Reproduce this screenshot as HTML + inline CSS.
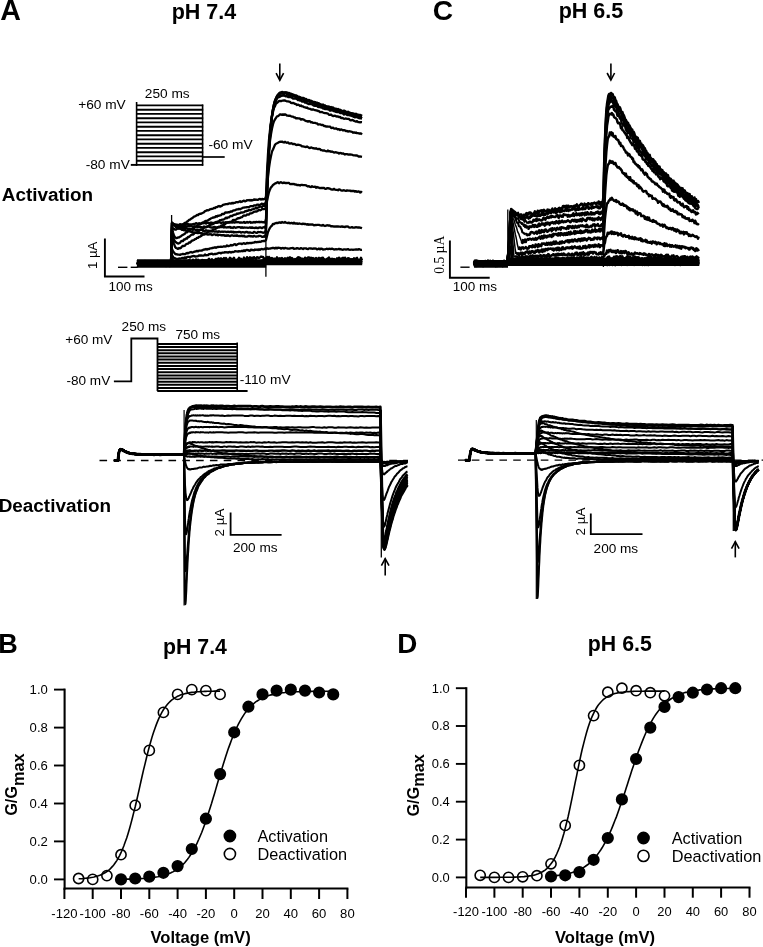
<!DOCTYPE html>
<html lang="en"><head><meta charset="utf-8"><title>Figure</title>
<style>html,body{margin:0;padding:0;background:#fff}svg{display:block}</style>
</head><body>
<svg width="763" height="947" viewBox="0 0 763 947" font-family="'Liberation Sans', Arial, sans-serif" fill="#000">
<rect width="763" height="947" fill="#fff"/>
<text x="0.2" y="19.7" font-size="28.6" font-weight="bold" text-anchor="start" >A</text>
<text x="432.7" y="20" font-size="28.2" font-weight="bold" text-anchor="start" >C</text>
<text x="-1.7" y="653.4" font-size="27" font-weight="bold" text-anchor="start" >B</text>
<text x="397.2" y="652.9" font-size="27.8" font-weight="bold" text-anchor="start" >D</text>
<text x="203.9" y="18.5" font-size="21.5" font-weight="bold" text-anchor="middle" >pH 7.4</text>
<text x="590.9" y="17.8" font-size="21.5" font-weight="bold" text-anchor="middle" >pH 6.5</text>
<text x="195" y="653.5" font-size="21.3" font-weight="bold" text-anchor="middle" >pH 7.4</text>
<text x="619.8" y="650.6" font-size="21.3" font-weight="bold" text-anchor="middle" >pH 6.5</text>
<text x="1.8" y="201.2" font-size="18.9" font-weight="bold" text-anchor="start" >Activation</text>
<text x="-1.3" y="511.7" font-size="18.9" font-weight="bold" text-anchor="start" >Deactivation</text>
<g fill="none" stroke="#000" stroke-linejoin="round" stroke-linecap="butt">
<polyline points="137,261.9 138,261.4 139,263 140,261.1 141,262.6 142,262.1 143,261.1 144,262.5 145,261 146,262.3 147,261.1 148,261.2 149,262.3 150,263.5 151,261.3 152,261.6 153,262.9 154,263.9 155,262.7 156,262.2 157,264 158,261 159,263.6 160,261.8 161,261.4 162,261.3 163,261.9 164,263.5 165,261.5 166,262.8 167,262.9 168,262.1 169,262.7 170,261.1 171,261.1 172,261.6 173,263.1 174,262.3 175,261.9 176,262.8 177,262.4 178,261.9 179,263.4 180,263.1 181,261.7 182,262.7 183,262.6 184,263.7 185,263.2 186,261.8 187,264 188,261.3 189,262.2 190,263.3 191,261.4 192,262.5 193,261 194,263 195,263.3 196,262.7 197,263.7 198,261.9 199,263.1 200,262.8 201,262.8 202,262.4 203,263.6 204,263.9 205,262.4 206,263 207,261.1 208,263.1 209,263 210,264.1 211,263.5 212,261.8 213,262.1 214,263 215,261 216,262.4 217,261.4 218,261.3 219,261.1 220,263.4 221,261.3 222,261.7 223,262.2 224,263.7 225,261.2 226,262.3 227,262.7 228,263.7 229,263.5 230,263.7 231,261.8 232,262.2 233,262 234,263.7 235,264 236,261.4 237,261.5 238,261.6 239,261.6 240,262.5 241,262.8 242,261.7 243,260.9 244,262.2 245,262.1 246,262.7 247,263.9 248,263.1 249,262.5 250,262.9 251,263.1 252,261.1 253,263.8 254,263.4 255,263.7 256,263.5 257,262.2 258,262.2 259,261.2 260,262.9 261,261.1 262,261.1 263,261.6 264,261.4 265,262 266,261 267,260.6 268,260.9 269,260.7 270,261.5 271,260.5 272,263.2 273,262.4 274,260.9 275,261.3 276,261.6 277,261.6 278,260.9 279,263.2 280,263.7 281,262 282,262 283,260.8 284,260.8 285,261.6 286,261.3 287,263.2 288,261 289,260.6 290,263.5 291,262.2 292,261 293,262.2 294,260.6 295,262.2 296,263.6 297,263.2 298,262.7 299,261.3 300,261.7 301,261 302,262.9 303,262.2 304,263 305,261.5 306,261.2 307,263.1 308,263.6 309,263.2 310,263 311,263.1 312,262.8 313,261.2 314,262.1 315,261.6 316,260.5 317,260.5 318,261.3 319,261.3 320,262.7 321,263.5 322,261.9 323,263.4 324,263.6 325,263.5 326,261.6 327,261.1 328,261.2 329,261.1 330,261.1 331,262.4 332,263.3 333,263.1 334,262 335,262.5 336,263 337,260.7 338,262.5 339,263.3 340,262.9 341,262.8 342,262 343,261 344,262.9 345,261.5 346,263 347,263.5 348,261.7 349,261.7 350,263.4 351,262.7 352,261 353,260.8 354,260.9 355,263.3 356,263 357,260.9 358,263 359,263.5 360,262.5 361,261.5 362,262.2" stroke-width="2.3" />
<polyline points="137,261.8 138,261.4 139,264.5 140,263.5 141,263.1 142,264.4 143,262.8 144,264.2 145,264 146,262.1 147,262.2 148,262.3 149,262.2 150,263.3 151,262.2 152,262.7 153,261.8 154,264.3 155,262.5 156,262.9 157,263.3 158,264.3 159,262.7 160,264.3 161,263 162,263.1 163,263.1 164,261.5 165,262.8 166,262 167,261.4 168,264 169,262 170,262.9 171,263.7 172,262.1 173,261.7 174,262.5 175,262.7 176,263.5 177,261.4 178,262.9 179,261.9 180,262 181,263.6 182,262.8 183,262.9 184,263.6 185,264 186,262.5 187,263.1 188,262.7 189,262.7 190,263.3 191,262.5 192,262.8 193,262.6 194,264.1 195,263.3 196,263.9 197,264.1 198,261.9 199,262.9 200,264.1 201,263.8 202,261.5 203,261.5 204,262.5 205,261.3 206,261.8 207,261.3 208,263.2 209,263.6 210,263.9 211,261.5 212,263.3 213,263.2 214,261.5 215,263.9 216,264.1 217,261.7 218,264.1 219,262.3 220,262.6 221,264.2 222,263.7 223,261.5 224,262.4 225,262.7 226,262.1 227,261.7 228,262 229,263.3 230,261.1 231,262.8 232,262.4 233,261.1 234,262.1 235,263 236,262.7 237,261.2 238,264.2 239,263.5 240,264.1 241,261.3 242,261.9 243,261.1 244,263.5 245,261.9 246,261.4 247,262.4 248,263.9 249,263.6 250,261.8 251,261.5 252,263.9 253,262.8 254,263.2 255,261.3 256,261.2 257,263.2 258,262.4 259,261.2 260,264 261,263 262,263.6 263,261.3 264,263.7 265,261.2 266,263.7 267,262 268,261.4 269,262 270,263.1 271,261 272,260.6 273,261.8 274,260.9 275,260.5 276,260.7 277,260.3 278,260.8 279,261.2 280,261.2 281,262.6 282,261.1 283,261.8 284,260.8 285,261.3 286,260.3 287,261 288,260.2 289,262.5 290,262 291,260.8 292,261.7 293,263.2 294,260.5 295,262.8 296,261.6 297,261.8 298,262.9 299,261.5 300,261.8 301,262.4 302,263.3 303,261.3 304,262.9 305,262.5 306,262.2 307,261.5 308,261.3 309,260.4 310,260.6 311,260.4 312,262.6 313,261 314,260.7 315,260.5 316,262.9 317,263 318,262.3 319,261.1 320,261 321,261.1 322,261.7 323,260.7 324,261.6 325,261 326,263.3 327,263.3 328,261.9 329,261 330,263.3 331,261.2 332,261.3 333,260.2 334,261.4 335,261.7 336,261.8 337,260.8 338,261.8 339,260.2 340,261 341,260.5 342,261.5 343,260.3 344,260.3 345,261.2 346,260.9 347,262.1 348,261.9 349,262.6 350,262.3 351,262.5 352,263 353,261.4 354,261.2 355,263.3 356,260.7 357,262.5 358,262.2 359,260.3 360,262.9 361,263 362,262.2" stroke-width="2.3" />
<polyline points="137,264.2 138,264.5 139,262.3 140,263.6 141,263.5 142,264.6 143,264.5 144,264.5 145,263.8 146,264.8 147,264.1 148,264.1 149,262.6 150,262 151,262.3 152,263.1 153,262.2 154,264.6 155,263.7 156,263.9 157,263.9 158,264.1 159,263.5 160,261.9 161,264.5 162,264.3 163,263.5 164,263.6 165,264 166,262.1 167,264.3 168,262.7 169,262.1 170,262.7 171,264.2 172,260.4 173,262.7 174,263.8 175,262.5 176,262.3 177,262.7 178,263.4 179,263.7 180,263.2 181,263.3 182,261.5 183,261.7 184,262 185,263.6 186,262.1 187,263 188,261.2 189,261.3 190,262 191,263.3 192,263.3 193,263.2 194,262 195,262.7 196,262.5 197,262.5 198,261.4 199,263.9 200,261.6 201,264.1 202,264 203,261 204,262.4 205,263.6 206,264.1 207,262.4 208,261.8 209,261.6 210,263.9 211,261.6 212,262.8 213,261.4 214,262.6 215,263.9 216,261.3 217,263.5 218,262.5 219,263.7 220,263.1 221,261.6 222,263.7 223,262.4 224,260.9 225,260.8 226,262.4 227,262.3 228,261.8 229,261.3 230,261.9 231,261.8 232,263.5 233,260.8 234,263.2 235,263.5 236,261.2 237,263.7 238,263.1 239,263.7 240,261.7 241,262 242,262 243,264 244,262.6 245,261.9 246,262.1 247,261.6 248,260.9 249,261.1 250,263.4 251,261.6 252,263.7 253,261.5 254,261.6 255,262.4 256,261.3 257,261.9 258,263.8 259,263.5 260,263.3 261,262.7 262,263.6 263,263.7 264,262.5 265,263 266,260.8 267,262.5 268,261.3 269,262.2 270,261.7 271,260.5 272,259.7 273,262.5 274,260 275,261.1 276,260.7 277,260.5 278,261.9 279,262.7 280,260.4 281,261.7 282,260.5 283,261.4 284,260.9 285,260.1 286,260.1 287,260.3 288,262.5 289,261.2 290,260.3 291,262.5 292,262.8 293,261 294,260.1 295,260.2 296,259.9 297,260.7 298,259.9 299,260.4 300,260.4 301,261.4 302,262.5 303,262 304,260.9 305,261 306,261.3 307,260.8 308,260.7 309,259.8 310,260.5 311,262.7 312,260 313,261.2 314,261.7 315,262.4 316,260.3 317,260.5 318,260.4 319,260.9 320,261.1 321,262.7 322,262.4 323,262.4 324,259.7 325,259.8 326,261.9 327,262.5 328,261.2 329,261.5 330,259.7 331,260.9 332,262.6 333,262.3 334,262.4 335,262.8 336,260.5 337,260 338,260.2 339,261.3 340,261.9 341,262.7 342,262 343,261.8 344,262.1 345,261.1 346,261.4 347,259.8 348,262.2 349,260.4 350,262.6 351,261.8 352,260.7 353,260.1 354,260.5 355,261.7 356,261.9 357,260.1 358,259.9 359,261.4 360,261.6 361,260.9 362,260.4" stroke-width="2.3" />
<polyline points="137,264.3 138,262.4 139,263.4 140,263.9 141,265.5 142,264.5 143,265.2 144,263.9 145,263.2 146,263.2 147,265.5 148,264.7 149,263.4 150,262.5 151,264 152,264.6 153,263.7 154,263.2 155,264.5 156,265.4 157,263.1 158,262.5 159,263.5 160,263.7 161,264.6 162,263 163,265 164,264.8 165,264 166,263.1 167,265.5 168,263.4 169,265 170,263.1 171,263.1 172,261.1 173,260.5 174,263.1 175,262 176,261.2 177,261.5 178,262.1 179,263 180,263.9 181,261.3 182,262.1 183,261.5 184,263.9 185,261.2 186,260.9 187,260.9 188,261.9 189,263.5 190,263.4 191,262.9 192,263.7 193,263.5 194,261.5 195,261.1 196,263.4 197,262.8 198,260.5 199,262.5 200,261.6 201,261.5 202,261.4 203,260.8 204,260.3 205,261.1 206,261.3 207,263.2 208,260.6 209,263.2 210,260.8 211,261.2 212,262.7 213,262.7 214,261.4 215,260.2 216,261.5 217,261.2 218,262.9 219,260.6 220,261.1 221,262.8 222,260 223,261.2 224,262.5 225,262.3 226,260 227,259.9 228,260 229,262.7 230,260.6 231,262.2 232,262.6 233,260.8 234,260.6 235,262.8 236,261.7 237,260.5 238,262 239,260.7 240,260.5 241,259.7 242,262 243,262.6 244,261.6 245,262.6 246,259.7 247,260.3 248,261.1 249,262.6 250,262.6 251,260.8 252,260.3 253,260.9 254,261.1 255,262.5 256,260.1 257,262 258,261.8 259,262.1 260,261.9 261,261.4 262,260.5 263,260.4 264,260.6 265,261.9 266,259.6 267,259.5 268,261.1 269,259.3 270,258.7 271,258.5 272,260.2 273,259.4 274,261.5 275,261.2 276,261.6 277,259.3 278,258.7 279,258.7 280,260 281,260.7 282,259.9 283,259.2 284,259.8 285,260.5 286,260.6 287,260.9 288,261.2 289,260.6 290,258.9 291,261.2 292,259.5 293,260.3 294,259.7 295,260.9 296,259.2 297,259.3 298,259.3 299,259 300,261.4 301,260.4 302,259.6 303,259.8 304,261.8 305,260.2 306,259.3 307,261.2 308,260.7 309,261.8 310,258.9 311,260.1 312,261.2 313,261.3 314,261.5 315,258.8 316,259.6 317,259 318,259.2 319,261.8 320,260.5 321,261.6 322,259.8 323,261.4 324,260.1 325,259.5 326,261.2 327,261.7 328,259 329,260.6 330,260.7 331,259.4 332,259.9 333,259.2 334,259.4 335,259.5 336,260.6 337,260.8 338,259.4 339,258.8 340,259.8 341,260.9 342,259.3 343,259.7 344,259.4 345,261.3 346,260.5 347,259 348,259.1 349,260 350,260.5 351,260.8 352,259.1 353,259.3 354,261 355,260.1 356,259.7 357,259.8 358,261.8 359,259.8 360,260.6 361,259.9 362,260.1" stroke-width="2.3" />
<polyline points="137,265.7 138,266.1 139,264.1 140,263.5 141,265.2 142,263.6 143,262.9 144,265.8 145,264.3 146,265.5 147,264.2 148,265.7 149,264.4 150,263.4 151,262.9 152,264.7 153,265 154,265.8 155,263.2 156,264.9 157,264.1 158,264.5 159,263.4 160,263.8 161,264.6 162,265.9 163,263.2 164,264.5 165,265.5 166,266 167,263.5 168,263.3 169,265.9 170,266 171,264.4 172,257.7 173,261.6 174,260.6 175,262.7 176,262 177,262.8 178,260.7 179,262.8 180,260.9 181,261.5 182,262.9 183,262.7 184,260.6 185,260.7 186,261.2 187,261.5 188,261 189,260.1 190,260.5 191,261.9 192,262.4 193,259.6 194,261.2 195,261.8 196,259.4 197,261.9 198,259.6 199,261.1 200,260.8 201,261 202,259.9 203,260.3 204,260.7 205,260.2 206,260.9 207,260.1 208,260 209,258.7 210,260.5 211,260 212,259.2 213,260.8 214,260.8 215,259.7 216,258.8 217,259.7 218,258.5 219,258.5 220,259.4 221,258.3 222,259.4 223,259.5 224,258 225,259.8 226,258 227,260.1 228,260.2 229,259.3 230,257.7 231,259.1 232,258.7 233,260.5 234,257.8 235,260.1 236,260.5 237,259.6 238,259.8 239,257.8 240,260.3 241,258.7 242,260.1 243,260 244,257.5 245,259.5 246,259.9 247,257.1 248,258 249,259.2 250,257.3 251,259.6 252,257.6 253,259.3 254,257.1 255,258.2 256,259.5 257,257.2 258,257.3 259,258.1 260,257.4 261,256.5 262,256.9 263,256.8 264,259.3 265,258.4 266,259.1 267,256.9 268,259 269,256.9 270,258.4 271,258.8 272,257.9 273,259.6 274,258.6 275,258.7 276,259.7 277,257.3 278,260.1 279,259 280,258.2 281,259.6 282,257.9 283,260.2 284,258.9 285,258.2 286,259.5 287,258.5 288,257.7 289,259.5 290,257.3 291,259.7 292,257.9 293,259.2 294,260.3 295,259 296,259.3 297,258.2 298,257.2 299,257.3 300,257.7 301,259.2 302,258.6 303,258.9 304,260.1 305,257.7 306,258 307,259.4 308,257.4 309,257.3 310,258.4 311,257.7 312,258.5 313,258 314,259.2 315,259.2 316,258 317,259.4 318,258.9 319,257.8 320,260.4 321,258.2 322,257.9 323,257.7 324,259.5 325,260.2 326,259.9 327,258.7 328,258.3 329,257.5 330,259.5 331,259.3 332,258.6 333,259.6 334,258.9 335,260.5 336,259.9 337,258.3 338,260.4 339,257.7 340,259.2 341,258.9 342,258.3 343,257.8 344,260.1 345,257.6 346,259.4 347,260.6 348,258.1 349,258.3 350,259.6 351,259.2 352,259.7 353,260.2 354,258.2 355,258.6 356,258.6 357,257.8 358,260.5 359,260.2 360,260 361,257.7 362,260.4" stroke-width="2.3" />
<polyline points="137,263.8 138,263.5 139,263.8 140,263.4 141,263.2 142,263.1 143,263.2 144,263 145,263.3 146,263.8 147,263.7 148,263.9 149,263.7 150,263.2 151,263.6 152,263.4 153,263.8 154,263.5 155,263.2 156,263.7 157,264 158,263.2 159,263.9 160,263 161,263.2 162,263.2 163,263.8 164,264 165,263.8 166,263.3 167,263.9 168,263.3 169,263.2 170,263.9 171,263.6 172,255.1 173,256.8 174,258.1 175,258.1 176,258.8 177,258.8 178,259 179,258.5 180,258.7 181,258.4 182,258 183,257.8 184,258.1 185,257.3 186,258.1 187,257.1 188,256.8 189,256.8 190,257.5 191,256.7 192,256.4 193,256.1 194,256 195,256.6 196,256.3 197,256.3 198,256.2 199,255.3 200,255.8 201,255.4 202,255.7 203,255.6 204,255.6 205,254.5 206,255.3 207,255.2 208,255.1 209,254.1 210,254 211,253.8 212,253.6 213,254.4 214,254.2 215,253.9 216,254 217,253.7 218,253.2 219,252.9 220,252.8 221,253.4 222,252.7 223,252.7 224,252.7 225,252.1 226,252.3 227,252.2 228,252.6 229,252.1 230,251.9 231,252.5 232,251.9 233,252.2 234,251.9 235,251.1 236,251.4 237,251.4 238,251.6 239,251.1 240,251.4 241,251.1 242,250.7 243,251.3 244,250.3 245,251 246,250.2 247,250 248,250.1 249,250.6 250,250.8 251,249.6 252,250.1 253,250 254,250.3 255,249.5 256,249.8 257,249.5 258,250 259,249.3 260,249.9 261,249.1 262,249 263,249.4 264,249.1 265,248.6 266,249.1 267,248.2 268,248.8 269,248.6 270,248.5 271,248.3 272,248 273,248 274,247.9 275,248.5 276,247.6 277,248.5 278,247.6 279,247.8 280,247.8 281,248.6 282,248.1 283,248 284,248.6 285,247.9 286,248.2 287,248.3 288,248.6 289,248.6 290,248.5 291,248.2 292,248.2 293,248 294,248.8 295,248.6 296,248.7 297,248.1 298,248.4 299,248.8 300,248.6 301,248.1 302,248.5 303,249 304,248.3 305,248.3 306,248.4 307,248.9 308,249.1 309,248.3 310,248.4 311,248.5 312,248.6 313,248.8 314,248.4 315,248.6 316,248.5 317,249.4 318,249.1 319,248.5 320,249.4 321,248.5 322,248.8 323,249.5 324,249.3 325,249.3 326,249 327,248.7 328,249.2 329,248.7 330,248.8 331,249 332,248.6 333,249 334,249.5 335,249.4 336,249.2 337,249.4 338,249.2 339,248.9 340,249.4 341,249.2 342,249.6 343,249.8 344,249.3 345,249.4 346,249.6 347,249.3 348,249.1 349,249.7 350,249.8 351,249.7 352,249.7 353,249.9 354,249.7 355,249.7 356,249.5 357,249.3 358,249.7 359,249.1 360,249.5 361,249.9 362,249.8" stroke-width="2.3" />
<polyline points="137,263.6 138,263.2 139,263.4 140,263.5 141,263.6 142,263.4 143,263.7 144,264 145,263.2 146,263.7 147,263.8 148,263.4 149,263.5 150,264 151,263 152,263.5 153,263.1 154,263.8 155,264 156,263.5 157,263.1 158,263.6 159,263.5 160,263.7 161,263.5 162,263.7 163,263.9 164,263.5 165,263.4 166,264 167,263.2 168,263.7 169,263.4 170,263.8 171,263.1 172,249.1 173,251.2 174,252.5 175,253.7 176,254.4 177,254.2 178,254.7 179,254.7 180,254.9 181,254.3 182,254.1 183,253.8 184,254.2 185,254.2 186,253.5 187,252.9 188,253.4 189,252.7 190,252.3 191,252 192,252.5 193,252.3 194,251.9 195,251.5 196,251.4 197,250.8 198,251.4 199,250.6 200,250.7 201,250.7 202,250.5 203,249.9 204,249.5 205,249.6 206,249 207,249.6 208,248.8 209,249.2 210,248.4 211,248.3 212,248 213,248 214,247.6 215,247.2 216,247.8 217,247.2 218,247 219,246.9 220,246.9 221,246.7 222,246.8 223,246.6 224,246.2 225,246.6 226,246.4 227,245.4 228,246.1 229,246 230,245.7 231,244.9 232,245.5 233,245.1 234,244.3 235,244.2 236,245.1 237,244.6 238,244 239,243.7 240,243.6 241,243.6 242,244.1 243,243.5 244,243.1 245,243.8 246,243.6 247,242.8 248,243.4 249,243 250,243.1 251,242.8 252,243 253,242.7 254,242.7 255,241.8 256,242.3 257,242 258,242.1 259,241.7 260,242 261,241.6 262,241.1 263,241 264,240.8 265,241.1 266,240 267,235.9 268,232 269,229.8 270,227.8 271,226.4 272,225.6 273,223.8 274,224.1 275,223.3 276,223 277,222.9 278,223 279,222.4 280,222.4 281,222.9 282,222 283,222.6 284,222.7 285,222 286,222.7 287,222.9 288,223.2 289,222.6 290,223.4 291,223 292,223 293,223.6 294,222.7 295,223.5 296,223.5 297,223.3 298,223.9 299,223.5 300,223.7 301,223.8 302,224.2 303,223.6 304,224 305,224 306,224.2 307,224.6 308,224.1 309,224.8 310,224.4 311,224.6 312,224.4 313,224.7 314,225.3 315,225 316,225.2 317,224.8 318,224.9 319,224.9 320,225.3 321,225.4 322,225.7 323,224.9 324,225.7 325,226 326,225.7 327,225.2 328,225.5 329,225.3 330,225.6 331,226.4 332,226.1 333,226.3 334,226.5 335,226.7 336,226.4 337,226.5 338,226.5 339,226.7 340,226.6 341,226.8 342,226.3 343,226.9 344,226.7 345,227.1 346,226.5 347,226.6 348,226.5 349,227.4 350,227.6 351,227.4 352,227.1 353,227.7 354,227.7 355,227.5 356,227.2 357,227.3 358,227.5 359,227.4 360,227.6 361,227.9 362,228.3" stroke-width="2.3" />
<polyline points="137,263 138,263.6 139,263 140,263.1 141,263.8 142,263.6 143,264 144,263.4 145,263 146,263.4 147,263.6 148,264 149,264 150,263.5 151,263.4 152,263.1 153,263.7 154,263.2 155,263.1 156,263 157,263 158,263.7 159,263.1 160,264 161,263 162,263.9 163,263.1 164,263 165,263.7 166,263.2 167,263.8 168,263.2 169,263 170,263.8 171,263.7 172,234.1 173,240.6 174,243.8 175,246.7 176,248 177,248.3 178,248.9 179,248 180,248.4 181,247.7 182,246.4 183,245.8 184,246 185,245.6 186,244.2 187,243.8 188,243.7 189,242.5 190,242.6 191,241.6 192,240.6 193,240.3 194,240 195,239.2 196,238.9 197,237.8 198,237.9 199,236.9 200,236.7 201,236.1 202,235.3 203,234.7 204,234.6 205,234.3 206,233.6 207,232.8 208,232 209,231.2 210,231.7 211,230.9 212,230.5 213,229.5 214,229.3 215,229.2 216,228.6 217,227.8 218,227 219,226.7 220,226.7 221,225.7 222,225.5 223,225 224,224.9 225,224.3 226,223.3 227,222.5 228,222.4 229,222.1 230,221.8 231,221.6 232,221.3 233,219.9 234,220.4 235,219.9 236,219.6 237,218.8 238,218.1 239,218.3 240,217.9 241,217.3 242,217.2 243,216.1 244,215.5 245,215.6 246,215.5 247,214.4 248,214.6 249,214.5 250,213.3 251,213.4 252,213.1 253,212.5 254,211.8 255,211.5 256,211.7 257,211.4 258,210.7 259,209.9 260,210.3 261,210 262,209 263,209.1 264,209.1 265,208.7 266,207.3 267,200.9 268,196.2 269,192.1 270,189.4 271,187.3 272,186.4 273,184.9 274,184.3 275,183.5 276,183.2 277,182.5 278,182.2 279,183.2 280,182.5 281,182.2 282,182.8 283,183.1 284,182.5 285,183 286,182.9 287,183.2 288,182.8 289,182.9 290,184.1 291,184.1 292,183.9 293,184.1 294,183.9 295,184.6 296,184.4 297,185.1 298,185 299,185.2 300,185.5 301,184.9 302,184.8 303,185.1 304,185.2 305,185.2 306,185.3 307,186 308,186.5 309,186.2 310,186.9 311,187 312,186.2 313,186.9 314,186.8 315,186.6 316,187.7 317,187 318,187.5 319,187.7 320,188.2 321,188 322,187.8 323,188 324,187.8 325,188.8 326,188.9 327,188.2 328,188.1 329,188.5 330,188.7 331,189.4 332,189.5 333,189.6 334,188.8 335,189.7 336,189.8 337,189.8 338,190.3 339,189.4 340,189.6 341,190.4 342,190.7 343,190.5 344,190.2 345,190.6 346,190.9 347,190.3 348,190.6 349,190.6 350,190.6 351,191.1 352,190.8 353,191 354,191 355,191.7 356,191.1 357,191.9 358,191.5 359,191.4 360,192.5 361,191.8 362,192.7" stroke-width="2.3" />
<polyline points="137,263.9 138,263.9 139,263.1 140,263.4 141,263.1 142,264 143,263.9 144,263.6 145,263.4 146,263.3 147,263.9 148,263.5 149,263.6 150,263.1 151,263.2 152,263 153,263.7 154,263.6 155,263.1 156,263.9 157,263.2 158,263.4 159,263.1 160,263.2 161,263.9 162,263.3 163,263.1 164,263.5 165,263.3 166,263.9 167,263.1 168,264 169,263 170,263.9 171,263.7 172,230 173,236.2 174,239.5 175,241.4 176,242.3 177,242.9 178,243.5 179,243.3 180,242.8 181,241.3 182,240.9 183,241 184,239.5 185,239.6 186,238.4 187,238.6 188,236.9 189,237.1 190,236 191,235.1 192,234.4 193,234.7 194,233.8 195,232.8 196,232.5 197,232.4 198,231.1 199,230.9 200,229.9 201,229.4 202,229.5 203,228.9 204,227.8 205,227.2 206,226.7 207,226.8 208,226.1 209,225.4 210,224.8 211,224.8 212,224.4 213,224.1 214,223.4 215,222.5 216,221.9 217,222.2 218,221.4 219,221.3 220,220.1 221,220.5 222,219.6 223,219.7 224,219.3 225,218.5 226,217.6 227,218.2 228,217.3 229,217.4 230,216.3 231,215.9 232,216.2 233,215.3 234,214.8 235,214.6 236,214.5 237,213.5 238,213.8 239,213.3 240,213.1 241,212.3 242,212.6 243,212.4 244,212.2 245,211.2 246,211.4 247,210.7 248,210.8 249,209.7 250,210.3 251,210.1 252,209.3 253,209.1 254,208.8 255,208.5 256,207.7 257,208.5 258,207.4 259,207.1 260,206.7 261,206.6 262,207 263,205.9 264,205.7 265,206.1 266,203.6 267,187.9 268,176.8 269,167.8 270,161 271,156.1 272,151.5 273,149.5 274,147.1 275,144.8 276,143.7 277,143.3 278,142.8 279,142.1 280,141.7 281,141.9 282,141.6 283,142.1 284,142.5 285,141.8 286,142.5 287,142.8 288,142.4 289,143.3 290,143.6 291,143.2 292,143.5 293,144.2 294,144 295,144.1 296,144.9 297,145 298,144.7 299,144.8 300,145.2 301,145.5 302,146.3 303,146.3 304,146.7 305,146.8 306,147 307,146.4 308,147.1 309,147.8 310,148 311,147.4 312,147.8 313,148.3 314,148.2 315,148.6 316,148.2 317,148.8 318,149.1 319,148.8 320,149.1 321,150.2 322,150.2 323,150.6 324,150.4 325,150.8 326,151.1 327,151.3 328,150.5 329,151.4 330,151.1 331,151.8 332,151.5 333,152 334,152.6 335,152.4 336,152.2 337,152.7 338,152.8 339,153.5 340,152.9 341,153.1 342,153.7 343,153.3 344,153.9 345,154.5 346,154.2 347,154.1 348,154.5 349,154.7 350,154.4 351,154.6 352,154.7 353,155.1 354,155.4 355,155.4 356,155.5 357,155.5 358,156.1 359,156.6 360,156.5 361,156.6 362,156.8" stroke-width="2.3" />
<polyline points="137,263.2 138,263.7 139,263.5 140,263.6 141,263.6 142,263.5 143,263.3 144,263.2 145,263.2 146,263.5 147,263.4 148,263.6 149,263 150,263.3 151,263.9 152,263.2 153,263.6 154,263.5 155,263.3 156,264 157,263.3 158,263.8 159,263.1 160,263 161,263.9 162,263.4 163,263 164,263.4 165,263.4 166,263.8 167,263.1 168,263.2 169,264 170,263.8 171,263.1 172,227.6 173,232.5 174,235.7 175,237.1 176,238 177,238.1 178,237.5 179,237.4 180,236.8 181,236.2 182,235.3 183,234.9 184,234.2 185,233.7 186,232.2 187,232.3 188,230.7 189,230.9 190,230 191,229.3 192,229.2 193,228.1 194,227.3 195,227.2 196,226.7 197,225.8 198,225 199,224.5 200,224 201,223.7 202,222.7 203,222.3 204,222 205,221.3 206,220.8 207,220.8 208,220.4 209,219.6 210,219.1 211,218.3 212,218 213,217.4 214,217.5 215,217.1 216,216.1 217,216.6 218,215.6 219,215.8 220,215.4 221,215.2 222,214 223,213.9 224,214 225,212.7 226,212.4 227,212.6 228,212.2 229,212.4 230,211.9 231,211.3 232,211.5 233,210.7 234,210.4 235,210.3 236,209.7 237,209.4 238,209.4 239,208.9 240,209.3 241,208.7 242,208.3 243,207.6 244,207.6 245,207.4 246,207.4 247,207.1 248,207.2 249,207.1 250,206.4 251,206.1 252,206.1 253,206.3 254,205.4 255,205.4 256,205.5 257,204.6 258,204.6 259,205.1 260,204.8 261,204.2 262,203.6 263,204.3 264,203.9 265,203.9 266,201.5 267,179.8 268,162.9 269,150.2 270,140.9 271,134 272,128.6 273,124.2 274,121.2 275,119.4 276,117.8 277,116.3 278,116.2 279,115.3 280,114.3 281,114.5 282,114.9 283,114.4 284,114.9 285,114.3 286,114.8 287,115.6 288,115.6 289,115.9 290,115.7 291,116.3 292,116.7 293,116.6 294,117.4 295,117.5 296,118.3 297,118.2 298,118.3 299,118.3 300,118.6 301,119.6 302,119.1 303,119.4 304,119.8 305,120.5 306,121.1 307,121.1 308,121.6 309,121.1 310,121.3 311,122.4 312,122.2 313,122.9 314,122.8 315,122.9 316,123.3 317,123.3 318,124.5 319,124.4 320,124.4 321,124.8 322,125 323,124.9 324,126 325,125.9 326,126.6 327,126.3 328,126.7 329,126.6 330,126.6 331,127.8 332,128 333,127.6 334,128.5 335,128.7 336,128.3 337,128.9 338,129.5 339,129.2 340,130 341,129.4 342,129.8 343,130.4 344,130.1 345,130.4 346,131.2 347,131 348,131.6 349,131.2 350,131.3 351,131.7 352,131.8 353,132.8 354,132.3 355,132.8 356,132.5 357,133.2 358,133.2 359,133.5 360,133.3 361,133.5 362,134.5" stroke-width="2.3" />
<polyline points="137,263.3 138,263.2 139,263.2 140,263.3 141,263.2 142,263 143,263.7 144,263.3 145,263.1 146,263.7 147,263.1 148,263.2 149,263.9 150,263.1 151,263.4 152,263.9 153,263.8 154,263.1 155,263.3 156,263.7 157,263.4 158,264 159,263.2 160,264 161,263.5 162,263.2 163,263.4 164,263.1 165,263.7 166,263.2 167,263.9 168,263.6 169,263.4 170,263.2 171,263.6 172,225.6 173,228.6 174,228.8 175,229.6 176,229.5 177,228.8 178,228.7 179,227.6 180,227.2 181,226.3 182,225.2 183,224.5 184,223.4 185,222.8 186,222.8 187,221.5 188,221.1 189,219.9 190,219.7 191,218.8 192,218.3 193,217.5 194,216.6 195,216.3 196,215.7 197,215 198,215.1 199,214.1 200,213.7 201,213.8 202,213.2 203,212.8 204,212.3 205,211.1 206,210.8 207,210.1 208,210.4 209,210 210,209.3 211,209 212,208.9 213,208.6 214,207.8 215,208.1 216,207.2 217,207.2 218,206.4 219,206 220,206.6 221,206.1 222,205.8 223,204.8 224,204.6 225,204.4 226,204.2 227,204.1 228,204 229,203.4 230,203.4 231,203.6 232,202.9 233,203.4 234,202.9 235,202.9 236,202.2 237,202.2 238,202.3 239,201.7 240,201.2 241,202 242,201.7 243,201 244,200.6 245,201.4 246,201 247,200.2 248,200.3 249,200 250,200.6 251,199.9 252,200.5 253,200.2 254,199.4 255,199.9 256,199.5 257,199.8 258,199.8 259,199.1 260,198.8 261,199.6 262,198.9 263,199.4 264,199.1 265,199 266,196.3 267,172.3 268,154 269,139.8 270,130.1 271,121.9 272,116 273,112 274,107.8 275,106.1 276,103.5 277,102.9 278,102.1 279,101 280,100.9 281,101.2 282,100.7 283,100.7 284,100.5 285,100.4 286,101 287,101.3 288,101.3 289,101.7 290,101.9 291,102.8 292,103.1 293,102.9 294,103.3 295,103.9 296,104.2 297,105 298,104.7 299,105 300,106 301,105.5 302,106.3 303,106.4 304,107.2 305,107.3 306,107.8 307,107.5 308,108.3 309,108.6 310,108.8 311,109.4 312,109.8 313,109.3 314,109.8 315,110.2 316,110.3 317,110.5 318,111 319,111.2 320,112 321,112.1 322,112 323,112.5 324,112.9 325,113.1 326,113.2 327,113.4 328,113.6 329,114.9 330,114.9 331,114.5 332,115.4 333,116 334,115.8 335,115.6 336,116.3 337,116.5 338,116.4 339,117.1 340,116.8 341,118 342,118 343,118.2 344,118.8 345,118.7 346,118.5 347,118.8 348,118.9 349,119 350,120.1 351,120.4 352,120 353,120.2 354,120.9 355,121.3 356,121.7 357,121.1 358,122 359,122.2 360,122.4 361,122.1 362,122.2" stroke-width="2.3" />
<polyline points="137,263.9 138,263.3 139,263.4 140,263.6 141,263.4 142,263.9 143,263.2 144,263 145,263.6 146,263.6 147,263.9 148,263.7 149,263.9 150,264 151,263.5 152,263.5 153,263.1 154,263.3 155,263.6 156,263 157,263.7 158,263.1 159,263.4 160,264 161,263 162,263 163,263.4 164,263.2 165,263.7 166,263 167,263.9 168,263.9 169,263.8 170,263.4 171,263.3 172,223.1 173,223.8 174,224.1 175,224.3 176,224.6 177,224.9 178,225 179,225.1 180,224.2 181,224.3 182,224.4 183,224.5 184,224.2 185,223.9 186,223.7 187,223.9 188,224 189,224.5 190,224.4 191,224.3 192,224.3 193,224.2 194,223.8 195,224 196,223.1 197,223.7 198,223.6 199,223.2 200,223.5 201,223.8 202,223.3 203,223.4 204,223 205,223 206,223.6 207,222.6 208,222.7 209,223.2 210,223 211,222.5 212,223.1 213,222.8 214,223 215,222.8 216,222.9 217,222.9 218,222.7 219,222.3 220,222.4 221,223.1 222,222.7 223,222.2 224,223.1 225,222.4 226,222.2 227,222.6 228,222.3 229,222.5 230,222.6 231,222.2 232,222.6 233,222.1 234,222.5 235,222.6 236,222 237,222.3 238,222 239,222.3 240,222.8 241,222.4 242,222.6 243,222.7 244,221.9 245,222.9 246,222.6 247,221.9 248,222.7 249,222.2 250,221.9 251,222.8 252,222.4 253,222.6 254,221.9 255,222.6 256,221.8 257,222 258,222.1 259,221.7 260,222.3 261,221.9 262,222 263,222.4 264,222.1 265,222.6 266,218.8 267,188.8 268,165.3 269,148.1 270,134.6 271,123.7 272,116.6 273,110.4 274,106.5 275,103.2 276,101 277,98.5 278,97.5 279,97.1 280,96.7 281,96.1 282,95.2 283,95.8 284,95.3 285,95.9 286,96.4 287,95.9 288,97 289,97.1 290,96.9 291,97.2 292,97.8 293,98.5 294,98.6 295,98.4 296,98.7 297,99.1 298,100.2 299,99.9 300,100.7 301,100.7 302,101.5 303,101.5 304,101.6 305,102.7 306,102.7 307,103.2 308,103.7 309,104.2 310,103.5 311,104.2 312,104.3 313,105 314,105.7 315,105.9 316,105.4 317,105.9 318,106.9 319,107.1 320,107.1 321,107.5 322,107.4 323,108.5 324,108.3 325,109.1 326,109.1 327,108.8 328,109.4 329,109.6 330,110.6 331,110.5 332,110.2 333,110.6 334,111.1 335,111.5 336,111.9 337,112 338,112.2 339,112.1 340,113 341,113 342,112.9 343,113.7 344,114.5 345,113.8 346,114.1 347,115 348,114.8 349,115 350,115.5 351,115.5 352,116.1 353,116.3 354,117 355,117.3 356,116.5 357,117.3 358,117.8 359,118.2 360,118.3 361,118.4 362,118.6" stroke-width="2.3" />
<polyline points="137,263.3 138,263.3 139,263.8 140,263.9 141,264 142,263.7 143,263.3 144,263.8 145,263.8 146,263.5 147,263.6 148,263.3 149,263.6 150,263.4 151,263 152,263.3 153,263.3 154,264 155,263.5 156,263.4 157,263.2 158,263.2 159,263.3 160,263.1 161,263 162,263.9 163,263.4 164,263.4 165,263.6 166,263.3 167,263.1 168,263 169,263.3 170,263.3 171,263.7 172,222.6 173,224 174,224 175,225.1 176,225.1 177,224.8 178,225.1 179,225.6 180,226.2 181,225.6 182,226.1 183,225.8 184,226.4 185,225.6 186,226.1 187,226.6 188,226 189,226 190,225.8 191,226 192,226.2 193,226.7 194,226.2 195,226.5 196,226.3 197,226.8 198,227.1 199,226.9 200,226.4 201,227.1 202,227.4 203,227 204,226.5 205,227.3 206,227.4 207,226.8 208,226.6 209,226.7 210,227.1 211,227.5 212,227.3 213,227.6 214,226.9 215,227 216,227.5 217,227.4 218,227.2 219,227.5 220,227.1 221,226.8 222,227.2 223,226.9 224,227.5 225,227.2 226,227.4 227,227.5 228,227.2 229,227.4 230,226.9 231,227.9 232,227.5 233,228 234,227 235,227.6 236,227.8 237,227.3 238,227.1 239,227.2 240,227.2 241,227.9 242,227.1 243,227.9 244,227.5 245,227.6 246,227.7 247,227.7 248,227.8 249,227.7 250,227.4 251,227.9 252,227.4 253,227.9 254,227.9 255,228 256,227.4 257,228 258,228.2 259,227.6 260,227.4 261,227.7 262,228.2 263,227.3 264,227.2 265,227.7 266,224.2 267,192.2 268,167.2 269,149.2 270,134.2 271,124 272,115.1 273,108.9 274,104.4 275,100.9 276,98.8 277,97 278,95.3 279,95.2 280,94 281,93.4 282,93.2 283,93.8 284,94.1 285,93.4 286,93.4 287,94.5 288,94.2 289,95.3 290,95.1 291,95.5 292,95.6 293,96.4 294,96.4 295,96.6 296,97.6 297,97.1 298,98.2 299,97.8 300,98.8 301,98.9 302,99.7 303,99.2 304,100.1 305,100.3 306,101.2 307,101.6 308,101.6 309,101.5 310,101.9 311,102.2 312,102.7 313,102.9 314,103.2 315,104.1 316,104.3 317,104.3 318,105.3 319,104.8 320,105.5 321,105.4 322,106.5 323,106.8 324,106.4 325,107.3 326,107.7 327,107.4 328,107.7 329,108.2 330,109 331,108.5 332,109.3 333,109.5 334,109.7 335,110.1 336,110.7 337,110.3 338,111.3 339,111 340,111.7 341,112.1 342,111.6 343,112.7 344,113.1 345,112.6 346,112.5 347,112.9 348,114.1 349,113.3 350,114.6 351,114 352,114.9 353,114.5 354,114.8 355,115.6 356,115.2 357,115.7 358,116.6 359,116.7 360,117.1 361,117.4 362,116.6" stroke-width="2.3" />
<polyline points="137,263.2 138,263.8 139,263.7 140,263 141,263.5 142,263.2 143,263.4 144,263.1 145,263 146,264 147,263.3 148,263.9 149,263.1 150,263.5 151,263.1 152,263.4 153,263.1 154,263.7 155,263.1 156,263.8 157,263.5 158,263.1 159,263.3 160,263.5 161,264 162,263.3 163,263.2 164,264 165,263.9 166,263.8 167,263.3 168,263.1 169,263.2 170,263 171,263 172,222.6 173,223.7 174,224.7 175,225.2 176,225.3 177,226.4 178,226.7 179,226.9 180,227.1 181,227.5 182,228 183,228.1 184,228.2 185,228 186,228.1 187,228.4 188,229.1 189,228.6 190,228.8 191,229 192,228.8 193,229.9 194,228.9 195,229.7 196,230.2 197,229.5 198,230 199,229.9 200,229.8 201,229.9 202,229.9 203,230.8 204,230.8 205,231 206,230.2 207,230.9 208,230.6 209,231 210,231 211,230.8 212,231.6 213,230.6 214,231.5 215,231.6 216,231.3 217,231.5 218,232 219,231.2 220,231.6 221,231.8 222,231.5 223,231.9 224,231.6 225,231.7 226,231.9 227,232 228,231.6 229,232 230,231.9 231,231.6 232,232.1 233,231.7 234,232.5 235,232 236,232.3 237,232.1 238,232.1 239,231.8 240,231.8 241,232.6 242,232.2 243,232.2 244,232.3 245,232.6 246,232 247,231.9 248,232.7 249,232.3 250,232.5 251,232.7 252,232.8 253,232.8 254,231.9 255,232.3 256,232.8 257,232.8 258,232 259,232.1 260,232.2 261,232 262,232.3 263,232.8 264,232.5 265,232.4 266,228.2 267,195.1 268,170.3 269,150.5 270,135.4 271,124.3 272,116.1 273,109.6 274,104.2 275,101.1 276,98.2 277,96.4 278,94.7 279,93.9 280,93.2 281,92.8 282,92.2 283,92.4 284,92.8 285,92.4 286,92.7 287,93.5 288,93.3 289,93.7 290,93.9 291,94.9 292,94.4 293,95.4 294,96 295,95.6 296,96.2 297,97 298,97.1 299,97.2 300,97.2 301,98 302,98.3 303,99.1 304,99 305,99.4 306,100 307,100.6 308,100.4 309,100.8 310,101.4 311,102.1 312,101.6 313,102.8 314,102.9 315,102.8 316,103.5 317,103.4 318,103.5 319,104.6 320,104.5 321,104.9 322,105.2 323,106 324,106.1 325,105.6 326,106.6 327,106.7 328,107.1 329,107.8 330,107.6 331,108 332,108.7 333,108.5 334,108.9 335,109.2 336,109.8 337,109.9 338,110.3 339,110.2 340,110.1 341,111.1 342,111.2 343,111.7 344,112 345,111.6 346,111.9 347,112.1 348,113.1 349,112.6 350,112.9 351,113.9 352,113.9 353,113.6 354,114.6 355,114.8 356,114.8 357,114.6 358,115.6 359,115.5 360,116 361,116.7 362,116.7" stroke-width="2.3" />
<polyline points="137,263.9 138,263.1 139,263.3 140,263.5 141,263 142,264 143,263.3 144,263.2 145,263.3 146,263.2 147,263.9 148,263.6 149,263.5 150,263.4 151,263 152,263.3 153,263.9 154,263.8 155,263.9 156,263.2 157,263.2 158,263 159,263.5 160,263.4 161,263.5 162,263.5 163,263.6 164,263.4 165,263.8 166,263.2 167,264 168,263.6 169,263 170,263.3 171,263.5 172,223.1 173,224.6 174,225.4 175,226.1 176,227.3 177,227.3 178,228.2 179,228.7 180,228.8 181,229 182,229.9 183,229.6 184,230.4 185,229.8 186,230.4 187,230.9 188,230.5 189,231.6 190,231 191,231.8 192,231.5 193,232.5 194,232.3 195,232.8 196,232.6 197,233 198,233.1 199,232.8 200,232.9 201,233.7 202,233.1 203,234.1 204,233.4 205,233.4 206,233.5 207,234.4 208,234.7 209,234.2 210,234.5 211,234.2 212,235 213,234.8 214,234.3 215,234.3 216,235.1 217,234.4 218,235.4 219,234.8 220,234.8 221,235.3 222,235.1 223,235.4 224,235 225,235.9 226,235.3 227,235.9 228,235.2 229,235.9 230,236.2 231,235.6 232,235.2 233,235.6 234,235.9 235,235.5 236,235.9 237,235.4 238,235.9 239,236.2 240,235.9 241,236.2 242,235.6 243,236.4 244,235.7 245,236.6 246,236.7 247,236.6 248,236.2 249,235.9 250,236 251,236.5 252,236.2 253,236.7 254,235.8 255,236.3 256,236.7 257,236.4 258,236.4 259,235.9 260,235.9 261,236.1 262,236.8 263,236.8 264,236.1 265,236.9 266,231.9 267,198.1 268,172.3 269,151.6 270,137 271,125.1 272,115.7 273,109.4 274,104.5 275,100.6 276,98.4 277,95.8 278,95 279,93.4 280,92.5 281,92.6 282,91.9 283,92.3 284,92.6 285,92.5 286,92.5 287,92.3 288,93.1 289,92.9 290,93.8 291,93.6 292,94.4 293,94.5 294,94.9 295,95.6 296,95.4 297,95.8 298,97 299,96.7 300,97.6 301,98 302,97.9 303,97.9 304,98.2 305,99.4 306,98.9 307,99.7 308,100.1 309,100 310,100.7 311,100.7 312,101.4 313,101.8 314,101.9 315,102.1 316,102.6 317,102.7 318,103 319,103.4 320,104.4 321,104.4 322,105.1 323,104.5 324,105.8 325,105.6 326,106.2 327,106.3 328,106.7 329,106.5 330,107.4 331,107 332,107.5 333,107.5 334,108.2 335,108.6 336,108.7 337,109.6 338,109 339,109.8 340,109.7 341,110.4 342,110.9 343,111.1 344,110.6 345,111.1 346,111.8 347,112.5 348,111.7 349,112.6 350,112.9 351,113.3 352,113.1 353,113.8 354,113.7 355,114.5 356,113.7 357,115 358,114.7 359,114.9 360,114.8 361,115.2 362,116" stroke-width="2.3" />
<line x1="137" y1="263.5" x2="266.2" y2="263.5" stroke-width="8.6" />
<line x1="265.6" y1="262.1" x2="362.2" y2="262.1" stroke-width="6.2" />
<line x1="171.6" y1="265.5" x2="171.6" y2="215" stroke-width="1.3" />
<line x1="265.9" y1="201.5" x2="265.9" y2="276.8" stroke-width="1.3" />
<polyline points="474,262.9 474.7,260.8 475.4,261.6 476.1,260.8 476.8,261 477.5,261.1 478.2,261.5 478.9,264.1 479.6,264.2 480.3,263.4 481,262.1 481.7,262.2 482.4,263.3 483.1,263.8 483.8,263.2 484.5,262.7 485.2,261 485.9,262.7 486.6,263.6 487.3,263.3 488,260.6 488.7,263.1 489.4,261.6 490.1,260.8 490.8,264.1 491.5,262.9 492.2,263.2 492.9,260.7 493.6,263.5 494.3,263.9 495,263.8 495.7,263.2 496.4,263.5 497.1,263.4 497.8,262.6 498.5,261.9 499.2,263.5 499.9,263.3 500.6,263.7 501.3,261.4 502,264 502.7,262.3 503.4,264 504.1,260.7 504.8,264.1 505.5,263.3 506.2,261.2 506.9,263.6 507.6,261.9 508.3,261.8" stroke-width="2.5" />
<polyline points="508.3,261.8 509,262.1 509.7,261.9 510.4,262.2 511.1,262.7 511.8,262.9" stroke-width="1.5" />
<polyline points="511.8,262.9 512.5,263 513.2,261.8 513.9,263.3 514.6,263.4 515.3,262.9 516,264 516.7,263.5 517.4,261.8 518.1,260.5 518.8,262.8 519.5,263.5 520.2,261.6 520.9,262.6 521.6,263.5 522.3,263.4 523,260.2 523.7,262.2 524.4,260.3 525.1,260.6 525.8,263.4 526.5,261.9 527.2,262.6 527.9,262 528.6,261.5 529.3,261.1 530,261.6 530.7,263.6 531.4,262.7 532.1,261.4 532.8,260.6 533.5,261.3 534.2,263 534.9,262 535.6,262.8 536.3,263.4 537,260.7 537.7,262.9 538.4,260.4 539.1,263.5 539.8,260.9 540.5,261.3 541.2,264 541.9,261.6 542.6,261.1 543.3,263.8 544,262.6 544.7,263.8 545.4,261.8 546.1,262.2 546.8,264 547.5,262.2 548.2,264.2 548.9,261 549.6,263.5 550.3,260.8 551,262.3 551.7,260.2 552.4,260.9 553.1,264 553.8,262 554.5,263.4 555.2,261.2 555.9,261.6 556.6,260.6 557.3,262.4 558,263.6 558.7,262.3 559.4,261.7 560.1,263.9 560.8,263.8 561.5,262.9 562.2,260.5 562.9,262.7 563.6,262 564.3,264 565,261.6 565.7,262.8 566.4,262.7 567.1,261.7 567.8,262.3 568.5,262.9 569.2,263.8 569.9,262.2 570.6,261.7 571.3,264.1 572,260.4 572.7,263.5 573.4,262.9 574.1,262.4 574.8,262 575.5,263.2 576.2,263.8 576.9,263.1 577.6,263.2 578.3,260.3 579,261.5 579.7,260.7 580.4,264 581.1,263.8 581.8,260.8 582.5,262.6 583.2,262.5 583.9,260.4 584.6,261.8 585.3,263.2 586,262.8 586.7,261.3 587.4,263.2 588.1,261.4 588.8,262.4 589.5,261.9 590.2,264.1 590.9,262.8 591.6,263.4 592.3,262.9 593,261.7 593.7,264.1 594.4,263 595.1,263 595.8,261.3 596.5,260.8 597.2,262.5 597.9,263.5 598.6,263.4 599.3,261.6 600,260.8 600.7,262.3 601.4,263.7 602.1,260.8 602.8,263.2 603.5,260.9 604.2,261.8 604.9,260.9 605.6,262 606.3,262.5 607,264.9 607.7,264.9 608.4,261.9 609.1,262.4 609.8,264.9 610.5,262 611.2,262.5 611.9,262.9 612.6,261.6 613.3,262.2 614,262.8 614.7,262.7 615.4,265.1 616.1,262.3 616.8,262 617.5,264.8 618.2,263 618.9,264.5 619.6,263.7 620.3,264.3 621,262.5 621.7,261.8 622.4,264.2 623.1,263.1 623.8,263.4 624.5,263.9 625.2,264.2 625.9,262.3 626.6,262.6 627.3,264.9 628,263.3 628.7,262.3 629.4,263.7 630.1,262.2 630.8,264.3 631.5,261.3 632.2,264.5 632.9,263.4 633.6,262.6 634.3,264.9 635,262.2 635.7,262.1 636.4,261.5 637.1,263.4 637.8,264.2 638.5,263.9 639.2,262.8 639.9,264.4 640.6,261.6 641.3,262.4 642,263.7 642.7,265 643.4,263.7 644.1,263.9 644.8,264.3 645.5,262.7 646.2,264.9 646.9,264.1 647.6,262.5 648.3,262.7 649,264.4 649.7,262.6 650.4,261.9 651.1,264.6 651.8,263.3 652.5,263.2 653.2,263.8 653.9,264.8 654.6,261.7 655.3,262.5 656,261.4 656.7,262.8 657.4,263.2 658.1,264.5 658.8,263.8 659.5,263.5 660.2,262.8 660.9,263.4 661.6,262.2 662.3,264.5 663,264.3 663.7,264.5 664.4,261.7 665.1,263.8 665.8,264.1 666.5,263.1 667.2,264.7 667.9,264.7 668.6,264.1 669.3,264.4 670,263.7 670.7,264.6 671.4,261.7 672.1,263.9 672.8,263.9 673.5,263.6 674.2,262.2 674.9,261.4 675.6,263.5 676.3,264.4 677,262.2 677.7,262 678.4,262 679.1,261.5 679.8,263.8 680.5,265 681.2,264.3 681.9,262.6 682.6,263.9 683.3,261.4 684,264.5 684.7,262.4 685.4,261.1 686.1,263.6 686.8,261.7 687.5,262.2 688.2,261.3 688.9,262.9 689.6,263.3 690.3,264.3 691,261.3 691.7,264.4 692.4,261.5 693.1,262 693.8,263.6 694.5,262.5 695.2,262.4 695.9,263.4 696.6,262 697.3,264.3 698,261.9 698.7,264.5" stroke-width="2.5" />
<polyline points="474,263.9 474.7,262.8 475.4,260.8 476.1,263.8 476.8,260.8 477.5,262.7 478.2,262.4 478.9,261 479.6,263.2 480.3,263.6 481,263 481.7,262.3 482.4,262.7 483.1,263.1 483.8,261.6 484.5,264.2 485.2,264.7 485.9,263.9 486.6,264.5 487.3,262 488,264.6 488.7,261 489.4,262.6 490.1,261.2 490.8,262.5 491.5,263.4 492.2,263.5 492.9,262.5 493.6,262.1 494.3,261.5 495,262.3 495.7,261.8 496.4,261.5 497.1,263.6 497.8,262.8 498.5,262.5 499.2,261.5 499.9,263.5 500.6,261.5 501.3,261.8 502,262.9 502.7,263.5 503.4,264.6 504.1,263.7 504.8,264.5 505.5,264.4 506.2,263.6 506.9,263.6 507.6,262.2 508.3,259.1" stroke-width="2.5" />
<polyline points="508.3,259.1 509,254.4 509.7,250.9 510.4,246.3 511.1,259.8 511.8,261.6" stroke-width="1.5" />
<polyline points="511.8,261.6 512.5,262 513.2,261.2 513.9,263.1 514.6,264.6 515.3,261.8 516,260.8 516.7,261.3 517.4,262 518.1,264.2 518.8,263.8 519.5,262.4 520.2,261 520.9,261 521.6,261.2 522.3,263.7 523,262.5 523.7,264.5 524.4,264.2 525.1,263.8 525.8,262.5 526.5,263.9 527.2,261.1 527.9,261 528.6,262.8 529.3,262.6 530,261.4 530.7,261.6 531.4,260.7 532.1,264.2 532.8,263.4 533.5,264.3 534.2,264.5 534.9,262.3 535.6,263.5 536.3,262.1 537,263.8 537.7,263.9 538.4,261.1 539.1,260.6 539.8,261.4 540.5,262.9 541.2,262.1 541.9,260.6 542.6,263.9 543.3,263.7 544,262.4 544.7,260.7 545.4,264.1 546.1,262.7 546.8,260.8 547.5,261.8 548.2,263 548.9,264.1 549.6,262.5 550.3,263.1 551,261.4 551.7,261.5 552.4,264.2 553.1,262.1 553.8,261 554.5,262.9 555.2,261 555.9,261.3 556.6,262.4 557.3,262.9 558,263.1 558.7,263.4 559.4,262.3 560.1,260.8 560.8,263.4 561.5,260.8 562.2,262.4 562.9,262.1 563.6,263.2 564.3,263.4 565,261.5 565.7,263.1 566.4,263.3 567.1,262.4 567.8,261.1 568.5,264.2 569.2,262.9 569.9,260.8 570.6,261.5 571.3,264.5 572,261.4 572.7,262.1 573.4,263.7 574.1,263.8 574.8,263.1 575.5,263.5 576.2,260.7 576.9,260.9 577.6,264.4 578.3,263.7 579,260.7 579.7,260.7 580.4,261.5 581.1,264.2 581.8,261.4 582.5,263.2 583.2,264.2 583.9,263.1 584.6,264.2 585.3,261.6 586,261.1 586.7,260.6 587.4,263.5 588.1,260.9 588.8,264.4 589.5,263.4 590.2,261.3 590.9,263.7 591.6,261.2 592.3,262.6 593,260.9 593.7,263.7 594.4,264.1 595.1,264.2 595.8,260.5 596.5,263.9 597.2,262.7 597.9,263.8 598.6,262.5 599.3,263 600,262.9 600.7,263.7 601.4,260.8 602.1,260.7 602.8,262.7 603.5,261.7 604.2,262.2 604.9,260.8 605.6,263.8 606.3,261 607,264.2 607.7,264.2 608.4,262.8 609.1,261.5 609.8,263.6 610.5,261.8 611.2,262.7 611.9,261.4 612.6,264.9 613.3,263.2 614,262.4 614.7,261.4 615.4,263.9 616.1,264.4 616.8,264.4 617.5,261.4 618.2,262.5 618.9,262.2 619.6,264 620.3,261.6 621,263.4 621.7,264.9 622.4,264.1 623.1,261 623.8,261.3 624.5,261.5 625.2,263.8 625.9,263.4 626.6,263.1 627.3,262.8 628,262.6 628.7,263.4 629.4,263.6 630.1,264.7 630.8,263.9 631.5,264.2 632.2,264.6 632.9,264.3 633.6,263.9 634.3,261.1 635,263.7 635.7,264.4 636.4,262.7 637.1,264.5 637.8,261.7 638.5,264.8 639.2,262.8 639.9,263.8 640.6,262 641.3,262.2 642,262.4 642.7,262.3 643.4,261.4 644.1,262.8 644.8,264.9 645.5,263.6 646.2,264.7 646.9,264 647.6,264.3 648.3,265 649,264 649.7,262.1 650.4,262 651.1,262.6 651.8,261.1 652.5,261.9 653.2,264.5 653.9,264.7 654.6,262.3 655.3,264.1 656,264.1 656.7,264.5 657.4,264.2 658.1,263.1 658.8,261.4 659.5,264.3 660.2,262.2 660.9,263.5 661.6,262.4 662.3,263.1 663,264.8 663.7,261.6 664.4,263.1 665.1,263.6 665.8,263.1 666.5,264.7 667.2,262.6 667.9,264.6 668.6,263.7 669.3,264.8 670,261.3 670.7,261.8 671.4,262.1 672.1,264.6 672.8,261 673.5,262 674.2,263.8 674.9,264.9 675.6,261.7 676.3,262.7 677,263.7 677.7,263.7 678.4,264 679.1,264 679.8,262 680.5,262 681.2,261.1 681.9,263.7 682.6,261.8 683.3,262 684,264.8 684.7,263.5 685.4,263.3 686.1,263.6 686.8,263.4 687.5,263.8 688.2,262.2 688.9,261.2 689.6,261.2 690.3,261 691,262.4 691.7,261.5 692.4,261.4 693.1,262.9 693.8,264.8 694.5,263.7 695.2,262.1 695.9,264 696.6,261.7 697.3,261.4 698,262.2 698.7,262.6" stroke-width="2.5" />
<polyline points="474,264 474.7,263 475.4,264.1 476.1,261.6 476.8,264.9 477.5,262.6 478.2,264.5 478.9,261.3 479.6,264.5 480.3,262.1 481,264.6 481.7,264.4 482.4,263.9 483.1,262.3 483.8,261.2 484.5,262 485.2,264.8 485.9,261.8 486.6,263.8 487.3,263.5 488,263.8 488.7,261.9 489.4,261.8 490.1,261.6 490.8,265.1 491.5,262.7 492.2,263.8 492.9,263.5 493.6,262.1 494.3,261.5 495,261.3 495.7,264.6 496.4,261.7 497.1,265.1 497.8,262.7 498.5,264.1 499.2,261.8 499.9,264.4 500.6,262.2 501.3,262.7 502,263.3 502.7,261.6 503.4,262.2 504.1,264.4 504.8,262.3 505.5,262.7 506.2,264.3 506.9,262.1 507.6,262.8 508.3,256.4" stroke-width="2.5" />
<polyline points="508.3,256.4 509,247.6 509.7,238.6 510.4,229.9 511.1,249.4 511.8,264.3" stroke-width="1.5" />
<polyline points="511.8,264.3 512.5,261 513.2,263.4 513.9,264.1 514.6,261.7 515.3,260.9 516,262.5 516.7,261.2 517.4,262.6 518.1,263.6 518.8,261.1 519.5,261.2 520.2,262.7 520.9,261.4 521.6,261.7 522.3,262.5 523,261.2 523.7,261 524.4,262.2 525.1,262.6 525.8,264.5 526.5,262.9 527.2,261 527.9,261.6 528.6,263.7 529.3,263 530,264.2 530.7,264.6 531.4,264.1 532.1,261.1 532.8,264.5 533.5,262.8 534.2,261.7 534.9,261.4 535.6,264.2 536.3,261.5 537,261 537.7,261.7 538.4,264.4 539.1,262.5 539.8,263.6 540.5,261 541.2,262.5 541.9,261.9 542.6,261.5 543.3,263.3 544,262.1 544.7,261.1 545.4,264.6 546.1,262.6 546.8,261.4 547.5,260.7 548.2,263.3 548.9,262.7 549.6,260.7 550.3,262.5 551,263.6 551.7,262.8 552.4,261.6 553.1,262.6 553.8,263.1 554.5,263.2 555.2,261.2 555.9,263.8 556.6,264.4 557.3,263.6 558,264 558.7,262.1 559.4,264.2 560.1,261.3 560.8,261.5 561.5,263 562.2,264.2 562.9,260.9 563.6,261.5 564.3,260.7 565,262.4 565.7,261.2 566.4,261.4 567.1,263.6 567.8,262.9 568.5,264.3 569.2,262.2 569.9,263.3 570.6,260.6 571.3,264.4 572,261.5 572.7,262.5 573.4,262.6 574.1,264.4 574.8,262.5 575.5,264.5 576.2,263.1 576.9,261.4 577.6,263.9 578.3,261.4 579,264.6 579.7,262.4 580.4,261.5 581.1,264.4 581.8,261.8 582.5,262.2 583.2,261.9 583.9,263.2 584.6,260.6 585.3,262 586,261.2 586.7,263.9 587.4,260.5 588.1,263 588.8,261.6 589.5,262.3 590.2,262.8 590.9,263.4 591.6,261.1 592.3,261.5 593,261 593.7,264.4 594.4,261.1 595.1,261.1 595.8,262.6 596.5,262.8 597.2,264.1 597.9,260.7 598.6,261.4 599.3,261.2 600,262.9 600.7,262.3 601.4,262.1 602.1,264.1 602.8,263.1 603.5,263.9 604.2,264.3 604.9,261.6 605.6,264.3 606.3,262.1 607,260.7 607.7,264.1 608.4,260.9 609.1,260.6 609.8,261.6 610.5,261.6 611.2,264.4 611.9,264 612.6,262.2 613.3,262.6 614,263.9 614.7,263.7 615.4,263.1 616.1,262.5 616.8,261 617.5,261.5 618.2,263.1 618.9,262.8 619.6,263.7 620.3,264.1 621,264.4 621.7,261.3 622.4,260.8 623.1,264.1 623.8,262.8 624.5,261.2 625.2,263.3 625.9,261.5 626.6,261.5 627.3,262 628,262.6 628.7,263.2 629.4,260.8 630.1,263.5 630.8,263 631.5,262.4 632.2,263.2 632.9,263.7 633.6,260.6 634.3,262.4 635,263.2 635.7,263.4 636.4,263.1 637.1,261.2 637.8,264.4 638.5,263.7 639.2,261.5 639.9,262.2 640.6,264.4 641.3,261.4 642,262.2 642.7,264.4 643.4,264.1 644.1,261.5 644.8,263.5 645.5,262 646.2,263.2 646.9,263.6 647.6,261 648.3,261.4 649,261.4 649.7,261.6 650.4,260.7 651.1,261.1 651.8,262.2 652.5,262.2 653.2,260.8 653.9,262.9 654.6,264.3 655.3,262.8 656,262 656.7,263.4 657.4,262.3 658.1,261.2 658.8,262.5 659.5,260.6 660.2,263.2 660.9,261.2 661.6,262 662.3,264.4 663,263.6 663.7,263.9 664.4,263.1 665.1,263.1 665.8,263.4 666.5,264.4 667.2,261.3 667.9,263.6 668.6,261.8 669.3,261.6 670,263.8 670.7,263 671.4,264 672.1,264.1 672.8,262.9 673.5,261.3 674.2,260.6 674.9,262.7 675.6,263.5 676.3,261.6 677,260.8 677.7,260.6 678.4,261.2 679.1,263.3 679.8,260.6 680.5,261.5 681.2,261.6 681.9,263.4 682.6,264.5 683.3,260.6 684,261 684.7,264.3 685.4,264.4 686.1,261.2 686.8,261.9 687.5,262.7 688.2,261.8 688.9,262.2 689.6,262.5 690.3,261.6 691,260.8 691.7,260.9 692.4,261.2 693.1,260.9 693.8,263.1 694.5,263.4 695.2,261.6 695.9,263.7 696.6,263.5 697.3,261.9 698,262.5 698.7,261.3" stroke-width="2.5" />
<polyline points="474,265.4 474.7,263.9 475.4,261.9 476.1,262.3 476.8,264.5 477.5,263.2 478.2,264.6 478.9,262.6 479.6,264.9 480.3,264.9 481,262.1 481.7,264 482.4,262.5 483.1,264.5 483.8,264.9 484.5,264.9 485.2,262.6 485.9,262.1 486.6,264.4 487.3,264 488,262.3 488.7,262.5 489.4,264 490.1,262.1 490.8,264.2 491.5,262.7 492.2,262.7 492.9,263.4 493.6,263.8 494.3,264.6 495,261.8 495.7,264.6 496.4,262.6 497.1,262.9 497.8,264.3 498.5,264.5 499.2,264.2 499.9,265.3 500.6,262.5 501.3,262.9 502,264.4 502.7,262.7 503.4,262.3 504.1,262.6 504.8,264.8 505.5,265 506.2,264.6 506.9,265.5 507.6,264.1 508.3,253.9" stroke-width="2.5" />
<polyline points="508.3,253.9 509,240.5 509.7,227.7 510.4,213.5 511.1,234.2 511.8,261.1" stroke-width="1.5" />
<polyline points="511.8,261.1 512.5,260.9 513.2,262.8 513.9,261.3 514.6,264.5 515.3,264.2 516,262.6 516.7,261.5 517.4,261.2 518.1,262.7 518.8,262.8 519.5,262.1 520.2,263.5 520.9,262.8 521.6,263.8 522.3,261.1 523,260.9 523.7,262.2 524.4,262.6 525.1,261.6 525.8,263.3 526.5,261.5 527.2,261.9 527.9,262.5 528.6,263.4 529.3,263.7 530,262.1 530.7,262.3 531.4,264.3 532.1,264.3 532.8,263 533.5,261 534.2,262.3 534.9,263.1 535.6,261.6 536.3,260.7 537,264.4 537.7,264.1 538.4,261 539.1,262.3 539.8,263 540.5,261.7 541.2,260.7 541.9,263.5 542.6,263.5 543.3,262.2 544,260.8 544.7,262 545.4,260.8 546.1,264.3 546.8,260.6 547.5,261.6 548.2,263.5 548.9,260.9 549.6,260.8 550.3,260.7 551,261 551.7,262.5 552.4,263.7 553.1,261 553.8,261 554.5,263.4 555.2,262 555.9,261.7 556.6,260.8 557.3,261.3 558,264.2 558.7,260.8 559.4,261.3 560.1,263.3 560.8,263.9 561.5,263.9 562.2,262.2 562.9,264.1 563.6,262.7 564.3,261.4 565,262.1 565.7,263.1 566.4,263.2 567.1,260.8 567.8,261 568.5,264.1 569.2,260.7 569.9,263.5 570.6,261.6 571.3,261.2 572,261.2 572.7,262.1 573.4,264.2 574.1,260.8 574.8,263.6 575.5,261.5 576.2,260.9 576.9,263.2 577.6,261.5 578.3,260.9 579,261.8 579.7,263.4 580.4,263.6 581.1,262.4 581.8,260.2 582.5,263.2 583.2,262.6 583.9,263.7 584.6,263.9 585.3,261.4 586,263.5 586.7,263.4 587.4,261.2 588.1,261.6 588.8,261.6 589.5,261.5 590.2,261.6 590.9,260.5 591.6,261 592.3,263.7 593,261.7 593.7,262.6 594.4,263.6 595.1,263.1 595.8,261 596.5,263.7 597.2,263.3 597.9,264 598.6,262.9 599.3,263 600,263.3 600.7,261 601.4,262.6 602.1,261.5 602.8,263.4 603.5,260.5 604.2,261.8 604.9,260.8 605.6,262.6 606.3,260.6 607,262.5 607.7,262.5 608.4,262.5 609.1,259.6 609.8,262.7 610.5,262 611.2,261.7 611.9,261.6 612.6,259.2 613.3,262.5 614,261.2 614.7,260.8 615.4,260.4 616.1,262.1 616.8,262.1 617.5,262.5 618.2,259.9 618.9,260.4 619.6,260 620.3,259.4 621,260.4 621.7,259.2 622.4,262.3 623.1,260 623.8,259.4 624.5,259.4 625.2,262.1 625.9,259.9 626.6,261 627.3,260.7 628,262.3 628.7,262.9 629.4,260.4 630.1,261.7 630.8,262.7 631.5,261 632.2,262.8 632.9,262.1 633.6,260.4 634.3,262.7 635,261.5 635.7,259.6 636.4,261.5 637.1,262.5 637.8,261.3 638.5,261.1 639.2,260.9 639.9,262.7 640.6,261.9 641.3,260.1 642,260.7 642.7,260.7 643.4,263.1 644.1,262 644.8,259.8 645.5,262.9 646.2,259.4 646.9,261.6 647.6,261 648.3,262.2 649,261 649.7,259.7 650.4,261.4 651.1,262.6 651.8,262.5 652.5,260.7 653.2,260.2 653.9,262.3 654.6,262.5 655.3,260.2 656,262.9 656.7,263.3 657.4,261.1 658.1,260.9 658.8,262.2 659.5,263.1 660.2,260.2 660.9,260.6 661.6,260.7 662.3,262.3 663,260.1 663.7,261.6 664.4,261.4 665.1,262.1 665.8,260 666.5,263.2 667.2,263.4 667.9,261.7 668.6,262.6 669.3,260.2 670,263.1 670.7,261.7 671.4,262.5 672.1,262.9 672.8,260.9 673.5,263.2 674.2,260.3 674.9,259.6 675.6,261.5 676.3,263.1 677,263.1 677.7,263.3 678.4,261.5 679.1,263.2 679.8,261.7 680.5,260.1 681.2,262 681.9,262.7 682.6,261.2 683.3,261.9 684,260.6 684.7,260.6 685.4,261.2 686.1,261.6 686.8,261.4 687.5,259.9 688.2,259.6 688.9,260.9 689.6,262.4 690.3,262.5 691,260.5 691.7,260.6 692.4,261.6 693.1,260.3 693.8,262 694.5,263.2 695.2,260.4 695.9,261.9 696.6,262.5 697.3,262.6 698,262.4 698.7,262.4" stroke-width="2.5" />
<polyline points="474,263.3 474.7,265.6 475.4,265.9 476.1,262.4 476.8,266 477.5,264 478.2,262.5 478.9,262.5 479.6,265.4 480.3,264.9 481,262.8 481.7,264 482.4,264.8 483.1,266.2 483.8,263.5 484.5,265.3 485.2,263.2 485.9,263 486.6,262.8 487.3,263.8 488,264.7 488.7,263.4 489.4,262.8 490.1,263.1 490.8,262.5 491.5,263 492.2,263.5 492.9,264.2 493.6,262.9 494.3,264.1 495,264 495.7,266.1 496.4,264.1 497.1,266 497.8,264.1 498.5,263 499.2,264.6 499.9,262.8 500.6,262.9 501.3,262.5 502,265 502.7,266.1 503.4,263.8 504.1,263.6 504.8,263.9 505.5,263.6 506.2,265 506.9,263.8 507.6,263.8 508.3,255.1" stroke-width="2.5" />
<polyline points="508.3,255.1 509,241.4 509.7,227.3 510.4,214.9 511.1,228.2 511.8,251.9 512.5,262.9" stroke-width="1.5" />
<polyline points="512.5,262.9 513.2,264.1 513.9,262 514.6,262.1 515.3,261.5 516,262.5 516.7,263 517.4,263.2 518.1,264.1 518.8,260.9 519.5,261.7 520.2,263.7 520.9,263.4 521.6,262.6 522.3,262.9 523,261.6 523.7,264 524.4,262.4 525.1,261.8 525.8,260.9 526.5,260.6 527.2,263.7 527.9,263.3 528.6,260.2 529.3,261.4 530,262 530.7,262 531.4,261.5 532.1,263.6 532.8,261.4 533.5,262.1 534.2,263.7 534.9,262.5 535.6,261.9 536.3,261.3 537,261.5 537.7,262.4 538.4,263.1 539.1,260.9 539.8,261.4 540.5,261.4 541.2,261.3 541.9,263.5 542.6,262 543.3,260.9 544,261.1 544.7,263.1 545.4,260.4 546.1,262.5 546.8,259.9 547.5,260.5 548.2,260 548.9,263 549.6,260.3 550.3,260.6 551,259.9 551.7,260.7 552.4,262.6 553.1,262.6 553.8,263.3 554.5,263.4 555.2,261.8 555.9,263.3 556.6,260 557.3,263.3 558,261.3 558.7,260.4 559.4,262.6 560.1,263 560.8,261.1 561.5,259.9 562.2,263 562.9,262.5 563.6,261.9 564.3,263.4 565,259.6 565.7,259.7 566.4,260 567.1,259.5 567.8,262.3 568.5,262 569.2,259.9 569.9,260.1 570.6,260.1 571.3,261.8 572,262.1 572.7,263.3 573.4,260.8 574.1,263.3 574.8,261.1 575.5,260.9 576.2,260.3 576.9,260.3 577.6,263.2 578.3,263.3 579,262.1 579.7,260 580.4,260 581.1,259.9 581.8,260.7 582.5,262.2 583.2,259.5 583.9,261.4 584.6,261.9 585.3,259.4 586,261 586.7,262.4 587.4,261.5 588.1,261 588.8,262.7 589.5,261.6 590.2,260.5 590.9,260.7 591.6,262.9 592.3,262.6 593,262.8 593.7,261.4 594.4,259.7 595.1,259.8 595.8,260.6 596.5,261.8 597.2,259.1 597.9,262.3 598.6,262.2 599.3,261.1 600,259.1 600.7,262.2 601.4,260.7 602.1,261.7 602.8,261.3 603.5,261.7 604.2,259.4 604.9,260.9 605.6,260.4 606.3,259.9 607,258.4 607.7,257 608.4,257.1 609.1,256.6 609.8,259.1 610.5,258.6 611.2,258.6 611.9,258.7 612.6,259.4 613.3,258.2 614,256.8 614.7,258.5 615.4,256.6 616.1,258 616.8,256.2 617.5,259 618.2,257.6 618.9,256.8 619.6,259.4 620.3,256 621,259.5 621.7,258.8 622.4,256.4 623.1,258.9 623.8,258.1 624.5,259.5 625.2,258.2 625.9,257.6 626.6,259.7 627.3,256.3 628,259.1 628.7,256.4 629.4,257.1 630.1,256.5 630.8,259.6 631.5,257.9 632.2,259 632.9,257.2 633.6,259.1 634.3,258.8 635,256.6 635.7,258.2 636.4,259.2 637.1,257.2 637.8,258.9 638.5,257.4 639.2,257.8 639.9,260.1 640.6,260.2 641.3,260.4 642,258.2 642.7,258.8 643.4,259.7 644.1,259.5 644.8,258.4 645.5,260 646.2,258.2 646.9,260.4 647.6,258.5 648.3,257.1 649,259.7 649.7,257.3 650.4,259.4 651.1,256.9 651.8,260.7 652.5,258.9 653.2,259.7 653.9,257.3 654.6,259.4 655.3,258.3 656,257.8 656.7,260.1 657.4,257 658.1,258.8 658.8,257.3 659.5,260.3 660.2,260.5 660.9,257.1 661.6,258.9 662.3,258.9 663,259.9 663.7,260 664.4,258.4 665.1,260.8 665.8,257.8 666.5,257.7 667.2,260.4 667.9,257.6 668.6,257.9 669.3,259.2 670,258.5 670.7,257.9 671.4,261 672.1,259.1 672.8,260.4 673.5,258.3 674.2,261 674.9,258.2 675.6,261 676.3,259.8 677,261.2 677.7,260.5 678.4,259.9 679.1,259.5 679.8,260.8 680.5,259.2 681.2,257.8 681.9,261.1 682.6,260.7 683.3,260.2 684,260.5 684.7,258.5 685.4,259.4 686.1,260.8 686.8,261.4 687.5,261.3 688.2,258.2 688.9,260.3 689.6,259.8 690.3,259.3 691,258.3 691.7,258.2 692.4,259.6 693.1,259.7 693.8,258.8 694.5,259.2 695.2,259.9 695.9,260.8 696.6,260.1 697.3,258.4 698,261.3 698.7,259.3" stroke-width="2.5" />
<polyline points="474,264.6 474.7,264.6 475.4,262.1 476.1,263.4 476.8,264.6 477.5,262.9 478.2,263.3 478.9,262.6 479.6,261.8 480.3,262.3 481,262.1 481.7,262.6 482.4,263.6 483.1,263.4 483.8,264.5 484.5,263.8 485.2,262.8 485.9,264.5 486.6,263.6 487.3,263.3 488,264.3 488.7,263.7 489.4,262.8 490.1,263.5 490.8,262.6 491.5,264.6 492.2,262.4 492.9,264.6 493.6,261.9 494.3,261.7 495,263.4 495.7,262.3 496.4,263.2 497.1,262.1 497.8,264.2 498.5,263.7 499.2,263.8 499.9,264.5 500.6,264.7 501.3,263.7 502,263.8 502.7,261.7 503.4,261.8 504.1,263 504.8,264.6 505.5,262.6 506.2,263.4 506.9,261.7 507.6,263.1 508.3,254" stroke-width="2.5" />
<polyline points="508.3,254 509,240.4 509.7,227.2 510.4,213.1 511.1,221 511.8,237 512.5,253.7 513.2,259.1" stroke-width="1.5" />
<polyline points="513.2,259.1 513.9,261.6 514.6,259.6 515.3,261.4 516,260.3 516.7,259.7 517.4,261.6 518.1,259.9 518.8,260.7 519.5,258.8 520.2,261.1 520.9,261.5 521.6,258.9 522.3,260.7 523,259.3 523.7,258.9 524.4,259.5 525.1,260.4 525.8,261.3 526.5,261.4 527.2,261.3 527.9,260.2 528.6,260.3 529.3,258.8 530,260.4 530.7,259.9 531.4,259.3 532.1,260.9 532.8,259 533.5,258.6 534.2,258.6 534.9,258.6 535.6,259.9 536.3,260.5 537,258.5 537.7,259.5 538.4,259.7 539.1,259.7 539.8,259.2 540.5,259.6 541.2,258 541.9,258.1 542.6,259.2 543.3,258.6 544,260.1 544.7,258.6 545.4,260.3 546.1,258.5 546.8,258.1 547.5,259.2 548.2,258.9 548.9,258.7 549.6,260 550.3,258.4 551,259.7 551.7,260.2 552.4,259 553.1,259.1 553.8,260.4 554.5,259.4 555.2,258.1 555.9,257.8 556.6,257.8 557.3,258.5 558,257.8 558.7,259.4 559.4,258.7 560.1,258.4 560.8,259 561.5,260.2 562.2,258.1 562.9,257.8 563.6,258.3 564.3,258.3 565,260 565.7,259.4 566.4,258.6 567.1,257.8 567.8,257.4 568.5,257.6 569.2,259.8 569.9,259.1 570.6,257.7 571.3,259 572,257.3 572.7,258.7 573.4,258.1 574.1,257.4 574.8,259.3 575.5,259.2 576.2,258.6 576.9,257.5 577.6,259 578.3,258.3 579,259 579.7,257.3 580.4,259.7 581.1,257 581.8,257.6 582.5,258.1 583.2,257.5 583.9,257.2 584.6,258.9 585.3,259.8 586,257.8 586.7,257.6 587.4,258.8 588.1,257.5 588.8,258 589.5,258.8 590.2,258.1 590.9,257.2 591.6,256.9 592.3,258.3 593,259.7 593.7,259.4 594.4,257 595.1,258.2 595.8,258.1 596.5,257.2 597.2,258.6 597.9,258.1 598.6,259 599.3,257.5 600,259.4 600.7,259 601.4,258 602.1,256.9 602.8,258 603.5,256.5 604.2,256.1 604.9,254.7 605.6,253.3 606.3,253.8 607,250.5 607.7,252.2 608.4,252.3 609.1,250.1 609.8,250.6 610.5,249.8 611.2,251.4 611.9,251.9 612.6,250.8 613.3,251.9 614,250.9 614.7,252.1 615.4,250.8 616.1,253 616.8,251.4 617.5,250.2 618.2,250.6 618.9,252.5 619.6,253 620.3,252.4 621,251.1 621.7,253.3 622.4,252.9 623.1,251.2 623.8,252 624.5,253 625.2,251 625.9,251.2 626.6,252.2 627.3,253.9 628,254.3 628.7,252.4 629.4,254.2 630.1,253.9 630.8,254.2 631.5,253.4 632.2,254.7 632.9,253.7 633.6,254.7 634.3,253.6 635,252.6 635.7,253.6 636.4,253.6 637.1,253.2 637.8,253.4 638.5,253.9 639.2,254.2 639.9,253.1 640.6,253.4 641.3,254.1 642,254.2 642.7,254 643.4,254.8 644.1,253.4 644.8,254.5 645.5,253.8 646.2,255.3 646.9,255.2 647.6,255.5 648.3,254.7 649,254 649.7,256.1 650.4,254.9 651.1,254.5 651.8,254.4 652.5,254.7 653.2,255.7 653.9,256.1 654.6,255.1 655.3,255.9 656,254.4 656.7,255.2 657.4,255 658.1,254.9 658.8,255.1 659.5,256.3 660.2,256.3 660.9,254.8 661.6,254.9 662.3,256.6 663,256.3 663.7,256.4 664.4,256.3 665.1,256.6 665.8,255.3 666.5,254.8 667.2,255.7 667.9,254.8 668.6,257.6 669.3,256.3 670,256.8 670.7,257.8 671.4,257.3 672.1,255.6 672.8,256 673.5,255.4 674.2,257.5 674.9,257.3 675.6,256.6 676.3,256.3 677,256.1 677.7,256.8 678.4,257.5 679.1,258.1 679.8,258 680.5,258.1 681.2,256.8 681.9,256.8 682.6,256.5 683.3,258.6 684,256.2 684.7,256.2 685.4,256.6 686.1,258.6 686.8,258.4 687.5,256.9 688.2,258.5 688.9,258.6 689.6,257.3 690.3,256.6 691,258.4 691.7,257.2 692.4,256.5 693.1,258.9 693.8,257.5 694.5,257.4 695.2,258.1 695.9,257.1 696.6,256.4 697.3,257.6 698,257.6 698.7,256.5" stroke-width="2.5" />
<polyline points="474,262.8 474.7,264 475.4,262.7 476.1,263.7 476.8,263.6 477.5,262.3 478.2,261.8 478.9,263.7 479.6,263.5 480.3,262.6 481,262.3 481.7,264.3 482.4,264.4 483.1,262.4 483.8,263.5 484.5,263.4 485.2,262.7 485.9,261.8 486.6,262.7 487.3,263.6 488,263.5 488.7,263.2 489.4,262.1 490.1,262.3 490.8,262.6 491.5,262.9 492.2,262.8 492.9,264.4 493.6,262 494.3,264.7 495,262.4 495.7,264.3 496.4,262.4 497.1,263.5 497.8,262.8 498.5,261.8 499.2,264.1 499.9,264.1 500.6,262.5 501.3,264 502,263.1 502.7,264.7 503.4,261.9 504.1,262.8 504.8,262.4 505.5,263.6 506.2,264 506.9,264.2 507.6,263.2 508.3,253.5" stroke-width="2.5" />
<polyline points="508.3,253.5 509,240.5 509.7,226.5 510.4,213.3 511.1,217.1 511.8,226.7 512.5,237.2 513.2,246.3 513.9,256.5 514.6,257.1" stroke-width="1.5" />
<polyline points="514.6,257.1 515.3,256.4 516,256.6 516.7,256.5 517.4,257.3 518.1,257.4 518.8,257.6 519.5,256.9 520.2,258.1 520.9,257.5 521.6,258.8 522.3,256.3 523,257.3 523.7,257.2 524.4,256.8 525.1,258.2 525.8,256.2 526.5,258.1 527.2,256.5 527.9,256.4 528.6,257.2 529.3,257 530,256.1 530.7,255.5 531.4,258 532.1,256.2 532.8,255.4 533.5,257 534.2,256.5 534.9,255.9 535.6,255.8 536.3,257.3 537,255.8 537.7,256 538.4,257.5 539.1,255.7 539.8,255.8 540.5,255 541.2,256.5 541.9,256.4 542.6,255.7 543.3,255.6 544,255 544.7,256.6 545.4,255.6 546.1,256.7 546.8,255.2 547.5,256.3 548.2,254.1 548.9,254.6 549.6,256.8 550.3,256 551,255.9 551.7,255.3 552.4,255.2 553.1,254.3 553.8,254.2 554.5,255.6 555.2,255.7 555.9,254.3 556.6,255.5 557.3,253.9 558,255.3 558.7,253.9 559.4,254.9 560.1,254.3 560.8,254.9 561.5,253.7 562.2,254.7 562.9,255 563.6,253.5 564.3,254 565,255.1 565.7,254.7 566.4,254.8 567.1,255.3 567.8,254.6 568.5,253.5 569.2,254.2 569.9,255.3 570.6,254.5 571.3,255 572,253.8 572.7,254 573.4,255.5 574.1,255.1 574.8,254.5 575.5,252.8 576.2,254.3 576.9,252.6 577.6,255.2 578.3,255.3 579,254.5 579.7,253.1 580.4,254.8 581.1,252.8 581.8,254.7 582.5,253.8 583.2,252.2 583.9,254.8 584.6,253.4 585.3,254.6 586,254.1 586.7,253.6 587.4,254.6 588.1,252.5 588.8,254.6 589.5,252.9 590.2,251.9 590.9,252.8 591.6,252 592.3,252 593,253.6 593.7,252.1 594.4,252.1 595.1,252.5 595.8,252.4 596.5,254.3 597.2,254.3 597.9,254.1 598.6,254.5 599.3,252.8 600,253.8 600.7,252.2 601.4,254.2 602.1,253.8 602.8,253.5 603.5,250.9 604.2,244.5 604.9,242.7 605.6,238.5 606.3,236.6 607,235.9 607.7,232.8 608.4,233.8 609.1,232.7 609.8,233.4 610.5,232.3 611.2,231.5 611.9,233.9 612.6,231.9 613.3,233.4 614,233.9 614.7,232.3 615.4,233.8 616.1,233.1 616.8,232.8 617.5,232.9 618.2,235.3 618.9,233.8 619.6,234.4 620.3,234.6 621,233.3 621.7,235.7 622.4,235.9 623.1,236.5 623.8,235.1 624.5,234.9 625.2,235.5 625.9,236.8 626.6,236.8 627.3,236.2 628,236.8 628.7,235.8 629.4,238.3 630.1,237.1 630.8,237.4 631.5,238.5 632.2,236.9 632.9,238.6 633.6,237.7 634.3,239.2 635,237.3 635.7,238 636.4,239.2 637.1,238.9 637.8,238.8 638.5,239.6 639.2,238.6 639.9,239.5 640.6,238.3 641.3,240.9 642,239.4 642.7,241.3 643.4,240.6 644.1,240.9 644.8,241.1 645.5,239.8 646.2,241.9 646.9,240.6 647.6,242.5 648.3,242.4 649,242.2 649.7,242.8 650.4,241.8 651.1,242.6 651.8,243.6 652.5,241.5 653.2,241.4 653.9,242.4 654.6,242.9 655.3,241.9 656,242.3 656.7,244.3 657.4,243 658.1,242.5 658.8,242.7 659.5,244 660.2,243 660.9,244 661.6,244.3 662.3,244.1 663,244.5 663.7,245.6 664.4,243.3 665.1,246.1 665.8,244.1 666.5,243.7 667.2,246 667.9,245.5 668.6,245.6 669.3,244.7 670,246.5 670.7,245.2 671.4,246.6 672.1,245.2 672.8,246.4 673.5,246.7 674.2,246 674.9,246.4 675.6,245.3 676.3,247.2 677,247.4 677.7,245.9 678.4,247.2 679.1,247.9 679.8,246.1 680.5,248.4 681.2,248.6 681.9,246.2 682.6,246.9 683.3,246.6 684,247.2 684.7,246.8 685.4,248.1 686.1,247.5 686.8,247.7 687.5,248.3 688.2,248.1 688.9,249.5 689.6,249.4 690.3,247.7 691,248.1 691.7,247.5 692.4,248.6 693.1,248 693.8,249.9 694.5,250.2 695.2,251 695.9,248.7 696.6,248.3 697.3,250.5 698,249.6 698.7,251.2" stroke-width="2.5" />
<polyline points="474,262.9 474.7,262.6 475.4,261.9 476.1,264.5 476.8,263.2 477.5,263 478.2,263 478.9,264 479.6,264.2 480.3,263.1 481,262.2 481.7,262.9 482.4,264.4 483.1,262.9 483.8,263.7 484.5,263.4 485.2,263.1 485.9,263.4 486.6,262.4 487.3,263.4 488,264.3 488.7,261.9 489.4,262.8 490.1,264.3 490.8,264.6 491.5,261.7 492.2,263.6 492.9,263.6 493.6,264.2 494.3,263.1 495,262.1 495.7,262.6 496.4,263.8 497.1,263.9 497.8,262.3 498.5,263.6 499.2,263.7 499.9,263.7 500.6,261.8 501.3,263 502,262.7 502.7,263.5 503.4,262.7 504.1,262.1 504.8,263.7 505.5,262.6 506.2,264.1 506.9,262.6 507.6,263.2 508.3,253.9" stroke-width="2.5" />
<polyline points="508.3,253.9 509,239.9 509.7,227.1 510.4,213.1 511.1,214.4 511.8,219.7 512.5,226.4 513.2,232.1 513.9,237.9 514.6,244 515.3,250 516,254" stroke-width="1.5" />
<polyline points="516,254 516.7,253 517.4,254.1 518.1,253.3 518.8,255.2 519.5,253.4 520.2,253.4 520.9,252.7 521.6,254.8 522.3,252.8 523,253.6 523.7,254.1 524.4,252.7 525.1,253.7 525.8,252.2 526.5,251.6 527.2,251.3 527.9,252.4 528.6,253.6 529.3,251.5 530,252.1 530.7,253 531.4,251.4 532.1,251 532.8,252 533.5,251.6 534.2,253 534.9,252.8 535.6,250.8 536.3,251.7 537,251.1 537.7,249.9 538.4,251.1 539.1,252.4 539.8,250.5 540.5,251.2 541.2,251.5 541.9,249.5 542.6,252 543.3,249.5 544,250 544.7,251.1 545.4,249 546.1,250 546.8,249.1 547.5,250.1 548.2,248.6 548.9,249 549.6,249.1 550.3,248.6 551,248.6 551.7,248.8 552.4,249.7 553.1,248.5 553.8,250.5 554.5,249.2 555.2,248.6 555.9,248.5 556.6,250.2 557.3,247.8 558,249.8 558.7,247.8 559.4,250.3 560.1,248.6 560.8,249.1 561.5,249.8 562.2,247.5 562.9,247.3 563.6,249.1 564.3,248.8 565,249.1 565.7,247.7 566.4,248.3 567.1,247.3 567.8,248 568.5,247.5 569.2,248.3 569.9,247.4 570.6,247.2 571.3,248.3 572,246.6 572.7,248.6 573.4,247.7 574.1,246.8 574.8,246.4 575.5,247.5 576.2,247.5 576.9,248.1 577.6,247 578.3,247 579,248.4 579.7,246.5 580.4,248.6 581.1,248.2 581.8,248.5 582.5,248.3 583.2,246.2 583.9,247.8 584.6,247.1 585.3,245.9 586,248.2 586.7,247.1 587.4,247.5 588.1,246.7 588.8,245.2 589.5,247.5 590.2,245.4 590.9,245.6 591.6,246.6 592.3,245.3 593,246.1 593.7,246.8 594.4,244.9 595.1,246.5 595.8,244.8 596.5,245.9 597.2,246.3 597.9,246.4 598.6,244.4 599.3,244.8 600,247.1 600.7,245.3 601.4,245.4 602.1,245.2 602.8,246.1 603.5,243.8 604.2,229.6 604.9,219 605.6,212.5 606.3,207.5 607,203.2 607.7,203.2 608.4,201.7 609.1,200.2 609.8,200.3 610.5,198.5 611.2,199.5 611.9,197.9 612.6,199.6 613.3,199.8 614,200.8 614.7,200.8 615.4,201.4 616.1,200 616.8,202 617.5,201.5 618.2,201.4 618.9,202 619.6,203.8 620.3,204.3 621,204.8 621.7,204.7 622.4,203.6 623.1,204 623.8,205.7 624.5,205.1 625.2,205.9 625.9,205.6 626.6,206.2 627.3,208.3 628,207.2 628.7,209.5 629.4,208.4 630.1,210.3 630.8,209.1 631.5,209.4 632.2,210.2 632.9,209.4 633.6,211.1 634.3,211.3 635,210.6 635.7,213.5 636.4,212.4 637.1,211.7 637.8,214.9 638.5,213.1 639.2,213.6 639.9,213.2 640.6,213.8 641.3,216 642,216 642.7,216.1 643.4,215.7 644.1,216.2 644.8,218.6 645.5,217.1 646.2,219.3 646.9,219.4 647.6,217.4 648.3,219.9 649,217.8 649.7,220.2 650.4,220.8 651.1,220.8 651.8,220.7 652.5,221.8 653.2,220.1 653.9,221.6 654.6,221.1 655.3,221.8 656,221.5 656.7,223.3 657.4,223.2 658.1,224.1 658.8,224 659.5,224.2 660.2,225.5 660.9,225.4 661.6,225 662.3,224.5 663,226.6 663.7,225.2 664.4,224.7 665.1,225.7 665.8,227.1 666.5,228 667.2,227.5 667.9,227.8 668.6,228.9 669.3,228.7 670,227.9 670.7,228.2 671.4,229.4 672.1,228.3 672.8,228 673.5,229.7 674.2,230.6 674.9,229.1 675.6,230.7 676.3,231.6 677,229.5 677.7,229.8 678.4,231.1 679.1,230.9 679.8,233 680.5,233.3 681.2,231.9 681.9,233.2 682.6,232.9 683.3,231.8 684,234.4 684.7,232.2 685.4,232.2 686.1,233.5 686.8,232.4 687.5,234.1 688.2,234.1 688.9,235.9 689.6,234.5 690.3,236 691,236 691.7,235.7 692.4,234.8 693.1,235.2 693.8,236 694.5,235.9 695.2,236.9 695.9,236.6 696.6,236.3 697.3,237.3 698,238.7 698.7,236.5" stroke-width="2.5" />
<polyline points="474,262.7 474.7,261.7 475.4,262 476.1,261.9 476.8,263 477.5,264.2 478.2,263.8 478.9,264.6 479.6,264.2 480.3,263.5 481,263.4 481.7,261.7 482.4,262.9 483.1,262.5 483.8,263.6 484.5,261.9 485.2,263.3 485.9,262.8 486.6,263.2 487.3,262.9 488,262 488.7,263.9 489.4,264.1 490.1,263.5 490.8,262 491.5,263.5 492.2,264.3 492.9,264.7 493.6,264 494.3,261.8 495,264.3 495.7,263.7 496.4,262.5 497.1,264.5 497.8,264.2 498.5,264.4 499.2,262.4 499.9,263.4 500.6,262.8 501.3,262.6 502,264 502.7,263.5 503.4,262.7 504.1,263.3 504.8,264.5 505.5,263.4 506.2,264.4 506.9,263.4 507.6,263.6 508.3,253.2" stroke-width="2.5" />
<polyline points="508.3,253.2 509,240.2 509.7,226.9 510.4,213.7 511.1,212.8 511.8,216.1 512.5,219.6 513.2,223.3 513.9,226.8 514.6,230.5 515.3,234.2 516,236.9 516.7,240.6 517.4,244.6 518.1,247.2 518.8,249.9" stroke-width="1.5" />
<polyline points="518.8,249.9 519.5,247.5 520.2,249.2 520.9,249.5 521.6,247.6 522.3,247.9 523,247.3 523.7,248.6 524.4,248 525.1,248.1 525.8,247.1 526.5,247.7 527.2,248.7 527.9,248 528.6,248.4 529.3,246.2 530,246.9 530.7,246.3 531.4,246.1 532.1,247.3 532.8,245.3 533.5,246.4 534.2,246.9 534.9,247.2 535.6,244.4 536.3,245 537,245.6 537.7,246.8 538.4,244.3 539.1,246.3 539.8,244.8 540.5,245.1 541.2,246.2 541.9,243.5 542.6,244.2 543.3,243.5 544,243.4 544.7,243.8 545.4,244.8 546.1,244.4 546.8,242.9 547.5,244.8 548.2,243.8 548.9,242.7 549.6,244.6 550.3,244.5 551,242.6 551.7,244.6 552.4,244.2 553.1,242.3 553.8,241.5 554.5,244 555.2,243.8 555.9,241.5 556.6,243.5 557.3,243.4 558,242.9 558.7,243.4 559.4,243.8 560.1,241.7 560.8,243.1 561.5,243.3 562.2,241.4 562.9,242.4 563.6,242.3 564.3,242.7 565,241.8 565.7,240.9 566.4,240.7 567.1,241.5 567.8,240.2 568.5,242.3 569.2,242.3 569.9,240.3 570.6,241.6 571.3,241.4 572,239.7 572.7,241.6 573.4,241.5 574.1,240 574.8,239.3 575.5,239.8 576.2,241.2 576.9,240.2 577.6,241.2 578.3,239.1 579,238.9 579.7,239.6 580.4,241.1 581.1,238.9 581.8,238.5 582.5,240.5 583.2,238.5 583.9,240.1 584.6,238.3 585.3,238.7 586,239.9 586.7,240.5 587.4,239 588.1,239.1 588.8,237.8 589.5,238.6 590.2,238.3 590.9,239.9 591.6,239.6 592.3,239.7 593,238.9 593.7,239.4 594.4,237.6 595.1,238.3 595.8,238 596.5,237.9 597.2,239.2 597.9,237.6 598.6,237.8 599.3,237.7 600,239.3 600.7,238.6 601.4,238.1 602.1,237.7 602.8,239.3 603.5,235.4 604.2,211.2 604.9,195.4 605.6,185 606.3,175.2 607,169.7 607.7,165.5 608.4,164.2 609.1,163.5 609.8,160.8 610.5,161.2 611.2,162.8 611.9,161.4 612.6,161.5 613.3,163.3 614,164 614.7,163.1 615.4,163 616.1,165.2 616.8,166.2 617.5,167.5 618.2,167.4 618.9,167.1 619.6,168.4 620.3,168.5 621,169.6 621.7,170.4 622.4,172.5 623.1,173.2 623.8,173.9 624.5,173.3 625.2,175.4 625.9,173.7 626.6,176.7 627.3,176.5 628,177.9 628.7,177.2 629.4,179.6 630.1,177.3 630.8,180.5 631.5,181 632.2,180.3 632.9,182.3 633.6,181.1 634.3,183.4 635,183.2 635.7,183.6 636.4,183.6 637.1,186 637.8,186.4 638.5,185.1 639.2,188.3 639.9,186.6 640.6,187.7 641.3,188.4 642,189.5 642.7,191 643.4,191.7 644.1,191.3 644.8,191.1 645.5,190.9 646.2,191.3 646.9,193.2 647.6,193.9 648.3,194.1 649,196.2 649.7,195 650.4,195.4 651.1,196.1 651.8,195.9 652.5,198.7 653.2,198.2 653.9,198.5 654.6,198.7 655.3,198.6 656,199.3 656.7,200.4 657.4,200.7 658.1,202.8 658.8,202 659.5,201.4 660.2,201.4 660.9,202.2 661.6,203.2 662.3,205 663,205.8 663.7,204.3 664.4,206.4 665.1,205.8 665.8,206.5 666.5,207 667.2,205.9 667.9,206.4 668.6,208.7 669.3,209.2 670,208.6 670.7,210.7 671.4,210.8 672.1,209.7 672.8,209.4 673.5,211.2 674.2,211.9 674.9,211.1 675.6,210.9 676.3,212.6 677,211.7 677.7,214.2 678.4,214.2 679.1,213.6 679.8,214.4 680.5,214.2 681.2,214.4 681.9,214.8 682.6,217 683.3,216.3 684,217.5 684.7,216.7 685.4,218.4 686.1,218.2 686.8,218.7 687.5,218.3 688.2,219.1 688.9,218.3 689.6,221 690.3,220.5 691,220.4 691.7,221 692.4,219.7 693.1,220.8 693.8,220.8 694.5,223 695.2,220.8 695.9,222.4 696.6,224 697.3,224 698,224.2 698.7,223.2" stroke-width="2.5" />
<polyline points="474,262.4 474.7,263.8 475.4,262.6 476.1,263.9 476.8,262.7 477.5,264 478.2,263.4 478.9,264.1 479.6,264.7 480.3,262.8 481,264.7 481.7,261.7 482.4,264.3 483.1,261.8 483.8,263.3 484.5,262.9 485.2,264 485.9,262.6 486.6,262.3 487.3,264.1 488,263.4 488.7,264 489.4,263.2 490.1,261.8 490.8,264 491.5,262.4 492.2,263.1 492.9,261.7 493.6,262.5 494.3,263.7 495,264 495.7,263.6 496.4,263 497.1,263.9 497.8,263.7 498.5,262.3 499.2,263.3 499.9,263.5 500.6,263.9 501.3,262.3 502,262.6 502.7,262.7 503.4,262 504.1,262.7 504.8,263.9 505.5,263.4 506.2,262.2 506.9,263.9 507.6,262.9 508.3,253.9" stroke-width="2.5" />
<polyline points="508.3,253.9 509,240 509.7,226.5 510.4,213.3 511.1,211.3 511.8,213.3 512.5,216.1 513.2,218.3 513.9,219.8 514.6,222.3 515.3,224.4 516,226.3 516.7,228.1 517.4,230.7 518.1,232.7 518.8,233.8 519.5,236 520.2,237.9 520.9,239.7 521.6,241.8 522.3,242.9" stroke-width="1.5" />
<polyline points="521.6,241.8 522.3,242.9 523,240.1 523.7,242.3 524.4,240.6 525.1,239.5 525.8,242 526.5,239.9 527.2,239.6 527.9,239.1 528.6,239.7 529.3,238.8 530,238.8 530.7,238.9 531.4,239.7 532.1,239.2 532.8,238.6 533.5,239.1 534.2,239.7 534.9,239.4 535.6,238.1 536.3,239.7 537,239.1 537.7,238.3 538.4,237.9 539.1,237.3 539.8,236.6 540.5,238.7 541.2,237.8 541.9,236.1 542.6,238.4 543.3,238.2 544,235.5 544.7,237.4 545.4,235.9 546.1,236.6 546.8,237.4 547.5,235.8 548.2,236.2 548.9,236.5 549.6,235 550.3,236.2 551,235.5 551.7,237 552.4,234.5 553.1,236 553.8,233.9 554.5,234.5 555.2,233.9 555.9,233.9 556.6,234.9 557.3,233.7 558,235.5 558.7,233.3 559.4,234.8 560.1,235.4 560.8,233.1 561.5,233.3 562.2,234.8 562.9,233.8 563.6,235.1 564.3,233.3 565,233.4 565.7,234.9 566.4,233 567.1,234.8 567.8,234.5 568.5,232.3 569.2,233.3 569.9,234.4 570.6,231.8 571.3,233.9 572,233.6 572.7,233.5 573.4,233 574.1,231.4 574.8,233.9 575.5,231.2 576.2,233.2 576.9,232.9 577.6,231.6 578.3,232.7 579,231.8 579.7,232.7 580.4,230.5 581.1,233.1 581.8,231.4 582.5,232.6 583.2,231.5 583.9,232.5 584.6,230.9 585.3,231.6 586,229.9 586.7,231.3 587.4,230 588.1,232.3 588.8,231.7 589.5,230.8 590.2,232.4 590.9,232.3 591.6,232.3 592.3,229.6 593,231.4 593.7,231.4 594.4,231 595.1,229.2 595.8,231.8 596.5,230.3 597.2,230.7 597.9,231.3 598.6,229.7 599.3,228.9 600,231.5 600.7,229.5 601.4,228.8 602.1,229 602.8,231.5 603.5,225.8 604.2,195.5 604.9,174.9 605.6,162.9 606.3,152.2 607,145 607.7,139 608.4,136.8 609.1,136.5 609.8,132.6 610.5,133.4 611.2,132.3 611.9,135.3 612.6,133.1 613.3,136.3 614,136.7 614.7,137.2 615.4,136 616.1,138.8 616.8,139.2 617.5,140.1 618.2,140 618.9,142.1 619.6,143.9 620.3,142.8 621,146 621.7,145.6 622.4,146 623.1,146.9 623.8,148.5 624.5,149.9 625.2,150.6 625.9,152.5 626.6,152.2 627.3,153.1 628,155.4 628.7,154 629.4,154.3 630.1,156.1 630.8,156.9 631.5,157.2 632.2,158.9 632.9,158.6 633.6,162.1 634.3,161.6 635,163.6 635.7,163.8 636.4,164.7 637.1,165.6 637.8,165 638.5,167.1 639.2,166.3 639.9,168.1 640.6,169 641.3,170.3 642,169.2 642.7,170.5 643.4,172.7 644.1,173.3 644.8,174.6 645.5,172.7 646.2,173.7 646.9,174.1 647.6,176.7 648.3,177.4 649,177.8 649.7,178.9 650.4,178.8 651.1,179.6 651.8,181.4 652.5,181.2 653.2,181.9 653.9,182.4 654.6,182.7 655.3,184.2 656,184.3 656.7,183.6 657.4,185.1 658.1,185.7 658.8,186.3 659.5,187.3 660.2,187.4 660.9,188 661.6,188.8 662.3,189.2 663,191.6 663.7,189.5 664.4,189.9 665.1,192.6 665.8,192.2 666.5,192.9 667.2,193.9 667.9,193.8 668.6,193.9 669.3,193.8 670,196.9 670.7,197.7 671.4,196.2 672.1,197.3 672.8,197.4 673.5,197.1 674.2,200.2 674.9,200.5 675.6,199.2 676.3,199.8 677,201.6 677.7,202.4 678.4,201.9 679.1,202.2 679.8,202.2 680.5,204.4 681.2,205 681.9,205.5 682.6,203.7 683.3,205.6 684,207.3 684.7,206.9 685.4,206.6 686.1,206.1 686.8,206.3 687.5,208.8 688.2,207.2 688.9,209.9 689.6,209.9 690.3,209.7 691,211.4 691.7,212 692.4,211.5 693.1,210.3 693.8,212.2 694.5,212.1 695.2,212 695.9,214.4 696.6,214.2 697.3,212.8 698,213.5 698.7,214.3" stroke-width="2.5" />
<polyline points="474,263.4 474.7,262.7 475.4,263 476.1,264.1 476.8,262.2 477.5,263.9 478.2,262.7 478.9,264.5 479.6,264.6 480.3,262.7 481,263.5 481.7,262 482.4,262.9 483.1,263.6 483.8,263.6 484.5,262.7 485.2,261.8 485.9,262.1 486.6,263.4 487.3,262.2 488,262.6 488.7,263.6 489.4,264.4 490.1,263.2 490.8,262.5 491.5,263.5 492.2,262.5 492.9,264 493.6,262.2 494.3,262.5 495,263 495.7,264.4 496.4,262.2 497.1,262.3 497.8,262.1 498.5,262.3 499.2,262.7 499.9,262.9 500.6,264 501.3,262.9 502,263.1 502.7,262.9 503.4,264 504.1,264.4 504.8,263 505.5,264.5 506.2,262.5 506.9,264.6 507.6,263.3 508.3,254.2" stroke-width="2.5" />
<polyline points="508.3,254.2 509,239.9 509.7,226.2 510.4,212.4 511.1,211.9 511.8,211.8 512.5,214.2 513.2,214.9 513.9,216.4 514.6,216.8 515.3,218.1 516,219.9 516.7,222.2 517.4,223.1 518.1,222.7 518.8,226 519.5,226.4 520.2,226.5 520.9,228.3 521.6,229.3 522.3,232.3 523,232.6 523.7,233 524.4,233.9 525.1,234.2" stroke-width="2.1" />
<polyline points="525.1,234.2 525.8,234 526.5,234 527.2,235.2 527.9,235 528.6,234.6 529.3,235 530,234.2 530.7,232.4 531.4,232 532.1,232.2 532.8,232.3 533.5,233 534.2,233.7 534.9,232.9 535.6,232.3 536.3,231.6 537,233.7 537.7,232.8 538.4,231.5 539.1,230.4 539.8,233.1 540.5,230.8 541.2,232.5 541.9,230.1 542.6,231.6 543.3,230.6 544,232.1 544.7,230.2 545.4,229.5 546.1,229.7 546.8,231.4 547.5,231.8 548.2,230.7 548.9,230.7 549.6,229.4 550.3,229.2 551,228.6 551.7,231.2 552.4,228.2 553.1,229.8 553.8,229 554.5,228.4 555.2,229 555.9,230.4 556.6,228.3 557.3,227.9 558,229.2 558.7,229.2 559.4,228.7 560.1,227.6 560.8,229.6 561.5,227.2 562.2,227.4 562.9,227.5 563.6,228.2 564.3,228 565,228.2 565.7,228.6 566.4,229 567.1,227.7 567.8,226.3 568.5,228.6 569.2,226.1 569.9,226.9 570.6,226.3 571.3,227.6 572,228.1 572.7,226.1 573.4,226.5 574.1,228.1 574.8,227.6 575.5,225.8 576.2,227.4 576.9,227.7 577.6,226.5 578.3,225.7 579,227.1 579.7,226 580.4,225.4 581.1,225.5 581.8,226.1 582.5,225.2 583.2,226 583.9,226.4 584.6,226.3 585.3,225.8 586,227 586.7,224.8 587.4,225.5 588.1,227.2 588.8,227 589.5,227.1 590.2,226.6 590.9,225.8 591.6,226.6 592.3,225.9 593,224.5 593.7,224.8 594.4,224.3 595.1,226.6 595.8,224.9 596.5,225.1 597.2,225.5 597.9,224.1 598.6,225.9 599.3,226.1 600,226.1 600.7,226.3 601.4,224.6 602.1,224 602.8,225.8 603.5,219.8 604.2,185.5 604.9,161.7 605.6,144.5 606.3,135 607,125.9 607.7,121.5 608.4,116.6 609.1,114.4 609.8,113.8 610.5,114 611.2,114.4 611.9,113.1 612.6,114.7 613.3,114.6 614,116.9 614.7,117.6 615.4,118 616.1,118.5 616.8,119.4 617.5,122.3 618.2,123.2 618.9,122.8 619.6,123.3 620.3,124.8 621,128.2 621.7,126.6 622.4,130 623.1,130.3 623.8,131.4 624.5,132.5 625.2,133.2 625.9,134.7 626.6,134.4 627.3,137.9 628,136.5 628.7,137.7 629.4,140.3 630.1,141.2 630.8,142.7 631.5,143.4 632.2,145.1 632.9,143.5 633.6,144.3 634.3,146 635,148.6 635.7,147.6 636.4,149.7 637.1,151.4 637.8,150.5 638.5,152.5 639.2,154.6 639.9,155 640.6,154.9 641.3,156 642,156.3 642.7,159.2 643.4,159.6 644.1,160.1 644.8,159.9 645.5,162 646.2,162.1 646.9,163.9 647.6,163.4 648.3,165.8 649,166 649.7,166.1 650.4,167.3 651.1,168.8 651.8,168.7 652.5,170.8 653.2,168.7 653.9,172.2 654.6,172.4 655.3,172.5 656,174.3 656.7,173 657.4,174.3 658.1,176.1 658.8,177.2 659.5,176.6 660.2,179.1 660.9,178.8 661.6,177.7 662.3,178.6 663,179.2 663.7,181.4 664.4,181.3 665.1,181.8 665.8,183 666.5,182.6 667.2,185.7 667.9,186.2 668.6,186 669.3,186.3 670,186.5 670.7,188 671.4,187.9 672.1,190.4 672.8,190.9 673.5,190.9 674.2,191.8 674.9,190.1 675.6,190.9 676.3,192.1 677,192 677.7,193.5 678.4,195.8 679.1,195.9 679.8,196.8 680.5,195.2 681.2,195.7 681.9,195.7 682.6,197 683.3,196.9 684,198.8 684.7,198.7 685.4,200.3 686.1,200.5 686.8,201.2 687.5,200.8 688.2,202.6 688.9,203 689.6,203.6 690.3,203.3 691,203.8 691.7,203.8 692.4,203.5 693.1,205.3 693.8,206.2 694.5,205.4 695.2,207.9 695.9,208.4 696.6,208.8 697.3,209.1 698,208.6 698.7,208.1" stroke-width="2.5" />
<polyline points="474,262.5 474.7,263.9 475.4,264.7 476.1,262 476.8,261.7 477.5,262.8 478.2,262.7 478.9,263.5 479.6,262 480.3,264.2 481,262.7 481.7,264.4 482.4,262.7 483.1,262.6 483.8,262.2 484.5,264.6 485.2,263.5 485.9,264.2 486.6,261.9 487.3,263.3 488,263.9 488.7,264.7 489.4,264.5 490.1,262 490.8,262.8 491.5,264.7 492.2,263.3 492.9,264.6 493.6,262.5 494.3,261.8 495,264.5 495.7,262.5 496.4,263.4 497.1,262.8 497.8,263.4 498.5,264.5 499.2,264.5 499.9,264.3 500.6,262.5 501.3,264.2 502,261.8 502.7,262.9 503.4,264.5 504.1,262.5 504.8,262.8 505.5,263.4 506.2,262.4 506.9,263.8 507.6,263.7 508.3,252.4" stroke-width="2.5" />
<polyline points="508.3,252.4 509,241.5 509.7,225.6 510.4,214.1 511.1,209.9 511.8,210.3 512.5,211 513.2,214.7 513.9,215 514.6,214.9 515.3,216.7 516,218.1 516.7,218.8 517.4,218.4 518.1,218.4 518.8,219.9 519.5,222.1 520.2,222.1 520.9,222.6 521.6,223.8 522.3,223.2 523,224.4 523.7,225.9 524.4,224.6 525.1,227.2 525.8,225.3 526.5,227.5 527.2,228.1" stroke-width="2.1" />
<polyline points="527.2,228.1 527.9,226.6 528.6,228.8 529.3,227.2 530,226.2 530.7,226.8 531.4,227.1 532.1,226.5 532.8,225.1 533.5,225.2 534.2,226.9 534.9,225 535.6,225.2 536.3,226.7 537,226.7 537.7,226.7 538.4,224.4 539.1,223.7 539.8,225.9 540.5,225.3 541.2,224.4 541.9,223.3 542.6,224.4 543.3,223.7 544,224.6 544.7,225.7 545.4,223.2 546.1,222.7 546.8,224.4 547.5,222.6 548.2,222.8 548.9,223.3 549.6,224.9 550.3,222.8 551,222.7 551.7,223 552.4,222 553.1,222.6 553.8,223.4 554.5,222.2 555.2,223.5 555.9,221.6 556.6,221.2 557.3,222.7 558,222.1 558.7,223.4 559.4,220.9 560.1,222.7 560.8,222.4 561.5,221.4 562.2,220.6 562.9,222 563.6,222.3 564.3,221.4 565,221.3 565.7,221.9 566.4,221.6 567.1,221 567.8,220.2 568.5,220.9 569.2,221.1 569.9,222.1 570.6,222.3 571.3,220.9 572,220.2 572.7,219.8 573.4,221 574.1,221.2 574.8,219.7 575.5,221 576.2,221.8 576.9,220 577.6,221.5 578.3,220 579,220.6 579.7,221.1 580.4,219.1 581.1,219.5 581.8,221.3 582.5,218.5 583.2,219.2 583.9,219.7 584.6,220.4 585.3,220 586,220.9 586.7,220 587.4,218 588.1,218.2 588.8,218 589.5,219.2 590.2,217.9 590.9,219.3 591.6,219.6 592.3,218.3 593,220.2 593.7,218.8 594.4,220.4 595.1,218.6 595.8,219.3 596.5,219.1 597.2,218.2 597.9,219.7 598.6,217.3 599.3,218 600,218.2 600.7,219.9 601.4,218.7 602.1,217.3 602.8,218 603.5,213.1 604.2,179.7 604.9,153.6 605.6,138.8 606.3,125.9 607,118.3 607.7,112.6 608.4,109.2 609.1,108.7 609.8,107.4 610.5,106.9 611.2,106.4 611.9,106.8 612.6,105.8 613.3,106.3 614,109.7 614.7,110.3 615.4,111.3 616.1,111.5 616.8,112.5 617.5,115.7 618.2,115.8 618.9,115.4 619.6,117.6 620.3,118.9 621,119.2 621.7,123.2 622.4,124.1 623.1,125.1 623.8,123.8 624.5,126.2 625.2,126.5 625.9,129.5 626.6,130.8 627.3,131.9 628,133 628.7,132.1 629.4,132.9 630.1,134.3 630.8,137.6 631.5,138.6 632.2,138.7 632.9,139 633.6,141.9 634.3,140.7 635,142.3 635.7,142.4 636.4,146.3 637.1,145.6 637.8,147.7 638.5,148.8 639.2,149.1 639.9,151.3 640.6,151.6 641.3,153 642,154.1 642.7,152.4 643.4,155.3 644.1,154.6 644.8,155.8 645.5,156.8 646.2,159.6 646.9,157.7 647.6,159.7 648.3,159.7 649,163.2 649.7,162.5 650.4,164 651.1,164.3 651.8,165.9 652.5,165.4 653.2,166.5 653.9,168.3 654.6,168.9 655.3,170.3 656,169.4 656.7,171.8 657.4,172.2 658.1,172.5 658.8,172.8 659.5,174 660.2,173.3 660.9,174.1 661.6,175.5 662.3,175.6 663,176.1 663.7,178.9 664.4,179.6 665.1,180 665.8,179.5 666.5,181.7 667.2,182.7 667.9,182.8 668.6,182.3 669.3,184 670,184.1 670.7,184.4 671.4,184.7 672.1,187.5 672.8,187.5 673.5,189 674.2,187.4 674.9,188.3 675.6,189.6 676.3,188.9 677,190.2 677.7,191.5 678.4,192 679.1,193.9 679.8,193.4 680.5,194.2 681.2,194.6 681.9,195.8 682.6,195.1 683.3,194.6 684,198.1 684.7,198.1 685.4,196.6 686.1,197.2 686.8,198 687.5,199.9 688.2,198.8 688.9,199 689.6,201 690.3,200 691,201.3 691.7,202.2 692.4,202.2 693.1,202 693.8,203.3 694.5,203.8 695.2,204.5 695.9,205.2 696.6,205.6 697.3,205.9 698,205.5 698.7,208.4" stroke-width="2.5" />
<polyline points="474,263.9 474.7,263.2 475.4,261.7 476.1,262.4 476.8,264.4 477.5,263.1 478.2,262.3 478.9,264.2 479.6,264.4 480.3,262.1 481,263.2 481.7,263.4 482.4,262.1 483.1,262.7 483.8,263.6 484.5,263.7 485.2,263.6 485.9,263.6 486.6,262.8 487.3,261.9 488,261.7 488.7,264.2 489.4,264.3 490.1,264.4 490.8,261.9 491.5,264 492.2,262.2 492.9,262.7 493.6,262.3 494.3,264.3 495,264.2 495.7,264.2 496.4,262.8 497.1,264.5 497.8,262.5 498.5,263.4 499.2,263.7 499.9,262.4 500.6,262.8 501.3,262 502,264.1 502.7,262.3 503.4,262.1 504.1,262.5 504.8,263.6 505.5,263.6 506.2,263.3 506.9,264.3 507.6,264 508.3,252.8" stroke-width="2.5" />
<polyline points="508.3,252.8 509,240.4 509.7,225.9 510.4,212.7 511.1,209.2 511.8,209.7 512.5,211.2 513.2,213.4 513.9,213.4 514.6,212.3 515.3,213.3 516,215 516.7,215.4 517.4,214.4 518.1,215.2 518.8,217.1 519.5,217.7 520.2,216.6 520.9,219.2 521.6,218 522.3,219.5 523,219.8 523.7,219.6 524.4,221.8 525.1,220.5 525.8,221 526.5,221.7 527.2,222.9 527.9,223.5" stroke-width="2.1" />
<polyline points="527.9,223.5 528.6,222.7 529.3,221.8 530,222.2 530.7,221.8 531.4,222.6 532.1,222.4 532.8,221.6 533.5,219.8 534.2,220.7 534.9,220.2 535.6,219.4 536.3,220.9 537,219.1 537.7,220.4 538.4,219.6 539.1,219.3 539.8,220 540.5,219.9 541.2,220.6 541.9,220.5 542.6,219.7 543.3,218 544,219.1 544.7,218.4 545.4,219.7 546.1,218.1 546.8,217.7 547.5,216.6 548.2,217.8 548.9,217.9 549.6,217.1 550.3,216.3 551,217.4 551.7,216 552.4,216.2 553.1,216.9 553.8,216.6 554.5,216.9 555.2,216.9 555.9,216.4 556.6,215.5 557.3,215.1 558,216.6 558.7,217.8 559.4,215.6 560.1,215.7 560.8,215.5 561.5,216.7 562.2,215.9 562.9,216.7 563.6,214.3 564.3,214.6 565,214.7 565.7,215.1 566.4,215.1 567.1,215 567.8,216.7 568.5,215 569.2,215.4 569.9,216.5 570.6,215.4 571.3,215.2 572,215.8 572.7,214.3 573.4,213.3 574.1,216 574.8,214.7 575.5,214.8 576.2,213.2 576.9,215.2 577.6,214 578.3,214.7 579,213.6 579.7,215.4 580.4,213.7 581.1,213.4 581.8,215.2 582.5,213.1 583.2,213.2 583.9,213.8 584.6,215.3 585.3,212.6 586,212.8 586.7,214.6 587.4,212.3 588.1,213.3 588.8,214.4 589.5,214.1 590.2,214.3 590.9,212.2 591.6,214.5 592.3,212.9 593,214.2 593.7,213.1 594.4,214.3 595.1,213.1 595.8,212.4 596.5,212 597.2,213 597.9,211.6 598.6,211.9 599.3,214 600,213.1 600.7,213.9 601.4,211.7 602.1,212.7 602.8,212.6 603.5,205.7 604.2,172.4 604.9,150.5 605.6,133.2 606.3,121 607,113.4 607.7,108.9 608.4,105.8 609.1,102.7 609.8,100 610.5,102.1 611.2,100.2 611.9,100.9 612.6,101.3 613.3,103.4 614,104.6 614.7,105.4 615.4,106.6 616.1,106.8 616.8,109.8 617.5,110.5 618.2,111.1 618.9,114 619.6,115.5 620.3,116.8 621,118.2 621.7,116.7 622.4,118.9 623.1,120.3 623.8,121 624.5,123.6 625.2,125.3 625.9,124.2 626.6,126.5 627.3,129.1 628,130 628.7,129.8 629.4,129.9 630.1,132.1 630.8,133.4 631.5,135.3 632.2,134.6 632.9,136 633.6,139.2 634.3,137.3 635,140.2 635.7,139.7 636.4,142.7 637.1,142.8 637.8,145.3 638.5,144.2 639.2,147.2 639.9,146.2 640.6,146.7 641.3,147.8 642,148.7 642.7,150.6 643.4,153.3 644.1,152.4 644.8,154.4 645.5,153.3 646.2,155.7 646.9,156.7 647.6,156.2 648.3,158.6 649,159.1 649.7,159.6 650.4,162 651.1,162.4 651.8,161.6 652.5,162.4 653.2,163 653.9,164.5 654.6,166.4 655.3,168.3 656,169.1 656.7,169.6 657.4,168.1 658.1,170.9 658.8,171.6 659.5,171.5 660.2,173.9 660.9,173.4 661.6,172.8 662.3,173.8 663,174.3 663.7,176.5 664.4,177.2 665.1,178.7 665.8,176.8 666.5,177.5 667.2,181.1 667.9,179.7 668.6,180.4 669.3,182.9 670,181.3 670.7,184 671.4,185 672.1,184.6 672.8,185.4 673.5,184.3 674.2,186.7 674.9,187.4 675.6,188.5 676.3,188.3 677,187.7 677.7,188.7 678.4,190.6 679.1,189.5 679.8,190.2 680.5,191.2 681.2,193.4 681.9,193.2 682.6,193.2 683.3,195.6 684,195.1 684.7,194.6 685.4,196.1 686.1,197.5 686.8,196.6 687.5,197.4 688.2,198.3 688.9,200.1 689.6,199.6 690.3,198.7 691,200.4 691.7,200.2 692.4,201.1 693.1,202.4 693.8,200.8 694.5,202.7 695.2,202.7 695.9,204 696.6,205.1 697.3,204.6 698,205.5 698.7,205" stroke-width="2.5" />
<polyline points="474,262.5 474.7,263.2 475.4,263.3 476.1,262.4 476.8,264 477.5,263.2 478.2,262.8 478.9,262.5 479.6,264.2 480.3,264.4 481,264.5 481.7,262.4 482.4,261.9 483.1,263.6 483.8,261.8 484.5,264.3 485.2,263.7 485.9,262.7 486.6,263 487.3,263.7 488,262.2 488.7,262.8 489.4,264.1 490.1,263.7 490.8,263.5 491.5,262 492.2,262.4 492.9,262.5 493.6,261.8 494.3,263.6 495,263.4 495.7,264.5 496.4,263.4 497.1,264.5 497.8,263.1 498.5,263.3 499.2,262.5 499.9,263.1 500.6,264.5 501.3,263.2 502,261.7 502.7,262.8 503.4,262.3 504.1,263.6 504.8,263.2 505.5,263.1 506.2,264.5 506.9,264 507.6,262 508.3,252.2" stroke-width="2.5" />
<polyline points="508.3,252.2 509,240.9 509.7,227.2 510.4,214 511.1,210.1 511.8,209.3 512.5,211.1 513.2,212.8 513.9,212.6 514.6,211.4 515.3,212.1 516,214.9 516.7,214.3 517.4,213.5 518.1,215.5 518.8,216.6 519.5,216.7 520.2,216.4 520.9,217.2 521.6,215.4 522.3,216.8 523,218.1 523.7,216.9 524.4,216.6 525.1,219 525.8,218.6" stroke-width="2.1" />
<polyline points="525.8,218.6 526.5,216.3 527.2,216.3 527.9,217.6 528.6,218.6 529.3,217.4 530,218 530.7,215.5 531.4,216.8 532.1,215.4 532.8,215.7 533.5,215 534.2,215.8 534.9,214.4 535.6,216.1 536.3,215.9 537,216.5 537.7,215.9 538.4,213.7 539.1,215.9 539.8,214.8 540.5,215.8 541.2,214.4 541.9,213 542.6,214.7 543.3,213 544,215.3 544.7,213.8 545.4,214.8 546.1,213.4 546.8,212.8 547.5,213.7 548.2,213.7 548.9,212.8 549.6,212.1 550.3,212.4 551,213.2 551.7,211.6 552.4,211.3 553.1,212.1 553.8,212.5 554.5,210.7 555.2,211.2 555.9,213.1 556.6,210.9 557.3,212.3 558,210.8 558.7,210.1 559.4,211.2 560.1,212.2 560.8,211.8 561.5,209.5 562.2,211.4 562.9,211 563.6,210.5 564.3,211 565,210.5 565.7,209.3 566.4,210.8 567.1,209 567.8,209.4 568.5,211 569.2,210 569.9,209.8 570.6,210.3 571.3,209.5 572,209.1 572.7,209.6 573.4,207.9 574.1,208.8 574.8,207.8 575.5,210.6 576.2,210.2 576.9,209.4 577.6,207.8 578.3,209.8 579,208 579.7,209.5 580.4,209 581.1,208.8 581.8,209.1 582.5,207.6 583.2,209.2 583.9,208.3 584.6,208.9 585.3,209 586,207.2 586.7,207.6 587.4,207.4 588.1,206.5 588.8,208.8 589.5,208.2 590.2,207.5 590.9,207.6 591.6,208.6 592.3,206.1 593,206.9 593.7,207.8 594.4,207.3 595.1,207.1 595.8,206.4 596.5,206.2 597.2,207.5 597.9,206.4 598.6,208.2 599.3,208 600,208.2 600.7,206 601.4,206.7 602.1,205.4 602.8,206.1 603.5,199.4 604.2,167.3 604.9,145.2 605.6,128.1 606.3,115.5 607,107.5 607.7,104.3 608.4,98.5 609.1,98.9 609.8,98 610.5,95.4 611.2,98.2 611.9,97.9 612.6,97.9 613.3,99 614,100.7 614.7,101.6 615.4,103.9 616.1,105.2 616.8,104.8 617.5,105.2 618.2,108.8 618.9,109.7 619.6,111.1 620.3,110.6 621,111.9 621.7,115.7 622.4,115.4 623.1,117 623.8,119.7 624.5,118.7 625.2,121.2 625.9,120.7 626.6,123.5 627.3,125.2 628,124.6 628.7,127.6 629.4,129.4 630.1,130.2 630.8,131.2 631.5,132.8 632.2,133.3 632.9,133.9 633.6,135.8 634.3,136.9 635,137.4 635.7,138.6 636.4,138.2 637.1,139.8 637.8,140.8 638.5,143.4 639.2,144.2 639.9,143.8 640.6,146.9 641.3,145.1 642,146.1 642.7,147.9 643.4,148.1 644.1,151.7 644.8,150.9 645.5,151.9 646.2,154.2 646.9,154.2 647.6,155.4 648.3,155.8 649,156.7 649.7,159.1 650.4,158 651.1,159.6 651.8,160.3 652.5,160.2 653.2,161 653.9,163 654.6,164.7 655.3,164.4 656,164.1 656.7,167.6 657.4,166 658.1,169 658.8,167.3 659.5,169.9 660.2,169.2 660.9,170.3 661.6,171.5 662.3,173.3 663,173.1 663.7,173.8 664.4,174.5 665.1,175.6 665.8,175.6 666.5,178.3 667.2,176.7 667.9,177.2 668.6,179.2 669.3,179.3 670,181.1 670.7,179.7 671.4,182.3 672.1,182 672.8,184.4 673.5,183.1 674.2,184.2 674.9,184.5 675.6,185.8 676.3,185.6 677,187.4 677.7,187.3 678.4,188.8 679.1,188.1 679.8,189.2 680.5,190.1 681.2,191.2 681.9,191.6 682.6,191.5 683.3,191 684,191.7 684.7,192.3 685.4,193 686.1,193.6 686.8,195.5 687.5,195.1 688.2,197.4 688.9,195.9 689.6,196.4 690.3,196.8 691,197.2 691.7,199.3 692.4,199.5 693.1,199 693.8,201.2 694.5,201.3 695.2,201 695.9,202 696.6,202.7 697.3,202.5 698,201.9 698.7,203.2" stroke-width="2.5" />
<polyline points="474,264.5 474.7,262.8 475.4,263.6 476.1,262 476.8,264 477.5,264.3 478.2,262.8 478.9,262.8 479.6,263.2 480.3,262.5 481,262.3 481.7,262.1 482.4,263.8 483.1,263.2 483.8,264.6 484.5,264.6 485.2,264.3 485.9,264.5 486.6,264.2 487.3,261.8 488,262.1 488.7,264.6 489.4,264.3 490.1,263.5 490.8,263.6 491.5,263 492.2,263 492.9,262.1 493.6,263.3 494.3,262.5 495,262.1 495.7,264.3 496.4,263.4 497.1,264.3 497.8,262.6 498.5,263.4 499.2,262.5 499.9,264.2 500.6,262.3 501.3,263.6 502,263.4 502.7,262.7 503.4,261.9 504.1,263.2 504.8,263.3 505.5,264.2 506.2,262.3 506.9,262.3 507.6,262.6 508.3,254.6" stroke-width="2.5" />
<polyline points="508.3,254.6 509,239.5 509.7,227.3 510.4,212.1 511.1,208.8 511.8,211.2 512.5,211 513.2,210.3 513.9,211.8 514.6,213.7 515.3,212.4 516,213.3 516.7,213.2 517.4,213.8 518.1,212.7 518.8,215.5 519.5,214.9 520.2,214.4 520.9,214.4 521.6,214.4 522.3,216.8 523,216.5" stroke-width="2.1" />
<polyline points="523,216.5 523.7,214.9 524.4,215.4 525.1,215.1 525.8,213.9 526.5,213.2 527.2,215.2 527.9,213.3 528.6,214.3 529.3,212.5 530,212.4 530.7,212.7 531.4,214 532.1,213.7 532.8,214.7 533.5,213.5 534.2,213 534.9,211.3 535.6,214 536.3,212.4 537,213.4 537.7,210.8 538.4,213 539.1,211.8 539.8,210.9 540.5,211.3 541.2,210.2 541.9,211.5 542.6,210.3 543.3,211.6 544,209.9 544.7,211.3 545.4,211 546.1,211.1 546.8,211.7 547.5,209.6 548.2,210.7 548.9,209.7 549.6,211 550.3,210.7 551,210.4 551.7,209.8 552.4,208.6 553.1,210.4 553.8,210.5 554.5,210.3 555.2,208.4 555.9,209.7 556.6,209.2 557.3,209.5 558,209.3 558.7,208.1 559.4,207.8 560.1,208.9 560.8,208.4 561.5,207.9 562.2,208.8 562.9,206.2 563.6,206 564.3,207.3 565,206.1 565.7,208.2 566.4,205.8 567.1,208.1 567.8,206 568.5,205.7 569.2,207.4 569.9,207.1 570.6,206.2 571.3,206.6 572,206.4 572.7,207.5 573.4,206.1 574.1,206.1 574.8,205.7 575.5,205.5 576.2,206.2 576.9,204.4 577.6,206.1 578.3,206.7 579,206.1 579.7,205.3 580.4,204.7 581.1,203.8 581.8,203.7 582.5,205 583.2,205.9 583.9,205.8 584.6,203.6 585.3,205.2 586,205.3 586.7,204.3 587.4,205.3 588.1,203.2 588.8,203.6 589.5,204 590.2,204.6 590.9,203.7 591.6,203.2 592.3,204.8 593,203.3 593.7,203.3 594.4,202.6 595.1,203.3 595.8,203.9 596.5,202.8 597.2,203.6 597.9,203 598.6,201.5 599.3,204.3 600,202.2 600.7,202.9 601.4,204.1 602.1,201.8 602.8,201.3 603.5,195.8 604.2,162.4 604.9,141.1 605.6,123.7 606.3,111 607,104 607.7,99.7 608.4,95.5 609.1,94 609.8,94.9 610.5,93.3 611.2,93 611.9,94.7 612.6,94.1 613.3,96.3 614,97.8 614.7,97.4 615.4,100.1 616.1,100.7 616.8,103.3 617.5,104.3 618.2,106.5 618.9,106.9 619.6,107 620.3,108.4 621,111.3 621.7,112.9 622.4,112 623.1,114.3 623.8,115.2 624.5,117.1 625.2,119.6 625.9,119.9 626.6,121.7 627.3,123 628,122.7 628.7,125 629.4,125.4 630.1,126.9 630.8,128.3 631.5,129.8 632.2,129.5 632.9,132.6 633.6,131.7 634.3,133.3 635,136 635.7,137.5 636.4,136.8 637.1,139.6 637.8,137.9 638.5,141.7 639.2,140.5 639.9,141 640.6,144.3 641.3,143.5 642,146.2 642.7,145 643.4,146.3 644.1,148 644.8,148.2 645.5,150.3 646.2,150.9 646.9,153 647.6,153.2 648.3,155.5 649,156.1 649.7,154.9 650.4,158.1 651.1,158.9 651.8,158.8 652.5,159.5 653.2,159.3 653.9,160.6 654.6,161.2 655.3,161.9 656,164 656.7,164 657.4,166.1 658.1,166.3 658.8,167.9 659.5,166.5 660.2,169.5 660.9,169.3 661.6,170.4 662.3,170 663,172.1 663.7,172 664.4,173.7 665.1,174 665.8,173.4 666.5,174.6 667.2,176.7 667.9,175.1 668.6,177.7 669.3,178.1 670,179.3 670.7,178.8 671.4,179.9 672.1,180.6 672.8,182.1 673.5,180.7 674.2,182.7 674.9,182.5 675.6,184.2 676.3,183.8 677,184.3 677.7,184.9 678.4,187.5 679.1,186.5 679.8,188.7 680.5,188.8 681.2,188 681.9,189.5 682.6,188.4 683.3,191.7 684,191.4 684.7,190.4 685.4,192.2 686.1,192.6 686.8,193.7 687.5,193.1 688.2,195.5 688.9,195.1 689.6,194 690.3,196.8 691,197.5 691.7,196.2 692.4,198 693.1,198.9 693.8,199.5 694.5,197.5 695.2,200.3 695.9,199 696.6,201.1 697.3,201.3 698,201.1 698.7,202.8" stroke-width="2.5" />
<line x1="474" y1="263.9" x2="508" y2="263.9" stroke-width="7.6" />
<line x1="507.6" y1="261.7" x2="699.3" y2="261.7" stroke-width="8.6" />
<line x1="507.8" y1="265.2" x2="507.8" y2="209.5" stroke-width="1.3" />
<line x1="603.4" y1="201.2" x2="603.4" y2="267" stroke-width="1.3" />
</g>
<g fill="none" stroke="#000">
<polyline points="104.9,238.4 104.9,276.5 144.5,276.5" stroke-width="1.9" stroke-linejoin="miter"/>
<line x1="118" y1="267.3" x2="127.4" y2="267.3" stroke-width="1.4" />
<line x1="130.7" y1="267.3" x2="137.6" y2="267.3" stroke-width="1.4" />
<polyline points="449.9,240.5 449.9,277.7 489.7,277.7" stroke-width="1.9" stroke-linejoin="miter"/>
<line x1="460.4" y1="267.2" x2="469.6" y2="267.2" stroke-width="1.4" />
<line x1="279.8" y1="63.4" x2="279.8" y2="80.2" stroke-width="1.6" />
<polyline points="276.1,73.2 279.8,80.2 283.6,73.2" stroke-width="1.6" stroke-linejoin="miter"/>
<line x1="610.9" y1="63.4" x2="610.9" y2="80" stroke-width="1.6" />
<polyline points="607.1,73 610.9,80 614.6,73" stroke-width="1.6" stroke-linejoin="miter"/>
</g>
<text transform="translate(97.2 255.4) rotate(-90)" font-size="13.2" font-weight="normal" text-anchor="middle">1 &#181;A</text>
<text x="108.6" y="291.3" font-size="13.5" font-weight="normal" text-anchor="start" >100 ms</text>
<text transform="translate(444.2 254.8) rotate(-90)" font-size="13.6" font-weight="normal" text-anchor="middle" font-family="'Liberation Serif', serif">0.5 &#181;A</text>
<text x="452.8" y="290.8" font-size="13.5" font-weight="normal" text-anchor="start" >100 ms</text>
<g fill="none" stroke="#000">
<line x1="136" y1="105.4" x2="203.2" y2="105.4" stroke-width="1.9" />
<line x1="136" y1="109.7" x2="203.2" y2="109.7" stroke-width="1.9" />
<line x1="136" y1="113.9" x2="203.2" y2="113.9" stroke-width="1.9" />
<line x1="136" y1="118.2" x2="203.2" y2="118.2" stroke-width="1.9" />
<line x1="136" y1="122.4" x2="203.2" y2="122.4" stroke-width="1.9" />
<line x1="136" y1="126.7" x2="203.2" y2="126.7" stroke-width="1.9" />
<line x1="136" y1="130.9" x2="203.2" y2="130.9" stroke-width="1.9" />
<line x1="136" y1="135.2" x2="203.2" y2="135.2" stroke-width="1.9" />
<line x1="136" y1="139.4" x2="203.2" y2="139.4" stroke-width="1.9" />
<line x1="136" y1="143.7" x2="203.2" y2="143.7" stroke-width="1.9" />
<line x1="136" y1="147.9" x2="203.2" y2="147.9" stroke-width="1.9" />
<line x1="136" y1="152.2" x2="203.2" y2="152.2" stroke-width="1.9" />
<line x1="136" y1="156.4" x2="203.2" y2="156.4" stroke-width="1.9" />
<line x1="136" y1="160.7" x2="203.2" y2="160.7" stroke-width="1.9" />
<line x1="136" y1="164.9" x2="203.2" y2="164.9" stroke-width="1.9" />
<line x1="136.6" y1="102" x2="136.6" y2="165.8" stroke-width="1.6" />
<line x1="202.6" y1="104.5" x2="202.6" y2="165.8" stroke-width="1.6" />
<line x1="130.8" y1="164.9" x2="137" y2="164.9" stroke-width="1.9" />
<line x1="203" y1="157" x2="224.7" y2="157" stroke-width="1.7" />
<polyline points="113.9,381.4 131.3,381.4 131.3,338.5 157.5,338.5 157.5,391" stroke-width="1.8" stroke-linejoin="miter"/>
<line x1="157.5" y1="343.9" x2="237.6" y2="343.9" stroke-width="2" />
<line x1="157.5" y1="347" x2="237.6" y2="347" stroke-width="2" />
<line x1="157.5" y1="350.2" x2="237.6" y2="350.2" stroke-width="2" />
<line x1="157.5" y1="353.3" x2="237.6" y2="353.3" stroke-width="2" />
<line x1="157.5" y1="356.5" x2="237.6" y2="356.5" stroke-width="2" />
<line x1="157.5" y1="359.6" x2="237.6" y2="359.6" stroke-width="2" />
<line x1="157.5" y1="362.8" x2="237.6" y2="362.8" stroke-width="2" />
<line x1="157.5" y1="365.9" x2="237.6" y2="365.9" stroke-width="2" />
<line x1="157.5" y1="369.1" x2="237.6" y2="369.1" stroke-width="2" />
<line x1="157.5" y1="372.2" x2="237.6" y2="372.2" stroke-width="2" />
<line x1="157.5" y1="375.4" x2="237.6" y2="375.4" stroke-width="2" />
<line x1="157.5" y1="378.5" x2="237.6" y2="378.5" stroke-width="2" />
<line x1="157.5" y1="381.7" x2="237.6" y2="381.7" stroke-width="2" />
<line x1="157.5" y1="384.8" x2="237.6" y2="384.8" stroke-width="2" />
<line x1="157.5" y1="388" x2="237.6" y2="388" stroke-width="2" />
<line x1="157.5" y1="391.1" x2="237.6" y2="391.1" stroke-width="2" />
<line x1="237.2" y1="342.6" x2="237.2" y2="391.8" stroke-width="1.6" />
<line x1="157.5" y1="391" x2="247.6" y2="391" stroke-width="1.8" />
</g>
<text x="144.8" y="98.3" font-size="13.7" font-weight="normal" text-anchor="start" >250 ms</text>
<text x="78.2" y="109.3" font-size="13.7" font-weight="normal" text-anchor="start" >+60 mV</text>
<text x="85.7" y="169" font-size="13.7" font-weight="normal" text-anchor="start" >-80 mV</text>
<text x="208.4" y="149.2" font-size="13.7" font-weight="normal" text-anchor="start" >-60 mV</text>
<text x="121.6" y="331.3" font-size="13.6" font-weight="normal" text-anchor="start" >250 ms</text>
<text x="175.5" y="338.5" font-size="13.6" font-weight="normal" text-anchor="start" >750 ms</text>
<text x="65.2" y="344.4" font-size="13.6" font-weight="normal" text-anchor="start" >+60 mV</text>
<text x="66.4" y="384.7" font-size="13.6" font-weight="normal" text-anchor="start" >-80 mV</text>
<text x="239.8" y="383.9" font-size="13.7" font-weight="normal" text-anchor="start" >-110 mV</text>
<g fill="none" stroke="#000" stroke-linejoin="round">
<polyline points="114,460.7 116,460.8 118,460.8 118.2,457.6 118.5,455.4 118.8,453.6 119,452.2 119.2,451.3 119.5,450.6 119.8,449.9 120,449.6 120.2,449.7 120.5,449.6 120.8,449.5 121,449.5 121.2,449.4 121.5,449.5 121.8,449.7 122,449.4 122.2,449.8 122.5,450.3 122.8,450 123,450.3 123.2,450.2 123.5,450.4 123.8,450.9 124,450.6 124.8,451.5 125.6,451.9 126.4,452.3 127.2,452.2 128,452.9 128.8,452.8 129.6,453.1 130.4,453.6 131.2,453.5 132,453.7 132.8,453.5 133.6,453.5 134.4,453.8 135.2,453.8 136,454.3 136.8,454 137.6,454.5 138.4,454.4 139.2,454.1 140,454.5 140.8,454.3 141.6,454.4 142.4,454.2 143.2,454.6 144,454.6 144.8,454.5 145.6,454.6 146.4,454.4 147.2,454.3 148,454.4 150,454.7 152,454.6 154,454.4 156,454.4 158,454.6 160,454.3 162,454.3 164,454.6 166,454.4 168,454.8 170,454.4 172,454.7 174,454.8 176,454.5 178,454.6 180,454.9 182,454.7 184,454.5 184.3,505.9 184.5,558.8 184.8,587.1 185,599.8 185.3,604.3 185.5,603.6 185.8,600.5 186,595.9 186.3,590.4 186.5,584.4 186.8,579.2 187,573.5 187.3,568.1 187.5,563.3 187.8,558.1 188,553.9 188.3,549.9 188.5,545.9 188.8,542.2 189,538.3 189.3,535.3 189.5,532.2 189.8,529.5 190,526.7 190.3,524.2 191.1,517.1 191.9,511.2 192.7,506.4 193.5,501.9 194.3,498.4 195.1,495.3 195.9,492.6 196.7,490.8 197.5,488.8 198.3,486.6 199.1,485.1 199.9,484 200.7,482.7 201.5,481.5 202.3,480.5 203.1,479 203.9,477.9 204.7,477.2 205.5,476.5 206.3,475.4 207.1,474.8 207.9,474.3 208.7,473.8 209.5,472.9 210.3,472.3 211.1,471.8 211.9,471.2 212.7,470.7 213.5,470.2 214.3,470.2 216.3,469.2 218.3,467.9 220.3,467.5 222.3,466.9 224.3,466.1 226.3,465.4 228.3,465.2 230.3,464.4 232.3,464 234.3,464.2 236.3,463.5 238.3,463.6 240.3,463.3 242.3,462.7 244.3,462.6 246.3,462.7 248.3,462.3 250.3,462.5 252.3,462.4 254.3,462 256.3,462.1 258.3,461.9 260.3,462.2 262.3,462 264.3,462 266.3,461.9 268.3,461.5 270.3,462 272.3,461.9 274.3,461.7 276.3,461.7 278.3,461.7 280.3,461.8 282.3,461.6 284.3,461.5 286.3,461.6 288.3,461.4 290.3,461.3 292.3,461.6 294.3,461.8 296.3,461.7 298.3,461.4 300.3,461.5 302.3,461.6 304.3,461.6 306.3,461.5 308.3,461.5 310.3,461.6 312.3,461.7 314.3,461.5 316.3,461.7 318.3,461.6 320.3,461.3 322.3,461.4 324.3,461.4 326.3,461.4 328.3,461.5 330.3,461.4 332.3,461.8 334.3,461.6 336.3,461.4 338.3,461.6 340.3,461.8 342.3,461.3 344.3,461.6 346.3,461.8 348.3,461.4 350.3,461.7 352.3,461.7 354.3,461.4 356.3,461.3 358.3,461.7 360.3,461.5 362.3,461.4 364.3,461.5 366.3,461.6 368.3,461.7 370.3,461.8 372.3,461.7 374.3,461.3 376.3,461.4 378.3,461.2 380.3,461.3 382.3,461.9 382.5,461.9 382.8,462.1 383,461.9 383.3,462.2 383.5,462.1 383.8,462 384,462.2 384.3,462 384.5,461.8 384.8,462.3 385,462.2 385.3,462.3 385.5,461.9 385.8,461.9 386,462.1 386.3,461.8 386.5,462.2 386.8,462 387,462 387.3,461.6 387.5,461.8 388.3,461.8 389.1,462.1 389.9,461.6 390.7,461.8 391.5,461.5 392.3,462 393.1,461.8 393.9,461.8 394.7,461.7 395.5,461.4 396.3,461.4 397.1,461.3 397.9,461.5 398.7,461.2 399.5,461.3 400.3,461.3 401.1,461.7 401.9,461.6 402.7,461.3 403.5,461.7 404.3,461.2 405.1,461.2 405.9,461.3 406.7,461.6 407.5,461.1" stroke-width="2" />
<polyline points="114,460.7 116,460.5 118,460.7 118.2,457.4 118.5,455 118.8,453.3 119,452.4 119.2,451.3 119.5,450.7 119.8,449.9 120,449.6 120.2,449.3 120.5,449.6 120.8,449.5 121,449.1 121.2,449.5 121.5,449.2 121.8,449.6 122,449.6 122.2,450 122.5,450.1 122.8,450.2 123,450.1 123.2,450.2 123.5,450.7 123.8,450.9 124,450.6 124.8,451.5 125.6,452 126.4,452 127.2,452.4 128,452.7 128.8,453.2 129.6,453.2 130.4,453.3 131.2,453.6 132,453.6 132.8,453.4 133.6,453.9 134.4,453.9 135.2,453.9 136,454 136.8,454 137.6,454.1 138.4,454.4 139.2,454.5 140,454.3 140.8,454.6 141.6,454.2 142.4,454.4 143.2,454.6 144,454.6 144.8,454.4 145.6,454.3 146.4,454.8 147.2,454.6 148,454.6 150,454.5 152,454.3 154,454.6 156,454.5 158,454.8 160,454.7 162,454.7 164,454.6 166,454.7 168,454.4 170,454.9 172,454.6 174,454.7 176,454.4 178,454.4 180,454.7 182,454.7 184,454.7 184.3,487.1 184.5,524.9 184.8,548 185,561.1 185.3,568.1 185.5,570.4 185.8,571 186,569.1 186.3,566.9 186.5,563.8 186.8,560.1 187,556.7 187.3,553.3 187.5,549.9 187.8,546.1 188,543 188.3,540 188.5,536.6 188.8,534.2 189,531.5 189.3,528.6 189.5,526.1 189.8,523.7 190,521.5 190.3,519.6 191.1,513.7 191.9,508.7 192.7,504.2 193.5,500.7 194.3,497.1 195.1,494.4 195.9,491.6 196.7,489.7 197.5,487.5 198.3,485.9 199.1,484.7 199.9,482.9 200.7,481.8 201.5,480.8 202.3,479.7 203.1,478.4 203.9,477.6 204.7,477.1 205.5,476.1 206.3,475.2 207.1,474.7 207.9,474 208.7,473.8 209.5,472.6 210.3,472.2 211.1,471.6 211.9,471.4 212.7,471.2 213.5,470.6 214.3,469.8 216.3,469.1 218.3,468.1 220.3,467.8 222.3,466.9 224.3,466.3 226.3,465.5 228.3,465.2 230.3,464.8 232.3,464.4 234.3,464.2 236.3,463.6 238.3,463.5 240.3,463.6 242.3,463.1 244.3,463 246.3,462.9 248.3,462.8 250.3,462.7 252.3,462.3 254.3,462.4 256.3,462 258.3,462.2 260.3,461.8 262.3,461.8 264.3,461.8 266.3,461.8 268.3,462 270.3,461.5 272.3,462 274.3,461.5 276.3,462 278.3,462 280.3,461.7 282.3,461.9 284.3,461.9 286.3,461.6 288.3,461.8 290.3,461.3 292.3,461.8 294.3,461.7 296.3,461.7 298.3,461.4 300.3,461.3 302.3,461.6 304.3,461.6 306.3,461.7 308.3,461.3 310.3,461.6 312.3,461.8 314.3,461.4 316.3,461.7 318.3,461.8 320.3,461.6 322.3,461.5 324.3,461.5 326.3,461.5 328.3,461.3 330.3,461.3 332.3,461.4 334.3,461.3 336.3,461.7 338.3,461.4 340.3,461.7 342.3,461.5 344.3,461.7 346.3,461.7 348.3,461.6 350.3,461.5 352.3,461.3 354.3,461.5 356.3,461.4 358.3,461.7 360.3,461.2 362.3,461.6 364.3,461.4 366.3,461.5 368.3,461.5 370.3,461.8 372.3,461.8 374.3,461.4 376.3,461.8 378.3,461.8 380.3,461.5 382.3,462.4 382.5,462.3 382.8,462.7 383,462.5 383.3,462.7 383.5,462.8 383.8,462.6 384,462.6 384.3,462.5 384.5,462.3 384.8,462.4 385,462.2 385.3,462.2 385.5,462.7 385.8,462.3 386,462.1 386.3,462.3 386.5,462 386.8,462.3 387,462.1 387.3,462.1 387.5,462.3 388.3,462.4 389.1,461.8 389.9,462.1 390.7,462 391.5,461.9 392.3,461.8 393.1,461.5 393.9,461.7 394.7,461.8 395.5,461.6 396.3,462 397.1,461.6 397.9,461.8 398.7,461.8 399.5,461.7 400.3,461.5 401.1,461.5 401.9,461.7 402.7,461.3 403.5,461.3 404.3,461.2 405.1,461.5 405.9,461.4 406.7,461.7 407.5,461.7" stroke-width="2" />
<polyline points="114,460.4 116,460.5 118,460.3 118.2,457.7 118.5,455.3 118.8,453.3 119,452.5 119.2,451 119.5,450.4 119.8,450.1 120,450 120.2,449.3 120.5,449.3 120.8,449.5 121,449.3 121.2,449.7 121.5,449.2 121.8,449.4 122,449.6 122.2,450.1 122.5,449.8 122.8,450.2 123,450.5 123.2,450.7 123.5,450.8 123.8,450.5 124,450.9 124.8,451.1 125.6,451.5 126.4,451.9 127.2,452.5 128,452.7 128.8,452.7 129.6,453 130.4,453 131.2,453.7 132,453.8 132.8,453.7 133.6,454.1 134.4,454.2 135.2,453.8 136,453.9 136.8,454 137.6,454.3 138.4,454.3 139.2,454.3 140,454.5 140.8,454.4 141.6,454.3 142.4,454.5 143.2,454.7 144,454.2 144.8,454.5 145.6,454.3 146.4,454.7 147.2,454.5 148,454.7 150,454.7 152,454.8 154,454.6 156,454.6 158,454.9 160,454.8 162,454.5 164,454.4 166,454.8 168,454.3 170,454.9 172,454.9 174,454.7 176,454.9 178,454.7 180,454.7 182,454.7 184,454.4 184.3,472.1 184.5,494.8 184.8,509.9 185,520 185.3,526.9 185.5,530.7 185.8,532.9 186,534.2 186.3,533.9 186.5,533.3 186.8,532.2 187,530.5 187.3,528.9 187.5,527.2 187.8,525.3 188,523.8 188.3,522 188.5,519.9 188.8,518.4 189,516.4 189.3,514.7 189.5,513.5 189.8,512 190,510.3 190.3,509.3 191.1,505 191.9,501.1 192.7,498.2 193.5,495.4 194.3,492.5 195.1,490.7 195.9,488.4 196.7,486.6 197.5,485 198.3,483.6 199.1,482.3 199.9,481 200.7,479.7 201.5,479.1 202.3,478.2 203.1,477.3 203.9,476.3 204.7,475.8 205.5,474.6 206.3,474.1 207.1,473.4 207.9,473.1 208.7,472.5 209.5,471.9 210.3,471.5 211.1,470.8 211.9,470.4 212.7,470.5 213.5,470.1 214.3,469.2 216.3,468.7 218.3,467.8 220.3,467.2 222.3,466.8 224.3,466.1 226.3,465.8 228.3,465.2 230.3,465 232.3,464.2 234.3,464.3 236.3,463.7 238.3,463.8 240.3,463.5 242.3,463.4 244.3,463.1 246.3,462.8 248.3,462.7 250.3,462.7 252.3,462.2 254.3,462.4 256.3,462.3 258.3,462.3 260.3,462 262.3,462.1 264.3,462.1 266.3,461.9 268.3,462 270.3,462.1 272.3,461.7 274.3,461.8 276.3,461.7 278.3,461.9 280.3,461.6 282.3,461.6 284.3,461.6 286.3,461.7 288.3,461.4 290.3,461.9 292.3,461.6 294.3,461.7 296.3,461.5 298.3,461.3 300.3,461.5 302.3,461.6 304.3,461.3 306.3,461.8 308.3,461.6 310.3,461.5 312.3,461.3 314.3,461.4 316.3,461.4 318.3,461.6 320.3,461.3 322.3,461.5 324.3,461.4 326.3,461.6 328.3,461.6 330.3,461.5 332.3,461.7 334.3,461.6 336.3,461.3 338.3,461.6 340.3,461.5 342.3,461.7 344.3,461.8 346.3,461.4 348.3,461.7 350.3,461.3 352.3,461.6 354.3,461.2 356.3,461.7 358.3,461.5 360.3,461.5 362.3,461.5 364.3,461.4 366.3,461.3 368.3,461.6 370.3,461.6 372.3,461.2 374.3,461.4 376.3,461.8 378.3,461.4 380.3,461.4 382.3,462.7 382.5,462.7 382.8,463.2 383,463.2 383.3,462.7 383.5,462.8 383.8,462.8 384,462.9 384.3,462.8 384.5,463 384.8,463.1 385,462.6 385.3,462.5 385.5,462.5 385.8,462.6 386,462.5 386.3,462.6 386.5,462.5 386.8,462.7 387,462.8 387.3,462.8 387.5,462.5 388.3,462.5 389.1,462.1 389.9,462.3 390.7,462.4 391.5,462.3 392.3,461.8 393.1,461.8 393.9,462.2 394.7,462 395.5,462 396.3,461.5 397.1,461.8 397.9,461.4 398.7,461.8 399.5,461.8 400.3,461.5 401.1,461.3 401.9,461.7 402.7,461.9 403.5,461.6 404.3,461.4 405.1,461.4 405.9,461.7 406.7,461.8 407.5,461.4" stroke-width="2" />
<polyline points="114,460.3 116,460.8 118,460.5 118.2,457.5 118.5,455.1 118.8,453.7 119,452.5 119.2,451.3 119.5,450.8 119.8,450 120,449.7 120.2,449.7 120.5,449.7 120.8,449.5 121,449.5 121.2,449.6 121.5,449.7 121.8,449.9 122,449.7 122.2,449.8 122.5,449.7 122.8,450.2 123,450.2 123.2,450.1 123.5,450.9 123.8,450.6 124,451.1 124.8,451 125.6,451.6 126.4,452.2 127.2,452.5 128,452.8 128.8,452.9 129.6,452.9 130.4,453.5 131.2,453.6 132,453.6 132.8,453.8 133.6,454 134.4,453.9 135.2,454 136,454.1 136.8,454.3 137.6,454.3 138.4,454.2 139.2,454.5 140,454.3 140.8,454.5 141.6,454.3 142.4,454.7 143.2,454.7 144,454.6 144.8,454.4 145.6,454.4 146.4,454.5 147.2,454.6 148,454.3 150,454.6 152,454.8 154,454.3 156,454.8 158,454.6 160,454.9 162,454.7 164,454.7 166,454.7 168,454.6 170,454.4 172,454.8 174,454.8 176,454.7 178,454.4 180,454.6 182,454.6 184,454.5 184.3,461.6 184.5,471.2 184.8,479.1 185,484.7 185.3,489.4 185.5,492.8 185.8,494.9 186,497.1 186.3,498.2 186.5,499.2 186.8,499.7 187,500.1 187.3,499.9 187.5,500 187.8,499.5 188,499.4 188.3,498.8 188.5,498.4 188.8,498 189,497 189.3,496.3 189.5,496.2 189.8,495.4 190,494.8 190.3,494.3 191.1,492.4 191.9,490.3 192.7,488.9 193.5,487 194.3,485.7 195.1,484.4 195.9,482.9 196.7,481.8 197.5,480.7 198.3,479.7 199.1,478.8 199.9,478.2 200.7,476.9 201.5,476.7 202.3,475.9 203.1,475.1 203.9,474.5 204.7,473.7 205.5,473.4 206.3,473 207.1,472.2 207.9,471.8 208.7,471.1 209.5,470.7 210.3,470.7 211.1,470.2 211.9,469.7 212.7,469.5 213.5,468.9 214.3,468.5 216.3,468 218.3,467.4 220.3,466.6 222.3,466.3 224.3,465.7 226.3,465.3 228.3,465.2 230.3,464.6 232.3,464.5 234.3,464.3 236.3,463.8 238.3,463.4 240.3,463.6 242.3,463.3 244.3,463.1 246.3,463 248.3,462.8 250.3,462.9 252.3,462.3 254.3,462.7 256.3,462.4 258.3,462.2 260.3,462.5 262.3,462.4 264.3,462.1 266.3,461.7 268.3,462.1 270.3,461.9 272.3,461.9 274.3,462.1 276.3,461.6 278.3,462 280.3,461.6 282.3,461.6 284.3,461.4 286.3,461.5 288.3,461.5 290.3,461.7 292.3,461.9 294.3,461.4 296.3,461.5 298.3,461.5 300.3,461.7 302.3,461.5 304.3,461.7 306.3,461.4 308.3,461.3 310.3,461.6 312.3,461.7 314.3,461.3 316.3,461.3 318.3,461.6 320.3,461.3 322.3,461.8 324.3,461.6 326.3,461.3 328.3,461.5 330.3,461.3 332.3,461.3 334.3,461.4 336.3,461.7 338.3,461.8 340.3,461.7 342.3,461.6 344.3,461.6 346.3,461.5 348.3,461.6 350.3,461.5 352.3,461.4 354.3,461.7 356.3,461.4 358.3,461.4 360.3,461.6 362.3,461.8 364.3,461.4 366.3,461.5 368.3,461.4 370.3,461.3 372.3,461.4 374.3,461.7 376.3,461.3 378.3,461.5 380.3,461.4 382.3,463.1 382.5,463.3 382.8,463 383,463.3 383.3,463.2 383.5,463.5 383.8,463.5 384,463.2 384.3,463.2 384.5,463.2 384.8,463.1 385,463.4 385.3,463.4 385.5,463.3 385.8,463 386,463 386.3,462.8 386.5,462.9 386.8,463.2 387,462.6 387.3,462.8 387.5,462.6 388.3,462.9 389.1,462.5 389.9,462.5 390.7,462.1 391.5,462.4 392.3,462.2 393.1,462.3 393.9,462.2 394.7,462.2 395.5,461.8 396.3,461.8 397.1,461.9 397.9,461.6 398.7,462.1 399.5,461.9 400.3,461.7 401.1,461.6 401.9,461.4 402.7,461.7 403.5,461.8 404.3,461.4 405.1,461.3 405.9,461.7 406.7,461.5 407.5,461.7" stroke-width="2" />
<polyline points="114,460.4 116,460.8 118,460.7 118.2,457.4 118.5,455.3 118.8,453.6 119,452.2 119.2,451.5 119.5,450.7 119.8,450.3 120,449.6 120.2,449.5 120.5,449.4 120.8,449.4 121,449.1 121.2,449.6 121.5,449.5 121.8,449.4 122,449.9 122.2,449.9 122.5,450.1 122.8,450.3 123,450.4 123.2,450.7 123.5,450.3 123.8,450.6 124,450.7 124.8,451.4 125.6,451.5 126.4,451.8 127.2,452.2 128,452.5 128.8,452.9 129.6,453.1 130.4,453.3 131.2,453.2 132,453.6 132.8,453.6 133.6,453.6 134.4,453.7 135.2,453.8 136,454 136.8,454 137.6,454.2 138.4,454.1 139.2,454.4 140,454.6 140.8,454.3 141.6,454.1 142.4,454.7 143.2,454.2 144,454.6 144.8,454.6 145.6,454.5 146.4,454.7 147.2,454.3 148,454.7 150,454.8 152,454.8 154,454.8 156,454.5 158,454.6 160,454.8 162,454.5 164,454.4 166,454.3 168,454.4 170,454.4 172,454.9 174,454.5 176,454.5 178,454.9 180,454.7 182,454.6 184,454.4 184.3,455.9 184.5,457.9 184.8,460 185,461.2 185.3,462.9 185.5,463.5 185.8,464.4 186,465.7 186.3,465.9 186.5,466.9 186.8,467.3 187,467.5 187.3,468.2 187.5,468.2 187.8,468.8 188,468.8 188.3,469.2 188.5,469.3 188.8,469.1 189,469.3 189.3,469.4 189.5,469.4 189.8,469.1 190,469.5 190.3,469.6 191.1,469.2 191.9,469 192.7,468.9 193.5,469 194.3,468.6 195.1,468.8 195.9,468.4 196.7,468.6 197.5,468.3 198.3,467.9 199.1,467.6 199.9,467.6 200.7,467.6 201.5,467.6 202.3,467.4 203.1,466.9 203.9,466.6 204.7,466.9 205.5,466.8 206.3,466.6 207.1,466.6 207.9,466.5 208.7,466.2 209.5,466.2 210.3,465.7 211.1,466.1 211.9,465.8 212.7,465.4 213.5,465.3 214.3,465.5 216.3,465 218.3,465.2 220.3,464.6 222.3,464.5 224.3,464.4 226.3,464.4 228.3,463.9 230.3,464.1 232.3,463.9 234.3,463.6 236.3,463.7 238.3,463.6 240.3,463.4 242.3,463.2 244.3,462.8 246.3,462.8 248.3,462.9 250.3,462.5 252.3,462.8 254.3,462.5 256.3,462.5 258.3,462.7 260.3,462.6 262.3,462.5 264.3,462.3 266.3,462.3 268.3,462.5 270.3,462.4 272.3,462.2 274.3,461.8 276.3,462.3 278.3,461.8 280.3,461.8 282.3,462.1 284.3,461.8 286.3,462.1 288.3,462 290.3,461.7 292.3,462.1 294.3,462.1 296.3,461.9 298.3,462.1 300.3,461.9 302.3,461.7 304.3,461.9 306.3,462 308.3,461.8 310.3,461.4 312.3,461.6 314.3,461.8 316.3,461.6 318.3,461.5 320.3,461.6 322.3,461.4 324.3,461.6 326.3,461.4 328.3,461.7 330.3,461.4 332.3,461.9 334.3,461.4 336.3,461.7 338.3,461.7 340.3,461.4 342.3,461.6 344.3,461.6 346.3,461.6 348.3,461.4 350.3,461.5 352.3,461.8 354.3,461.6 356.3,461.4 358.3,461.4 360.3,461.8 362.3,461.3 364.3,461.5 366.3,461.5 368.3,461.5 370.3,461.2 372.3,461.3 374.3,461.7 376.3,461.5 378.3,461.4 380.3,461.5 382.3,464.9 382.5,465.2 382.8,465.9 383,466 383.3,465.8 383.5,465.9 383.8,465.7 384,465.9 384.3,465.9 384.5,466 384.8,465.8 385,465.9 385.3,465.9 385.5,465.6 385.8,465.2 386,465.1 386.3,465.4 386.5,465 386.8,465.3 387,464.8 387.3,464.7 387.5,465.2 388.3,464.6 389.1,464.4 389.9,464.2 390.7,463.7 391.5,463.7 392.3,463.5 393.1,463.6 393.9,463.5 394.7,463.3 395.5,462.8 396.3,462.9 397.1,463 397.9,462.5 398.7,462.5 399.5,462.6 400.3,462.7 401.1,462 401.9,462.4 402.7,462.2 403.5,462.1 404.3,462.3 405.1,461.8 405.9,462 406.7,461.8 407.5,462" stroke-width="2" />
<polyline points="114,460.6 116,460.4 118,460.3 118.2,457.7 118.5,455.4 118.8,453.6 119,452.4 119.2,451.5 119.5,450.4 119.8,450.2 120,449.9 120.2,449.4 120.5,449.6 120.8,449.2 121,449.6 121.2,449.5 121.5,449.8 121.8,449.8 122,449.9 122.2,449.8 122.5,450 122.8,450.2 123,450.5 123.2,450.4 123.5,450.8 123.8,450.6 124,450.9 124.8,451.1 125.6,451.5 126.4,451.9 127.2,452.1 128,452.7 128.8,453 129.6,453 130.4,453.5 131.2,453.5 132,453.7 132.8,453.5 133.6,453.7 134.4,453.6 135.2,453.8 136,454.3 136.8,453.9 137.6,454.3 138.4,454.2 139.2,454.4 140,454.6 140.8,454.6 141.6,454.7 142.4,454.7 143.2,454.4 144,454.8 144.8,454.6 145.6,454.4 146.4,454.4 147.2,454.5 148,454.7 150,454.3 152,454.8 154,454.7 156,454.6 158,454.5 160,454.5 162,454.5 164,454.7 166,454.6 168,454.7 170,454.8 172,454.4 174,454.3 176,454.9 178,454.4 180,454.8 182,454.5 184,454.4 184.3,454 184.5,453.9 184.8,453.8 185,453.2 185.3,453 185.5,453.1 185.8,453.4 186,453.2 186.3,452.9 186.5,453 186.8,453 187,453.2 187.3,452.9 187.5,453 187.8,453.2 188,453 188.3,453.2 188.5,453.4 188.8,453.3 189,453.1 189.3,453.4 189.5,453.5 189.8,453.4 190,453.5 190.3,453.7 191.1,453.8 191.9,453.8 192.7,454.4 193.5,454.1 194.3,454.8 195.1,454.5 195.9,454.9 196.7,455 197.5,455.1 198.3,455.4 199.1,455.7 199.9,455.4 200.7,455.4 201.5,455.6 202.3,456.1 203.1,456.1 203.9,456.3 204.7,456.2 205.5,456.3 206.3,456.6 207.1,456.6 207.9,456.9 208.7,456.5 209.5,456.7 210.3,457 211.1,457.3 211.9,457.1 212.7,457.3 213.5,457 214.3,457.4 216.3,457.4 218.3,457.8 220.3,457.7 222.3,457.8 224.3,457.9 226.3,458.3 228.3,458.4 230.3,458.6 232.3,458.4 234.3,458.3 236.3,458.8 238.3,458.6 240.3,458.9 242.3,458.9 244.3,458.9 246.3,458.7 248.3,458.9 250.3,459.2 252.3,459.1 254.3,459.4 256.3,459.4 258.3,459.2 260.3,459.5 262.3,459 264.3,459.2 266.3,459.3 268.3,459.1 270.3,459.6 272.3,459.2 274.3,459.4 276.3,459.3 278.3,459.4 280.3,459.4 282.3,459.3 284.3,459.3 286.3,459.6 288.3,459.6 290.3,459.2 292.3,459.8 294.3,459.3 296.3,459.3 298.3,459.4 300.3,459.4 302.3,459.5 304.3,459.8 306.3,459.3 308.3,459.6 310.3,459.6 312.3,459.4 314.3,459.5 316.3,459.5 318.3,459.8 320.3,459.7 322.3,459.6 324.3,459.3 326.3,459.5 328.3,459.8 330.3,459.5 332.3,459.5 334.3,459.7 336.3,459.3 338.3,459.7 340.3,459.7 342.3,459.4 344.3,459.5 346.3,459.8 348.3,459.4 350.3,459.6 352.3,459.5 354.3,459.6 356.3,459.5 358.3,459.5 360.3,459.8 362.3,459.7 364.3,459.9 366.3,459.5 368.3,459.6 370.3,459.5 372.3,459.8 374.3,459.5 376.3,459.7 378.3,459.4 380.3,459.6 382.3,471 382.5,472.6 382.8,473.1 383,474 383.3,474 383.5,474.1 383.8,474.2 384,474.4 384.3,474.2 384.5,474.1 384.8,473.7 385,473.6 385.3,473.1 385.5,473.2 385.8,472.9 386,472.7 386.3,472.2 386.5,472.3 386.8,471.9 387,471.5 387.3,471.7 387.5,471.4 388.3,470.6 389.1,470.1 389.9,469.4 390.7,468.6 391.5,468.5 392.3,467.9 393.1,467.4 393.9,466.8 394.7,466.4 395.5,465.8 396.3,466 397.1,465.6 397.9,465.2 398.7,464.9 399.5,464.8 400.3,464.1 401.1,464.1 401.9,463.8 402.7,463.9 403.5,463.5 404.3,463.5 405.1,463.5 405.9,463.1 406.7,462.8 407.5,462.6" stroke-width="2" />
<polyline points="114,460.7 116,460.5 118,460.5 118.2,457.3 118.5,455 118.8,453.2 119,452.5 119.2,451 119.5,450.5 119.8,450.1 120,449.8 120.2,449.3 120.5,449.5 120.8,449.4 121,449.6 121.2,449.2 121.5,449.4 121.8,449.4 122,449.6 122.2,449.7 122.5,449.7 122.8,450.3 123,450.2 123.2,450.6 123.5,450.8 123.8,450.9 124,450.6 124.8,451.4 125.6,451.9 126.4,452.1 127.2,452.4 128,452.6 128.8,453.1 129.6,453.1 130.4,453.2 131.2,453.5 132,453.6 132.8,453.5 133.6,453.9 134.4,454.1 135.2,454.1 136,453.8 136.8,454.1 137.6,454.4 138.4,454 139.2,454.3 140,454.4 140.8,454.4 141.6,454.3 142.4,454.1 143.2,454.6 144,454.3 144.8,454.5 145.6,454.5 146.4,454.6 147.2,454.3 148,454.8 150,454.7 152,454.8 154,454.4 156,454.7 158,454.5 160,454.7 162,454.7 164,454.5 166,454.9 168,454.6 170,454.6 172,454.7 174,454.4 176,454.8 178,454.5 180,454.8 182,454.4 184,454.4 184.3,453.2 184.5,450.9 184.8,449.3 185,447.7 185.3,446.9 185.5,446 185.8,445.3 186,444.3 186.3,443.8 186.5,443.8 186.8,443.2 187,443.4 187.3,443.2 187.5,443.3 187.8,443.2 188,443 188.3,443.1 188.5,443 188.8,442.9 189,442.8 189.3,443.2 189.5,443.3 189.8,443.3 190,443.4 190.3,443.4 191.1,444 191.9,444 192.7,444.2 193.5,445 194.3,445.3 195.1,445.7 195.9,446.1 196.7,446 197.5,446.2 198.3,446.7 199.1,447 199.9,447.2 200.7,447.7 201.5,447.7 202.3,448.4 203.1,448.2 203.9,448.5 204.7,449 205.5,448.9 206.3,449.4 207.1,449.4 207.9,449.7 208.7,449.9 209.5,450 210.3,450.5 211.1,450.8 211.9,451 212.7,450.7 213.5,450.8 214.3,451.2 216.3,451.8 218.3,452.1 220.3,452.7 222.3,453.1 224.3,453.2 226.3,453.3 228.3,453.7 230.3,453.7 232.3,454.2 234.3,454.6 236.3,454.6 238.3,454.7 240.3,455.1 242.3,455.5 244.3,455.5 246.3,455.3 248.3,455.7 250.3,455.7 252.3,456.2 254.3,456 256.3,456.2 258.3,456.5 260.3,456.3 262.3,456.5 264.3,456.9 266.3,456.5 268.3,456.7 270.3,456.9 272.3,456.8 274.3,457 276.3,456.9 278.3,457.2 280.3,457.1 282.3,457.3 284.3,457.2 286.3,457.3 288.3,457.2 290.3,457.1 292.3,457.2 294.3,457.2 296.3,457.1 298.3,457.6 300.3,457.4 302.3,457.4 304.3,457.6 306.3,457.2 308.3,457.3 310.3,457.7 312.3,457.3 314.3,457.8 316.3,457.6 318.3,457.9 320.3,457.8 322.3,457.6 324.3,457.5 326.3,457.6 328.3,457.8 330.3,457.6 332.3,457.8 334.3,458 336.3,457.8 338.3,457.7 340.3,457.8 342.3,457.7 344.3,457.8 346.3,457.7 348.3,458 350.3,458 352.3,457.8 354.3,457.8 356.3,457.5 358.3,457.8 360.3,458 362.3,457.6 364.3,457.9 366.3,457.6 368.3,457.9 370.3,457.6 372.3,457.8 374.3,457.9 376.3,457.5 378.3,458 380.3,457.8 382.3,491.1 382.5,494.6 382.8,497.1 383,498.8 383.3,499.3 383.5,499.7 383.8,499.8 384,499.9 384.3,499.4 384.5,499.2 384.8,498.6 385,497.7 385.3,497.2 385.5,496.3 385.8,495.8 386,495.1 386.3,494.2 386.5,493.7 386.8,492.7 387,492.5 387.3,491.6 387.5,491.1 388.3,488.9 389.1,486.7 389.9,485.3 390.7,483.5 391.5,481.8 392.3,480.6 393.1,479.3 393.9,478 394.7,476.5 395.5,475.9 396.3,474.9 397.1,473.6 397.9,473.1 398.7,472.3 399.5,471.2 400.3,470.4 401.1,469.8 401.9,469.3 402.7,468.5 403.5,468.1 404.3,467.9 405.1,467 405.9,466.9 406.7,466.4 407.5,466.2" stroke-width="2" />
<polyline points="114,460.4 116,460.5 118,460.3 118.2,457.2 118.5,455.5 118.8,453.5 119,452.1 119.2,451.5 119.5,450.5 119.8,450.1 120,449.5 120.2,449.5 120.5,449.6 120.8,449.5 121,449.5 121.2,449.7 121.5,449.3 121.8,449.3 122,449.5 122.2,449.9 122.5,450 122.8,450.1 123,450.4 123.2,450.3 123.5,450.7 123.8,450.7 124,450.7 124.8,451.5 125.6,451.5 126.4,452.2 127.2,452.5 128,452.6 128.8,452.9 129.6,452.9 130.4,453.1 131.2,453.6 132,453.5 132.8,453.8 133.6,453.8 134.4,453.8 135.2,453.8 136,454.2 136.8,454.1 137.6,454 138.4,454.5 139.2,454.1 140,454.2 140.8,454.2 141.6,454.4 142.4,454.6 143.2,454.2 144,454.7 144.8,454.6 145.6,454.7 146.4,454.5 147.2,454.5 148,454.3 150,454.4 152,454.8 154,454.4 156,454.8 158,454.8 160,454.8 162,454.4 164,454.5 166,454.8 168,454.5 170,454.4 172,454.3 174,454.6 176,454.6 178,454.4 180,454.5 182,454.7 184,454.4 184.3,451.2 184.5,446.1 184.8,441.5 185,437.8 185.3,435.1 185.5,432.4 185.8,430.2 186,428.8 186.3,427.3 186.5,425.9 186.8,424.9 187,424.3 187.3,423.8 187.5,422.9 187.8,422.5 188,421.9 188.3,421.7 188.5,421.5 188.8,421.2 189,421.2 189.3,421 189.5,420.6 189.8,420.5 190,420.6 190.3,420.4 191.1,420.6 191.9,420.6 192.7,420.6 193.5,420.8 194.3,420.7 195.1,420.9 195.9,420.6 196.7,421.1 197.5,421.3 198.3,421.1 199.1,421.4 199.9,421.3 200.7,421.3 201.5,421.2 202.3,421.5 203.1,421.7 203.9,421.9 204.7,422 205.5,421.9 206.3,422.2 207.1,422 207.9,421.8 208.7,422.2 209.5,422.3 210.3,422.5 211.1,422.3 211.9,422.3 212.7,422.8 213.5,422.5 214.3,423 216.3,423 218.3,423 220.3,423.4 222.3,423.8 224.3,423.6 226.3,424.3 228.3,423.9 230.3,424.2 232.3,424.6 234.3,424.9 236.3,425 238.3,425.4 240.3,425.1 242.3,425.2 244.3,425.7 246.3,425.8 248.3,426 250.3,426.2 252.3,426.6 254.3,426.5 256.3,426.9 258.3,427 260.3,427 262.3,427.5 264.3,427.3 266.3,427.5 268.3,427.6 270.3,428.1 272.3,428.2 274.3,428.2 276.3,428.2 278.3,428.7 280.3,428.7 282.3,429 284.3,429.2 286.3,428.9 288.3,429.1 290.3,429.7 292.3,429.9 294.3,429.6 296.3,429.8 298.3,430.1 300.3,430.5 302.3,430.3 304.3,430.9 306.3,430.5 308.3,431.1 310.3,430.8 312.3,431.2 314.3,431.6 316.3,431.6 318.3,431.8 320.3,431.6 322.3,432.1 324.3,432.2 326.3,432 328.3,432.4 330.3,432.7 332.3,432.4 334.3,432.6 336.3,433 338.3,433 340.3,433.3 342.3,433.1 344.3,433.3 346.3,433.2 348.3,433.4 350.3,433.9 352.3,433.6 354.3,434.1 356.3,434.2 358.3,434.2 360.3,434.1 362.3,434.1 364.3,434.3 366.3,434.8 368.3,435 370.3,435.1 372.3,434.8 374.3,435.3 376.3,435.1 378.3,435.2 380.3,435.6 382.3,505.4 382.5,513.2 382.8,518.3 383,521.9 383.3,524.3 383.5,525.7 383.8,526.4 384,526.7 384.3,526.4 384.5,525.8 384.8,525.5 385,524.3 385.3,523.1 385.5,522.1 385.8,521.4 386,520 386.3,519.2 386.5,517.7 386.8,516.9 387,515.9 387.3,514.7 387.5,513.5 388.3,510.5 389.1,507.5 389.9,504.4 390.7,501.7 391.5,499.1 392.3,496.4 393.1,494.2 393.9,492 394.7,490.2 395.5,488 396.3,486.3 397.1,484.8 397.9,483.4 398.7,482.2 399.5,480.5 400.3,479 401.1,478.1 401.9,477.3 402.7,475.8 403.5,475.1 404.3,474.3 405.1,473.6 405.9,472.5 406.7,471.9 407.5,471.5" stroke-width="2" />
<polyline points="114,460.8 116,460.5 118,460.4 118.2,457.6 118.5,455.4 118.8,453.6 119,452.3 119.2,451.2 119.5,450.7 119.8,450 120,449.6 120.2,449.3 120.5,449.4 120.8,449.1 121,449.2 121.2,449.3 121.5,449.4 121.8,449.5 122,450 122.2,449.9 122.5,450 122.8,450.1 123,450.3 123.2,450.6 123.5,450.6 123.8,450.7 124,450.8 124.8,451.1 125.6,451.5 126.4,451.8 127.2,452.3 128,452.4 128.8,452.8 129.6,453.2 130.4,453.1 131.2,453.6 132,453.6 132.8,453.8 133.6,453.8 134.4,454.1 135.2,454.1 136,453.9 136.8,454.2 137.6,454.1 138.4,454.4 139.2,454.2 140,454.2 140.8,454.1 141.6,454.7 142.4,454.2 143.2,454.3 144,454.7 144.8,454.2 145.6,454.4 146.4,454.5 147.2,454.6 148,454.7 150,454.8 152,454.5 154,454.3 156,454.4 158,454.3 160,454.5 162,454.7 164,454.8 166,454.4 168,454.5 170,454.8 172,454.7 174,454.5 176,454.3 178,454.3 180,454.4 182,454.7 184,454.3 184.3,449.7 184.5,442.8 184.8,436.4 185,431.7 185.3,427.6 185.5,424.3 185.8,421.5 186,419 186.3,416.9 186.5,415.1 186.8,413.9 187,412.6 187.3,411.9 187.5,410.9 187.8,410.2 188,409.7 188.3,409.1 188.5,408.7 188.8,408.5 189,408.2 189.3,408.2 189.5,407.6 189.8,407.6 190,407.7 190.3,407.5 191.1,407.1 191.9,406.9 192.7,406.8 193.5,406.9 194.3,406.9 195.1,406.9 195.9,406.8 196.7,407 197.5,407.1 198.3,406.8 199.1,407.2 199.9,407.3 200.7,407 201.5,407 202.3,406.9 203.1,407.2 203.9,407.4 204.7,407.3 205.5,407.4 206.3,407.4 207.1,407.1 207.9,407.2 208.7,407.5 209.5,407.7 210.3,407.6 211.1,407.5 211.9,407.4 212.7,407.4 213.5,407.7 214.3,407.8 216.3,407.7 218.3,407.6 220.3,407.8 222.3,408.1 224.3,408.2 226.3,408.1 228.3,408.4 230.3,408.2 232.3,408.1 234.3,408.2 236.3,408.7 238.3,408.7 240.3,408.4 242.3,408.6 244.3,408.7 246.3,408.8 248.3,408.6 250.3,409.2 252.3,409.1 254.3,409 256.3,408.9 258.3,409.3 260.3,409.6 262.3,409.5 264.3,409.7 266.3,409.7 268.3,409.7 270.3,409.4 272.3,409.6 274.3,409.8 276.3,409.8 278.3,409.7 280.3,409.7 282.3,410.2 284.3,410.2 286.3,410 288.3,410.2 290.3,410.5 292.3,410.1 294.3,410.5 296.3,410.3 298.3,410.8 300.3,410.8 302.3,410.9 304.3,410.6 306.3,410.8 308.3,410.7 310.3,410.8 312.3,411.2 314.3,411.3 316.3,411.4 318.3,411.4 320.3,411.2 322.3,411.3 324.3,411.5 326.3,411.3 328.3,411.7 330.3,411.6 332.3,411.4 334.3,411.5 336.3,411.7 338.3,411.5 340.3,411.6 342.3,411.6 344.3,411.6 346.3,412.1 348.3,412.3 350.3,412.2 352.3,412.1 354.3,412.3 356.3,412.3 358.3,412.2 360.3,412.3 362.3,412.1 364.3,412.2 366.3,412.3 368.3,412.4 370.3,412.6 372.3,412.4 374.3,412.5 376.3,412.9 378.3,412.9 380.3,413 382.3,509.3 382.5,520.2 382.8,528.4 383,534.2 383.3,538.1 383.5,540.3 383.8,542 384,542.8 384.3,542.7 384.5,542.7 384.8,542.5 385,541.8 385.3,540.9 385.5,540 385.8,539 386,537.8 386.3,536.5 386.5,535.8 386.8,534.7 387,533.3 387.3,532.4 387.5,531.3 388.3,527.6 389.1,524.3 389.9,521.1 390.7,517.5 391.5,515.1 392.3,512 393.1,509.6 393.9,507.1 394.7,504.3 395.5,502.4 396.3,499.9 397.1,498.3 397.9,496.1 398.7,494.4 399.5,492.6 400.3,491.3 401.1,489.6 401.9,487.9 402.7,486.8 403.5,485.2 404.3,484.3 405.1,483 405.9,482 406.7,480.8 407.5,480" stroke-width="2" />
<polyline points="114,460.6 116,460.5 118,460.6 118.2,457.6 118.5,455.1 118.8,453.4 119,452.4 119.2,451.5 119.5,450.8 119.8,450.2 120,449.7 120.2,449.5 120.5,449.5 120.8,449.4 121,449.6 121.2,449.6 121.5,449.4 121.8,449.5 122,449.4 122.2,450 122.5,449.9 122.8,450.1 123,450 123.2,450.4 123.5,450.8 123.8,450.6 124,451 124.8,451.5 125.6,451.8 126.4,452.1 127.2,452.2 128,452.8 128.8,452.9 129.6,453.4 130.4,453.3 131.2,453.4 132,453.8 132.8,453.8 133.6,453.7 134.4,454 135.2,453.8 136,453.9 136.8,454.4 137.6,454.2 138.4,454.4 139.2,454.1 140,454.3 140.8,454.2 141.6,454.6 142.4,454.5 143.2,454.4 144,454.4 144.8,454.3 145.6,454.3 146.4,454.6 147.2,454.4 148,454.3 150,454.5 152,454.5 154,454.9 156,454.5 158,454.5 160,454.9 162,454.7 164,454.6 166,454.5 168,454.4 170,454.4 172,454.6 174,454.7 176,454.4 178,454.6 180,454.4 182,454.7 184,454.5 184.3,451.2 184.5,445.9 184.8,440.9 185,436.8 185.3,432.9 185.5,429.8 185.8,427.2 186,424.7 186.3,422.1 186.5,420.7 186.8,418.9 187,417 187.3,415.8 187.5,414.7 187.8,413.4 188,412.5 188.3,411.9 188.5,411.1 188.8,410.4 189,409.9 189.3,409.2 189.5,408.9 189.8,408.5 190,408 190.3,408 191.1,407.3 191.9,406.7 192.7,406.4 193.5,406.3 194.3,406 195.1,406.2 195.9,405.7 196.7,405.6 197.5,405.9 198.3,405.9 199.1,405.7 199.9,405.8 200.7,405.7 201.5,405.7 202.3,406 203.1,406.1 203.9,405.7 204.7,405.9 205.5,405.8 206.3,405.7 207.1,406 207.9,405.9 208.7,406.2 209.5,406.2 210.3,406.2 211.1,405.8 211.9,405.7 212.7,406.1 213.5,405.7 214.3,406.1 216.3,405.8 218.3,406.1 220.3,405.8 222.3,405.8 224.3,406.3 226.3,406.1 228.3,406.1 230.3,406.4 232.3,406.3 234.3,406 236.3,406.3 238.3,406.1 240.3,406.2 242.3,406.1 244.3,406.1 246.3,406.2 248.3,406.2 250.3,406.1 252.3,406.6 254.3,406.3 256.3,406.4 258.3,406.6 260.3,406.5 262.3,406.2 264.3,406.7 266.3,406.7 268.3,406.7 270.3,406.4 272.3,406.7 274.3,406.6 276.3,406.3 278.3,406.5 280.3,406.7 282.3,406.6 284.3,406.9 286.3,406.8 288.3,406.9 290.3,407 292.3,406.6 294.3,406.9 296.3,406.4 298.3,406.9 300.3,406.5 302.3,406.8 304.3,406.7 306.3,406.5 308.3,406.9 310.3,407 312.3,406.7 314.3,406.7 316.3,407 318.3,406.9 320.3,406.6 322.3,406.8 324.3,407.2 326.3,406.8 328.3,406.8 330.3,406.9 332.3,407.2 334.3,407.2 336.3,406.9 338.3,407.1 340.3,406.7 342.3,406.8 344.3,407 346.3,407.1 348.3,406.8 350.3,406.8 352.3,407.3 354.3,406.9 356.3,406.8 358.3,406.9 360.3,406.9 362.3,407 364.3,407.2 366.3,407.2 368.3,407 370.3,407.2 372.3,407.1 374.3,407.2 376.3,407 378.3,407.3 380.3,406.9 382.3,511.1 382.5,522.9 382.8,532 383,538.1 383.3,542.6 383.5,545.4 383.8,547.5 384,548.6 384.3,549.1 384.5,549.2 384.8,548.6 385,548.2 385.3,547.3 385.5,546.4 385.8,545.6 386,544.9 386.3,543.3 386.5,542.7 386.8,541.3 387,540.4 387.3,539.1 387.5,538.3 388.3,534.7 389.1,531.2 389.9,528.1 390.7,524.8 391.5,521.9 392.3,519.6 393.1,516.4 393.9,514.1 394.7,511.8 395.5,509.1 396.3,507.4 397.1,504.9 397.9,503.3 398.7,501.1 399.5,499.4 400.3,497.6 401.1,495.6 401.9,494.3 402.7,492.9 403.5,491.5 404.3,490.1 405.1,488.7 405.9,487.2 406.7,486.1 407.5,485" stroke-width="2.8" />
<polyline points="114,460.2 116,460.7 118,460.3 118.2,457.6 118.5,455.1 118.8,453.3 119,452.5 119.2,451.3 119.5,450.7 119.8,450.1 120,449.8 120.2,449.7 120.5,449.1 120.8,449.3 121,449.2 121.2,449.5 121.5,449.4 121.8,449.8 122,449.6 122.2,449.7 122.5,450.2 122.8,450.3 123,450.2 123.2,450.4 123.5,450.7 123.8,450.5 124,451 124.8,451.2 125.6,451.9 126.4,451.8 127.2,452.6 128,452.9 128.8,452.6 129.6,452.9 130.4,453.5 131.2,453.7 132,453.5 132.8,453.9 133.6,453.9 134.4,453.8 135.2,454.1 136,454 136.8,453.9 137.6,454.4 138.4,454.4 139.2,454.1 140,454.3 140.8,454.5 141.6,454.3 142.4,454.3 143.2,454.5 144,454.7 144.8,454.2 145.6,454.3 146.4,454.5 147.2,454.8 148,454.8 150,454.3 152,454.6 154,454.4 156,454.4 158,454.4 160,454.6 162,454.9 164,454.9 166,454.5 168,454.8 170,454.7 172,454.3 174,454.8 176,454.5 178,454.9 180,454.4 182,454.8 184,454.6 184.3,450.9 184.5,445.2 184.8,440.7 185,436.7 185.3,432.9 185.5,430 185.8,427 186,424.9 186.3,422.3 186.5,420.9 186.8,419.2 187,418 187.3,416.5 187.5,415.6 187.8,414.9 188,413.8 188.3,413.1 188.5,412.8 188.8,412.2 189,411.7 189.3,411 189.5,411.1 189.8,410.6 190,410.2 190.3,410.1 191.1,409.4 191.9,409.5 192.7,409.3 193.5,409.2 194.3,409 195.1,408.6 195.9,408.7 196.7,409.1 197.5,408.5 198.3,408.7 199.1,408.5 199.9,408.6 200.7,408.6 201.5,408.8 202.3,408.5 203.1,409 203.9,408.7 204.7,408.6 205.5,408.6 206.3,408.8 207.1,408.7 207.9,408.8 208.7,408.6 209.5,408.8 210.3,408.8 211.1,408.6 211.9,408.9 212.7,409.1 213.5,408.9 214.3,408.7 216.3,409 218.3,408.7 220.3,408.7 222.3,408.7 224.3,409 226.3,408.8 228.3,408.9 230.3,408.8 232.3,409.3 234.3,408.8 236.3,409.2 238.3,409.3 240.3,409.1 242.3,409.2 244.3,409 246.3,409.3 248.3,409.3 250.3,408.9 252.3,409.3 254.3,409 256.3,409.2 258.3,409 260.3,409.2 262.3,409.3 264.3,409.4 266.3,409.2 268.3,409 270.3,409.3 272.3,409.6 274.3,409.4 276.3,409.4 278.3,409.5 280.3,409.4 282.3,409.6 284.3,409.7 286.3,409.5 288.3,409.6 290.3,409.2 292.3,409.3 294.3,409.6 296.3,409.5 298.3,409.7 300.3,409.6 302.3,409.4 304.3,409.3 306.3,409.6 308.3,409.3 310.3,409.5 312.3,409.4 314.3,409.5 316.3,409.7 318.3,409.7 320.3,409.7 322.3,409.3 324.3,409.8 326.3,409.7 328.3,409.9 330.3,409.7 332.3,409.7 334.3,409.9 336.3,409.8 338.3,409.8 340.3,409.4 342.3,409.4 344.3,409.8 346.3,409.9 348.3,409.7 350.3,409.6 352.3,409.7 354.3,410 356.3,409.9 358.3,409.5 360.3,409.6 362.3,409.6 364.3,409.9 366.3,409.6 368.3,410 370.3,409.8 372.3,409.6 374.3,409.8 376.3,409.6 378.3,410.1 380.3,409.6 382.3,512.3 382.5,524.3 382.8,532.8 383,539.1 383.3,543.8 383.5,546.6 383.8,548.1 384,549.3 384.3,549.7 384.5,549.7 384.8,549.2 385,548.5 385.3,547.7 385.5,546.9 385.8,545.9 386,545.1 386.3,543.5 386.5,542.8 386.8,541.6 387,540.3 387.3,539.4 387.5,537.9 388.3,534.4 389.1,531.1 389.9,528.1 390.7,524.5 391.5,521.9 392.3,518.9 393.1,516.3 393.9,513.4 394.7,511.1 395.5,508.9 396.3,506.6 397.1,504.4 397.9,502.5 398.7,500.4 399.5,498.5 400.3,496.5 401.1,495 401.9,493.7 402.7,492.2 403.5,490.2 404.3,489 405.1,487.6 405.9,486.7 406.7,485.1 407.5,484.3" stroke-width="2" />
<polyline points="114,460.3 116,460.4 118,460.8 118.2,457.3 118.5,455.3 118.8,453.4 119,452.4 119.2,451 119.5,450.7 119.8,449.9 120,450 120.2,449.4 120.5,449.5 120.8,449.1 121,449.6 121.2,449.5 121.5,449.7 121.8,449.7 122,449.4 122.2,450 122.5,449.9 122.8,450 123,450.5 123.2,450.5 123.5,450.5 123.8,450.5 124,451 124.8,451.1 125.6,451.6 126.4,451.8 127.2,452.2 128,452.8 128.8,452.8 129.6,453.4 130.4,453.2 131.2,453.6 132,453.7 132.8,453.8 133.6,453.9 134.4,453.7 135.2,454.2 136,454.3 136.8,454.2 137.6,454 138.4,454 139.2,454.2 140,454.6 140.8,454.3 141.6,454.3 142.4,454.4 143.2,454.2 144,454.6 144.8,454.6 145.6,454.4 146.4,454.2 147.2,454.8 148,454.7 150,454.7 152,454.4 154,454.8 156,454.7 158,454.3 160,454.9 162,454.7 164,454.4 166,454.8 168,454.7 170,454.7 172,454.3 174,454.4 176,454.8 178,454.3 180,454.4 182,454.3 184,454.6 184.3,450.4 184.5,445 184.8,440 185,436.2 185.3,432.9 185.5,430.1 185.8,427.3 186,425.4 186.3,424 186.5,422.4 186.8,421.6 187,420.3 187.3,419.6 187.5,418.7 187.8,418.4 188,417.7 188.3,417.4 188.5,417.3 188.8,417 189,416.4 189.3,416.2 189.5,416.1 189.8,416.3 190,416.1 190.3,416.1 191.1,415.9 191.9,415.4 192.7,415.5 193.5,415.2 194.3,415.4 195.1,415.5 195.9,415.3 196.7,415.7 197.5,415.3 198.3,415.4 199.1,415.6 199.9,415.3 200.7,415.6 201.5,415.4 202.3,415.2 203.1,415.3 203.9,415.6 204.7,415.7 205.5,415.6 206.3,415.7 207.1,415.6 207.9,415.7 208.7,415.7 209.5,415.6 210.3,415.6 211.1,415.3 211.9,415.4 212.7,415.3 213.5,415.3 214.3,415.5 216.3,415.5 218.3,415.6 220.3,415.8 222.3,415.5 224.3,415.9 226.3,415.8 228.3,415.5 230.3,415.7 232.3,415.5 234.3,415.4 236.3,415.5 238.3,415.5 240.3,415.4 242.3,415.4 244.3,415.9 246.3,415.9 248.3,415.9 250.3,415.5 252.3,415.5 254.3,416 256.3,415.7 258.3,415.7 260.3,415.9 262.3,415.8 264.3,415.7 266.3,415.6 268.3,415.6 270.3,415.9 272.3,416.1 274.3,415.6 276.3,415.7 278.3,415.9 280.3,415.7 282.3,415.9 284.3,415.9 286.3,415.7 288.3,415.7 290.3,415.8 292.3,416.1 294.3,415.7 296.3,415.9 298.3,416.1 300.3,416 302.3,415.8 304.3,416.2 306.3,416.1 308.3,416.3 310.3,415.8 312.3,416 314.3,415.9 316.3,416.2 318.3,416.1 320.3,416 322.3,416 324.3,416.2 326.3,415.9 328.3,415.8 330.3,415.8 332.3,415.9 334.3,415.8 336.3,416.3 338.3,416.1 340.3,416.2 342.3,416 344.3,416.1 346.3,415.9 348.3,416.3 350.3,416 352.3,416 354.3,416.2 356.3,416.3 358.3,416.4 360.3,416.1 362.3,416.1 364.3,416.3 366.3,416.1 368.3,415.9 370.3,416.1 372.3,416 374.3,416 376.3,416.3 378.3,416.1 380.3,416.2 382.3,514.1 382.5,525.5 382.8,534.1 383,539.9 383.3,543.8 383.5,546.4 383.8,547.7 384,548.7 384.3,549.2 384.5,549 384.8,548.5 385,547.8 385.3,546.7 385.5,545.7 385.8,545.2 386,543.6 386.3,542.6 386.5,541.6 386.8,540.6 387,539.4 387.3,538.4 387.5,537.3 388.3,533.2 389.1,529.7 389.9,526.3 390.7,523.3 391.5,520.1 392.3,517.7 393.1,514.8 393.9,512.1 394.7,509.4 395.5,507.5 396.3,504.9 397.1,503.1 397.9,500.7 398.7,498.8 399.5,496.9 400.3,495.4 401.1,493.6 401.9,492.2 402.7,490.8 403.5,489 404.3,487.6 405.1,486.5 405.9,485.2 406.7,484.1 407.5,482.9" stroke-width="2" />
<polyline points="114,460.3 116,460.3 118,460.6 118.2,457.6 118.5,455.4 118.8,453.6 119,452.2 119.2,451.1 119.5,450.8 119.8,450.1 120,449.7 120.2,449.4 120.5,449.3 120.8,449.6 121,449.3 121.2,449.6 121.5,449.3 121.8,449.7 122,449.6 122.2,449.7 122.5,449.9 122.8,450.1 123,450.4 123.2,450.4 123.5,450.8 123.8,450.5 124,451.1 124.8,451.3 125.6,451.9 126.4,452 127.2,452.2 128,452.9 128.8,453 129.6,453.2 130.4,453.3 131.2,453.6 132,453.9 132.8,453.9 133.6,454.1 134.4,453.8 135.2,453.9 136,454.3 136.8,454.4 137.6,454.4 138.4,454.2 139.2,454.2 140,454.6 140.8,454.2 141.6,454.2 142.4,454.2 143.2,454.3 144,454.4 144.8,454.4 145.6,454.5 146.4,454.2 147.2,454.4 148,454.5 150,454.3 152,454.6 154,454.8 156,454.7 158,454.9 160,454.8 162,454.6 164,454.3 166,454.3 168,454.6 170,454.8 172,454.5 174,454.4 176,454.8 178,454.6 180,454.6 182,454.4 184,454.6 184.3,451.8 184.5,447.9 184.8,444.6 185,441.3 185.3,439.3 185.5,437 185.8,435.4 186,434 186.3,433.1 186.5,431.9 186.8,430.9 187,430.5 187.3,429.7 187.5,429.2 187.8,428.8 188,428.6 188.3,428.4 188.5,427.9 188.8,427.8 189,428.1 189.3,427.7 189.5,427.9 189.8,427.5 190,427.7 190.3,427.5 191.1,427.2 191.9,426.9 192.7,426.9 193.5,427.2 194.3,427.2 195.1,426.9 195.9,426.8 196.7,427.1 197.5,427.3 198.3,426.9 199.1,427.4 199.9,427.1 200.7,426.9 201.5,426.9 202.3,427.2 203.1,427.3 203.9,426.9 204.7,426.9 205.5,426.9 206.3,426.9 207.1,426.9 207.9,427 208.7,426.9 209.5,427.2 210.3,426.9 211.1,427 211.9,427.1 212.7,426.9 213.5,426.8 214.3,426.9 216.3,426.8 218.3,427.2 220.3,426.9 222.3,427.1 224.3,427.4 226.3,427.2 228.3,427 230.3,427.1 232.3,427.1 234.3,427.1 236.3,426.9 238.3,427 240.3,427 242.3,427 244.3,427.1 246.3,427 248.3,427.3 250.3,427 252.3,427.2 254.3,427.4 256.3,427.2 258.3,427.4 260.3,427.4 262.3,427.2 264.3,427.1 266.3,427 268.3,427.4 270.3,427.2 272.3,427.2 274.3,427 276.3,427.1 278.3,427.5 280.3,427.3 282.3,427.5 284.3,427.5 286.3,427.2 288.3,427.2 290.3,427.6 292.3,427.2 294.3,427.4 296.3,427.6 298.3,427.3 300.3,427.3 302.3,427.6 304.3,427.6 306.3,427.6 308.3,427.5 310.3,427.2 312.3,427.1 314.3,427.1 316.3,427.6 318.3,427.4 320.3,427.6 322.3,427.7 324.3,427.2 326.3,427.7 328.3,427.3 330.3,427.2 332.3,427.3 334.3,427.7 336.3,427.7 338.3,427.3 340.3,427.4 342.3,427.6 344.3,427.6 346.3,427.7 348.3,427.4 350.3,427.3 352.3,427.5 354.3,427.7 356.3,427.5 358.3,427.7 360.3,427.3 362.3,427.5 364.3,427.7 366.3,427.5 368.3,427.7 370.3,427.7 372.3,427.5 374.3,427.6 376.3,427.6 378.3,427.5 380.3,427.5 382.3,517.9 382.5,528.4 382.8,535.9 383,540.7 383.3,544.4 383.5,546.5 383.8,548 384,548.2 384.3,548.5 384.5,548.1 384.8,547.8 385,547 385.3,545.7 385.5,544.8 385.8,543.7 386,542.8 386.3,541.8 386.5,540.4 386.8,539 387,538.1 387.3,537 387.5,535.7 388.3,531.9 389.1,528.4 389.9,525 390.7,522.1 391.5,518.8 392.3,516.1 393.1,513.3 393.9,510.5 394.7,508 395.5,505.9 396.3,503.8 397.1,501.7 397.9,499.2 398.7,497.3 399.5,495.4 400.3,493.8 401.1,492.2 401.9,490.9 402.7,489.5 403.5,487.9 404.3,486.3 405.1,485.2 405.9,483.8 406.7,482.8 407.5,481.9" stroke-width="2" />
<polyline points="114,460.5 116,460.3 118,460.4 118.2,457.8 118.5,455.3 118.8,453.6 119,452.1 119.2,451.2 119.5,450.7 119.8,449.8 120,449.8 120.2,449.8 120.5,449.5 120.8,449.1 121,449.1 121.2,449.6 121.5,449.3 121.8,449.5 122,449.8 122.2,450 122.5,449.9 122.8,450.2 123,450.5 123.2,450.4 123.5,450.5 123.8,450.8 124,451.1 124.8,451.4 125.6,452 126.4,452.2 127.2,452.7 128,452.5 128.8,453 129.6,452.9 130.4,453.1 131.2,453.4 132,453.9 132.8,453.6 133.6,453.7 134.4,454.2 135.2,454.3 136,454.2 136.8,454.1 137.6,454.4 138.4,454 139.2,454 140,454.1 140.8,454.3 141.6,454.2 142.4,454.6 143.2,454.4 144,454.7 144.8,454.5 145.6,454.4 146.4,454.4 147.2,454.2 148,454.5 150,454.8 152,454.8 154,454.8 156,454.3 158,454.6 160,454.8 162,454.4 164,454.3 166,454.4 168,454.3 170,454.7 172,454.7 174,454.9 176,454.3 178,454.7 180,454.8 182,454.4 184,454.3 184.3,452.6 184.5,449.2 184.8,446.1 185,443.8 185.3,442.2 185.5,440.3 185.8,439.1 186,437.8 186.3,436.9 186.5,436.3 186.8,435.7 187,435.3 187.3,434.4 187.5,434.2 187.8,433.7 188,433.7 188.3,433.3 188.5,433.2 188.8,433.4 189,433.1 189.3,433 189.5,432.9 189.8,432.5 190,432.8 190.3,432.9 191.1,432.2 191.9,432.6 192.7,432.3 193.5,432.2 194.3,432.4 195.1,432.6 195.9,432.1 196.7,432.2 197.5,432.3 198.3,432.2 199.1,432.4 199.9,432.6 200.7,432.1 201.5,432.3 202.3,432.2 203.1,432.2 203.9,432.4 204.7,432.6 205.5,432.4 206.3,432.4 207.1,432.5 207.9,432.6 208.7,432.7 209.5,432.3 210.3,432.2 211.1,432.6 211.9,432.5 212.7,432.6 213.5,432.2 214.3,432.6 216.3,432.2 218.3,432.2 220.3,432.2 222.3,432.3 224.3,432.4 226.3,432.5 228.3,432.7 230.3,432.4 232.3,432.5 234.3,432.4 236.3,432.4 238.3,432.3 240.3,432.2 242.3,432.3 244.3,432.6 246.3,432.7 248.3,432.6 250.3,432.5 252.3,432.4 254.3,432.3 256.3,432.4 258.3,432.8 260.3,432.6 262.3,432.5 264.3,432.6 266.3,432.5 268.3,432.4 270.3,432.5 272.3,432.5 274.3,432.8 276.3,432.8 278.3,432.4 280.3,432.5 282.3,432.4 284.3,432.8 286.3,432.4 288.3,432.6 290.3,432.3 292.3,432.6 294.3,432.6 296.3,432.3 298.3,432.4 300.3,432.6 302.3,432.6 304.3,432.5 306.3,432.4 308.3,432.5 310.3,432.5 312.3,432.4 314.3,432.7 316.3,432.5 318.3,432.7 320.3,432.8 322.3,432.4 324.3,432.7 326.3,432.7 328.3,432.9 330.3,432.8 332.3,432.9 334.3,432.8 336.3,432.5 338.3,432.9 340.3,432.8 342.3,432.7 344.3,432.9 346.3,432.4 348.3,432.9 350.3,432.6 352.3,432.7 354.3,432.9 356.3,432.5 358.3,432.7 360.3,432.4 362.3,432.4 364.3,433 366.3,432.6 368.3,432.7 370.3,432.5 372.3,433 374.3,432.7 376.3,432.9 378.3,432.6 380.3,432.7 382.3,519.1 382.5,529.3 382.8,536.4 383,541.1 383.3,544.4 383.5,546.2 383.8,547.7 384,547.7 384.3,547.7 384.5,547.7 384.8,547.2 385,546.3 385.3,545 385.5,544.4 385.8,543 386,541.9 386.3,540.7 386.5,539.5 386.8,538.4 387,537.2 387.3,535.7 387.5,534.8 388.3,530.7 389.1,527.4 389.9,523.6 390.7,520.7 391.5,517.4 392.3,514.9 393.1,511.9 393.9,509.1 394.7,507 395.5,504.1 396.3,502.3 397.1,500.1 397.9,497.7 398.7,496.1 399.5,494.1 400.3,492.9 401.1,490.7 401.9,489.5 402.7,488 403.5,486.3 404.3,485.5 405.1,484 405.9,482.9 406.7,481.6 407.5,480.4" stroke-width="2" />
<polyline points="114,460.4 116,460.2 118,460.3 118.2,457.5 118.5,455.2 118.8,453.7 119,452 119.2,451.1 119.5,450.6 119.8,450.2 120,449.6 120.2,449.3 120.5,449.2 120.8,449.3 121,449.3 121.2,449.6 121.5,449.3 121.8,449.5 122,449.9 122.2,449.7 122.5,449.7 122.8,450.4 123,450.5 123.2,450.3 123.5,450.5 123.8,450.7 124,450.7 124.8,451.5 125.6,451.9 126.4,452.2 127.2,452.3 128,452.9 128.8,453.2 129.6,452.9 130.4,453.4 131.2,453.3 132,453.9 132.8,453.9 133.6,453.8 134.4,454.1 135.2,453.9 136,453.8 136.8,454.2 137.6,454 138.4,454.2 139.2,454.5 140,454.4 140.8,454.2 141.6,454.2 142.4,454.5 143.2,454.5 144,454.7 144.8,454.3 145.6,454.5 146.4,454.5 147.2,454.4 148,454.3 150,454.5 152,454.6 154,454.4 156,454.5 158,454.6 160,454.9 162,454.6 164,454.5 166,454.3 168,454.6 170,454.5 172,454.4 174,454.6 176,454.7 178,454.5 180,454.7 182,454.7 184,454.3 184.3,453.1 184.5,451.5 184.8,450.1 185,448.8 185.3,447.5 185.5,446.7 185.8,446.1 186,445.3 186.3,444.9 186.5,444.3 186.8,444.2 187,443.8 187.3,443.2 187.5,443.5 187.8,443.3 188,443.3 188.3,443.1 188.5,442.9 188.8,442.6 189,442.4 189.3,442.7 189.5,442.4 189.8,442.3 190,442.2 190.3,442.4 191.1,442.4 191.9,442.4 192.7,442 193.5,442.1 194.3,442.3 195.1,442 195.9,442.5 196.7,442.5 197.5,442.3 198.3,442.1 199.1,442.3 199.9,442.4 200.7,442.2 201.5,442.3 202.3,442.3 203.1,442.5 203.9,442.4 204.7,442.4 205.5,442.3 206.3,442.5 207.1,442.3 207.9,442.4 208.7,442.2 209.5,442 210.3,442.3 211.1,442.1 211.9,442.6 212.7,442.1 213.5,442.5 214.3,442.2 216.3,442.1 218.3,442.3 220.3,442.2 222.3,442.6 224.3,442.4 226.3,442.1 228.3,442.2 230.3,442.1 232.3,442.3 234.3,442.3 236.3,442.2 238.3,442.4 240.3,442.3 242.3,442.5 244.3,442.5 246.3,442.2 248.3,442.6 250.3,442.1 252.3,442.2 254.3,442.1 256.3,442.7 258.3,442.4 260.3,442.6 262.3,442.7 264.3,442.2 266.3,442.6 268.3,442.1 270.3,442.5 272.3,442.6 274.3,442.3 276.3,442.7 278.3,442.6 280.3,442.4 282.3,442.3 284.3,442.2 286.3,442.2 288.3,442.5 290.3,442.5 292.3,442.3 294.3,442.5 296.3,442.2 298.3,442.3 300.3,442.6 302.3,442.3 304.3,442.5 306.3,442.3 308.3,442.7 310.3,442.3 312.3,442.7 314.3,442.7 316.3,442.8 318.3,442.4 320.3,442.6 322.3,442.2 324.3,442.8 326.3,442.6 328.3,442.2 330.3,442.3 332.3,442.3 334.3,442.4 336.3,442.8 338.3,442.7 340.3,442.4 342.3,442.7 344.3,442.2 346.3,442.6 348.3,442.5 350.3,442.3 352.3,442.8 354.3,442.6 356.3,442.8 358.3,442.6 360.3,442.6 362.3,442.3 364.3,442.5 366.3,442.8 368.3,442.6 370.3,442.6 372.3,442.5 374.3,442.5 376.3,442.3 378.3,442.4 380.3,442.4 382.3,521.6 382.5,530.6 382.8,537.3 383,541.7 383.3,544.3 383.5,546.1 383.8,546.6 384,547.2 384.3,546.8 384.5,546.5 384.8,545.4 385,544.6 385.3,543.7 385.5,542.4 385.8,541.3 386,540.3 386.3,539.1 386.5,538 386.8,536.6 387,535.2 387.3,534 387.5,532.9 388.3,529.1 389.1,525.7 389.9,522 390.7,519 391.5,515.6 392.3,512.7 393.1,509.7 393.9,507.3 394.7,504.9 395.5,502.3 396.3,500.3 397.1,498 397.9,496.1 398.7,494.6 399.5,492.9 400.3,490.7 401.1,489.4 401.9,487.8 402.7,486.1 403.5,484.9 404.3,483.8 405.1,482.5 405.9,481.5 406.7,480.1 407.5,479.4" stroke-width="2" />
<polyline points="114,460.6 116,460.3 118,460.5 118.2,457.8 118.5,455.5 118.8,453.6 119,452.2 119.2,451.4 119.5,450.5 119.8,450.2 120,449.7 120.2,449.5 120.5,449.5 120.8,449.4 121,449.4 121.2,449.3 121.5,449.4 121.8,449.7 122,449.7 122.2,449.8 122.5,449.9 122.8,450 123,450.4 123.2,450.7 123.5,450.4 123.8,450.8 124,450.9 124.8,451.4 125.6,451.8 126.4,452 127.2,452.1 128,452.6 128.8,452.9 129.6,453.2 130.4,453.6 131.2,453.6 132,453.7 132.8,453.6 133.6,454 134.4,453.7 135.2,454.2 136,454.1 136.8,454.1 137.6,454.3 138.4,454.3 139.2,454.6 140,454.1 140.8,454.1 141.6,454.5 142.4,454.3 143.2,454.3 144,454.8 144.8,454.5 145.6,454.4 146.4,454.4 147.2,454.4 148,454.4 150,454.3 152,454.9 154,454.7 156,454.5 158,454.4 160,454.9 162,454.8 164,454.4 166,454.8 168,454.6 170,454.9 172,454.6 174,454.6 176,454.3 178,454.6 180,454.4 182,454.8 184,454.4 184.3,454 184.5,452.5 184.8,451.8 185,450.9 185.3,450.4 185.5,449.6 185.8,449 186,448.5 186.3,448.2 186.5,447.8 186.8,447.7 187,447.5 187.3,447.6 187.5,447 187.8,447.2 188,447.1 188.3,446.8 188.5,447.1 188.8,446.7 189,447 189.3,446.6 189.5,447 189.8,446.6 190,446.5 190.3,446.5 191.1,446.5 191.9,446.4 192.7,446.5 193.5,446.9 194.3,446.6 195.1,446.6 195.9,446.8 196.7,446.4 197.5,446.4 198.3,446.9 199.1,446.5 199.9,446.4 200.7,446.4 201.5,446.8 202.3,446.9 203.1,446.6 203.9,446.8 204.7,446.6 205.5,446.5 206.3,446.5 207.1,446.6 207.9,446.5 208.7,446.8 209.5,446.4 210.3,446.6 211.1,446.8 211.9,446.4 212.7,446.9 213.5,446.7 214.3,446.8 216.3,446.5 218.3,446.5 220.3,446.9 222.3,447 224.3,446.4 226.3,446.9 228.3,446.5 230.3,446.4 232.3,446.8 234.3,446.5 236.3,446.9 238.3,446.9 240.3,446.6 242.3,446.5 244.3,446.7 246.3,446.9 248.3,446.5 250.3,446.9 252.3,446.5 254.3,446.7 256.3,446.6 258.3,446.5 260.3,446.8 262.3,446.6 264.3,447 266.3,447 268.3,446.9 270.3,446.8 272.3,446.9 274.3,446.7 276.3,446.8 278.3,446.8 280.3,446.7 282.3,446.8 284.3,447 286.3,447.1 288.3,446.9 290.3,447 292.3,446.7 294.3,446.6 296.3,446.6 298.3,446.8 300.3,447 302.3,447 304.3,447.1 306.3,447 308.3,446.7 310.3,446.6 312.3,446.8 314.3,446.7 316.3,447.1 318.3,447.1 320.3,446.9 322.3,447 324.3,447 326.3,446.9 328.3,446.8 330.3,447.1 332.3,447 334.3,446.9 336.3,447.2 338.3,446.7 340.3,447 342.3,446.9 344.3,446.8 346.3,446.7 348.3,446.9 350.3,447.1 352.3,446.7 354.3,447.1 356.3,447.2 358.3,446.7 360.3,446.9 362.3,446.9 364.3,446.8 366.3,446.7 368.3,446.8 370.3,447.2 372.3,447.1 374.3,447.2 376.3,446.9 378.3,446.9 380.3,446.6 382.3,522.3 382.5,530.8 382.8,536.9 383,540.3 383.3,543.2 383.5,544.4 383.8,545.6 384,545.3 384.3,545.3 384.5,544.7 384.8,543.7 385,542.9 385.3,541.8 385.5,540.5 385.8,539.4 386,538 386.3,537.2 386.5,536.1 386.8,534.5 387,533.2 387.3,532 387.5,530.6 388.3,527.1 389.1,523.5 389.9,519.7 390.7,516.6 391.5,513.4 392.3,510.8 393.1,507.7 393.9,505.6 394.7,502.7 395.5,500.8 396.3,498.2 397.1,496.4 397.9,494.5 398.7,492.8 399.5,491.1 400.3,489 401.1,487.8 401.9,486.1 402.7,484.6 403.5,483.5 404.3,482.5 405.1,480.8 405.9,480.1 406.7,479 407.5,478.2" stroke-width="2" />
<polyline points="114,460.5 116,460.3 118,460.7 118.2,457.3 118.5,455.4 118.8,453.4 119,452 119.2,451.1 119.5,450.8 119.8,449.9 120,450 120.2,449.3 120.5,449.6 120.8,449.1 121,449.4 121.2,449.4 121.5,449.5 121.8,449.8 122,449.5 122.2,450.1 122.5,450 122.8,450.3 123,450.1 123.2,450.7 123.5,450.7 123.8,450.7 124,450.7 124.8,451.5 125.6,451.8 126.4,452.4 127.2,452.6 128,452.8 128.8,453 129.6,452.9 130.4,453.5 131.2,453.6 132,453.4 132.8,453.5 133.6,453.6 134.4,453.8 135.2,454.2 136,454.2 136.8,454.3 137.6,454.1 138.4,454.5 139.2,454.1 140,454.2 140.8,454.3 141.6,454.3 142.4,454.6 143.2,454.6 144,454.6 144.8,454.4 145.6,454.5 146.4,454.4 147.2,454.6 148,454.5 150,454.3 152,454.8 154,454.8 156,454.7 158,454.3 160,454.4 162,454.7 164,454.8 166,454.7 168,454.9 170,454.6 172,454.4 174,454.6 176,454.5 178,454.5 180,454.8 182,454.5 184,454.7 184.3,454.2 184.5,453.3 184.8,453.1 185,452.9 185.3,452.4 185.5,452.3 185.8,451.9 186,451.9 186.3,451.2 186.5,451.3 186.8,451 187,451.3 187.3,450.9 187.5,451.1 187.8,451 188,450.6 188.3,450.9 188.5,450.7 188.8,450.6 189,450.8 189.3,450.8 189.5,450.5 189.8,450.8 190,450.4 190.3,450.4 191.1,450.9 191.9,450.9 192.7,450.9 193.5,450.9 194.3,450.8 195.1,450.7 195.9,450.6 196.7,450.6 197.5,450.9 198.3,450.9 199.1,450.6 199.9,450.5 200.7,450.7 201.5,450.6 202.3,450.8 203.1,450.9 203.9,450.7 204.7,450.4 205.5,450.7 206.3,450.4 207.1,450.7 207.9,450.8 208.7,450.8 209.5,450.6 210.3,450.4 211.1,450.9 211.9,450.9 212.7,450.6 213.5,450.4 214.3,450.8 216.3,450.6 218.3,450.6 220.3,450.6 222.3,450.5 224.3,450.5 226.3,450.8 228.3,450.7 230.3,450.6 232.3,450.8 234.3,450.7 236.3,450.5 238.3,450.6 240.3,450.7 242.3,450.8 244.3,450.8 246.3,450.9 248.3,450.6 250.3,450.9 252.3,450.8 254.3,450.6 256.3,450.5 258.3,450.8 260.3,450.9 262.3,451 264.3,450.9 266.3,450.9 268.3,450.8 270.3,450.6 272.3,450.6 274.3,451 276.3,450.6 278.3,450.7 280.3,450.8 282.3,450.5 284.3,450.5 286.3,450.6 288.3,450.9 290.3,450.9 292.3,450.5 294.3,450.6 296.3,451.1 298.3,450.6 300.3,451 302.3,450.8 304.3,451 306.3,450.9 308.3,450.5 310.3,450.9 312.3,450.9 314.3,450.5 316.3,451.1 318.3,450.7 320.3,450.8 322.3,450.8 324.3,450.8 326.3,450.8 328.3,450.5 330.3,451 332.3,450.8 334.3,450.6 336.3,450.8 338.3,450.6 340.3,450.8 342.3,451 344.3,451 346.3,450.6 348.3,450.7 350.3,451.1 352.3,450.9 354.3,450.6 356.3,450.9 358.3,450.7 360.3,450.6 362.3,450.9 364.3,450.6 366.3,450.6 368.3,450.9 370.3,451.1 372.3,450.6 374.3,451 376.3,450.6 378.3,450.6 380.3,450.6 382.3,522.3 382.5,530.7 382.8,536.3 383,539.4 383.3,541.8 383.5,543.1 383.8,543.9 384,543.9 384.3,543.4 384.5,543.1 384.8,541.9 385,541.2 385.3,539.8 385.5,538.9 385.8,537.3 386,536.1 386.3,535.3 386.5,533.6 386.8,532.5 387,531.3 387.3,530.3 387.5,528.8 388.3,524.7 389.1,521.4 389.9,517.9 390.7,514.6 391.5,511.5 392.3,508.8 393.1,505.6 393.9,503.4 394.7,501 395.5,498.9 396.3,496.7 397.1,494.3 397.9,492.5 398.7,490.8 399.5,489 400.3,487.2 401.1,486.3 401.9,484.5 402.7,483 403.5,481.7 404.3,480.5 405.1,479.9 405.9,478.4 406.7,477.6 407.5,476.9" stroke-width="2.4" />
<polyline points="114,460.7 116,460.6 118,460.4 118.2,457.6 118.5,455.4 118.8,453.4 119,452.1 119.2,451.2 119.5,450.6 119.8,450.3 120,449.8 120.2,449.4 120.5,449.5 120.8,449.1 121,449.1 121.2,449.1 121.5,449.5 121.8,449.6 122,449.7 122.2,449.9 122.5,449.8 122.8,450 123,450.3 123.2,450.4 123.5,450.6 123.8,451 124,450.9 124.8,451.5 125.6,451.5 126.4,452.1 127.2,452.1 128,452.5 128.8,452.7 129.6,453 130.4,453.1 131.2,453.7 132,453.5 132.8,453.6 133.6,453.6 134.4,453.9 135.2,454.2 136,454.1 136.8,454.4 137.6,454.3 138.4,454.3 139.2,454.3 140,454.5 140.8,454.3 141.6,454.2 142.4,454.3 143.2,454.6 144,454.2 144.8,454.3 145.6,454.6 146.4,454.6 147.2,454.5 148,454.6 150,454.5 152,454.6 154,454.3 156,454.5 158,454.9 160,454.6 162,454.5 164,454.7 166,454.9 168,454.6 170,454.5 172,454.8 174,454.8 176,454.4 178,454.7 180,454.5 182,454.5 184,454.8 184.3,454.4 184.5,454.6 184.8,454.2 185,454.3 185.3,453.8 185.5,453.9 185.8,453.6 186,454.1 186.3,454.1 186.5,453.8 186.8,453.7 187,454 187.3,453.6 187.5,453.6 187.8,453.5 188,453.9 188.3,453.8 188.5,453.7 188.8,453.8 189,453.8 189.3,453.7 189.5,453.4 189.8,453.7 190,453.8 190.3,453.6 191.1,453.6 191.9,453.7 192.7,453.4 193.5,453.5 194.3,453.7 195.1,453.9 195.9,453.4 196.7,453.7 197.5,453.6 198.3,453.3 199.1,453.4 199.9,453.5 200.7,453.7 201.5,453.4 202.3,453.6 203.1,453.7 203.9,453.8 204.7,453.9 205.5,453.8 206.3,453.5 207.1,453.7 207.9,453.7 208.7,453.7 209.5,453.7 210.3,453.6 211.1,453.5 211.9,453.8 212.7,453.9 213.5,453.8 214.3,453.8 216.3,453.9 218.3,453.5 220.3,453.7 222.3,453.9 224.3,453.8 226.3,453.4 228.3,453.7 230.3,453.9 232.3,453.5 234.3,453.6 236.3,454 238.3,453.7 240.3,453.7 242.3,453.8 244.3,453.9 246.3,453.7 248.3,453.9 250.3,453.8 252.3,453.7 254.3,453.8 256.3,453.6 258.3,453.5 260.3,453.7 262.3,453.5 264.3,453.6 266.3,453.9 268.3,454 270.3,453.6 272.3,453.5 274.3,453.7 276.3,453.7 278.3,453.5 280.3,453.9 282.3,453.5 284.3,453.8 286.3,453.6 288.3,453.9 290.3,453.5 292.3,453.8 294.3,454 296.3,453.5 298.3,453.6 300.3,453.5 302.3,454 304.3,453.9 306.3,453.6 308.3,454 310.3,453.6 312.3,453.8 314.3,453.9 316.3,453.9 318.3,453.5 320.3,453.5 322.3,453.6 324.3,454.1 326.3,454 328.3,453.7 330.3,453.5 332.3,453.9 334.3,453.6 336.3,454 338.3,454.1 340.3,454 342.3,454 344.3,454 346.3,454 348.3,453.8 350.3,454 352.3,453.5 354.3,453.9 356.3,453.8 358.3,454.1 360.3,454 362.3,453.8 364.3,454 366.3,453.9 368.3,453.9 370.3,453.5 372.3,453.7 374.3,453.7 376.3,454 378.3,454.1 380.3,453.9 382.3,522.4 382.5,529.9 382.8,534.7 383,538.1 383.3,540.4 383.5,541.7 383.8,541.9 384,542 384.3,541.4 384.5,540.6 384.8,539.6 385,538.7 385.3,537.7 385.5,536.2 385.8,535.5 386,533.6 386.3,532.8 386.5,531.3 386.8,530.4 387,528.7 387.3,527.3 387.5,526.4 388.3,522.4 389.1,519 389.9,515.5 390.7,512.2 391.5,509.3 392.3,506.4 393.1,503.5 393.9,500.9 394.7,498.8 395.5,496.5 396.3,494.1 397.1,492.2 397.9,490.5 398.7,488.6 399.5,487.2 400.3,485.6 401.1,484 401.9,483 402.7,481.7 403.5,480.1 404.3,479.2 405.1,478.4 405.9,477.2 406.7,476.5 407.5,475.1" stroke-width="2" />
<polyline points="114,460.3 116,460.4 118,460.3 118.2,457.3 118.5,455.1 118.8,453.5 119,452.4 119.2,451.4 119.5,450.3 119.8,450.2 120,449.8 120.2,449.4 120.5,449.1 120.8,449.6 121,449.1 121.2,449.3 121.5,449.4 121.8,449.8 122,450 122.2,450.1 122.5,450.2 122.8,450.3 123,450.3 123.2,450.2 123.5,450.4 123.8,450.5 124,450.6 124.8,451.1 125.6,451.6 126.4,451.8 127.2,452.3 128,452.9 128.8,452.7 129.6,453.1 130.4,453.5 131.2,453.2 132,453.7 132.8,453.8 133.6,453.6 134.4,454.2 135.2,454.2 136,453.8 136.8,454.4 137.6,454.3 138.4,454.3 139.2,454.1 140,454.1 140.8,454.5 141.6,454.5 142.4,454.2 143.2,454.2 144,454.5 144.8,454.4 145.6,454.4 146.4,454.7 147.2,454.6 148,454.3 150,454.7 152,454.7 154,454.6 156,454.9 158,454.6 160,454.7 162,454.3 164,454.5 166,454.5 168,454.6 170,454.6 172,454.4 174,454.7 176,454.3 178,454.5 180,454.7 182,454.3 184,454.5 184.3,455 184.5,455.2 184.8,455.3 185,455.3 185.3,455.9 185.5,456.1 185.8,455.7 186,456 186.3,456.2 186.5,456.4 186.8,456.1 187,456.5 187.3,456.5 187.5,456.6 187.8,456.7 188,456.6 188.3,456.6 188.5,456.4 188.8,456.4 189,456.5 189.3,456.7 189.5,456.6 189.8,456.4 190,456.8 190.3,456.6 191.1,456.9 191.9,456.7 192.7,456.8 193.5,456.5 194.3,456.9 195.1,456.6 195.9,456.7 196.7,456.6 197.5,456.6 198.3,456.4 199.1,456.5 199.9,456.6 200.7,456.8 201.5,456.4 202.3,456.5 203.1,456.7 203.9,456.6 204.7,456.9 205.5,456.4 206.3,456.6 207.1,456.8 207.9,456.8 208.7,456.6 209.5,456.7 210.3,456.6 211.1,456.4 211.9,456.4 212.7,456.5 213.5,456.9 214.3,456.5 216.3,456.5 218.3,456.7 220.3,456.8 222.3,456.8 224.3,456.6 226.3,456.6 228.3,456.4 230.3,456.9 232.3,456.6 234.3,456.6 236.3,456.5 238.3,456.7 240.3,456.5 242.3,456.6 244.3,456.5 246.3,456.5 248.3,456.7 250.3,456.6 252.3,456.5 254.3,456.9 256.3,456.5 258.3,456.7 260.3,456.6 262.3,456.5 264.3,456.6 266.3,456.7 268.3,456.9 270.3,456.6 272.3,456.7 274.3,457 276.3,456.8 278.3,456.7 280.3,456.6 282.3,456.9 284.3,457 286.3,456.6 288.3,457 290.3,456.7 292.3,456.8 294.3,456.5 296.3,456.6 298.3,456.6 300.3,456.6 302.3,457 304.3,457.1 306.3,456.7 308.3,457 310.3,456.7 312.3,456.8 314.3,456.6 316.3,457 318.3,456.8 320.3,456.9 322.3,457 324.3,456.8 326.3,456.8 328.3,456.9 330.3,456.8 332.3,456.9 334.3,456.7 336.3,456.6 338.3,456.6 340.3,457.1 342.3,456.9 344.3,456.5 346.3,456.6 348.3,456.9 350.3,456.8 352.3,457.1 354.3,457.1 356.3,456.6 358.3,457 360.3,457.1 362.3,457 364.3,457.1 366.3,456.8 368.3,456.9 370.3,457 372.3,457 374.3,457 376.3,457 378.3,456.8 380.3,457 382.3,522 382.5,529.2 382.8,533.6 383,536.9 383.3,538.9 383.5,539.8 383.8,540.1 384,539.6 384.3,539.1 384.5,538.4 384.8,537.7 385,536.2 385.3,535.4 385.5,533.8 385.8,532.6 386,531.4 386.3,530.3 386.5,529.1 386.8,527.9 387,526.2 387.3,524.9 387.5,524.1 388.3,520.1 389.1,516.7 389.9,513.1 390.7,509.6 391.5,506.7 392.3,503.8 393.1,501.3 393.9,498.7 394.7,496.7 395.5,494.6 396.3,492.1 397.1,490.7 397.9,488.8 398.7,486.8 399.5,485.5 400.3,484.1 401.1,482.5 401.9,481 402.7,479.9 403.5,478.9 404.3,477.5 405.1,476.6 405.9,475.4 406.7,474.6 407.5,474.1" stroke-width="2" />
<line x1="184.1" y1="410" x2="184.1" y2="605.5" stroke-width="1.2" />
<line x1="381.3" y1="410" x2="381.3" y2="557.6" stroke-width="1.3" />
<polyline points="465,460.1 467,460.3 469,460.2 469.2,460.3 469.5,460.1 469.8,457.1 470,455.3 470.2,453.3 470.5,452 470.8,451.2 471,450.5 471.2,450.2 471.5,449.7 471.8,449.3 472,449.2 472.2,449.2 472.5,448.9 472.8,449 473,449.2 473.2,449.5 473.5,449.4 473.8,449.3 474,449.8 474.2,449.8 474.5,449.6 474.8,449.8 475,449.7 475.2,450.3 475.5,450.1 476.3,450.8 477.1,451.1 477.9,451.4 478.7,451.6 479.5,451.6 480.3,451.7 481.1,452.2 481.9,452 482.7,452.4 483.5,452.7 484.3,452.4 485.1,452.7 485.9,452.9 486.7,452.7 487.5,452.8 488.3,453.1 489.1,452.9 489.9,452.9 490.7,453 491.5,453.4 492.3,453.4 493.1,453 493.9,453.3 494.7,453.2 495.5,453 496.3,453.2 497.1,453.4 497.9,453 498.7,453.6 499.5,453.2 501.5,453.3 503.5,453.6 505.5,453.2 507.5,453.2 509.5,453.4 511.5,453.3 513.5,453.3 515.5,453.4 517.5,453.7 519.5,453.3 521.5,453.1 523.5,453.3 525.5,453.6 527.5,453.4 529.5,453.1 531.5,453.2 533.5,453.2 535.5,453.3 537.5,597.9 537.8,595.9 538,591.4 538.3,585.4 538.5,579.4 538.8,573.6 539,567.7 539.3,561.9 539.5,556.1 539.8,551.2 540,546.1 540.3,542 540.5,537.5 540.8,534 541,530.4 541.3,526.7 541.5,523.7 541.8,520.9 542,518.1 542.3,515.4 542.5,513 543.3,506.2 544.1,500.9 544.9,496.1 545.7,492.6 546.5,489.2 547.3,486.6 548.1,484.7 548.9,482.6 549.7,480.7 550.5,479.7 551.3,477.9 552.1,476.9 552.9,475.8 553.7,474.6 554.5,474.2 555.3,473.2 556.1,472.6 556.9,471.5 557.7,471.2 558.5,470.6 559.3,470.1 560.1,469.1 560.9,468.6 561.7,468.1 562.5,467.6 563.3,467.6 564.1,466.8 564.9,466.7 565.7,466.3 566.5,466.2 568.5,465.1 570.5,464.9 572.5,464.6 574.5,463.7 576.5,463.4 578.5,463.3 580.5,462.8 582.5,462.8 584.5,462.7 586.5,462.1 588.5,462.1 590.5,461.8 592.5,461.9 594.5,461.7 596.5,462 598.5,461.8 600.5,461.9 602.5,461.7 604.5,461.7 606.5,461.4 608.5,461.5 610.5,461.1 612.5,461.3 614.5,461.6 616.5,461.6 618.5,461.1 620.5,461.3 622.5,461.2 624.5,461.3 626.5,461.3 628.5,461.1 630.5,461.5 632.5,461.2 634.5,461.4 636.5,461.4 638.5,461.5 640.5,461.2 642.5,461.3 644.5,461.4 646.5,461 648.5,460.9 650.5,461.4 652.5,461.3 654.5,461.4 656.5,461.4 658.5,461 660.5,461.4 662.5,461.3 664.5,461.5 666.5,461.2 668.5,461.4 670.5,460.9 672.5,461 674.5,461.2 676.5,461.3 678.5,461.1 680.5,460.9 682.5,461.4 684.5,460.9 686.5,461.4 688.5,461 690.5,461.3 692.5,461.3 694.5,461 696.5,461.1 698.5,461 700.5,461.2 702.5,461.1 704.5,461.2 706.5,461.1 708.5,461 710.5,461.3 712.5,461.1 714.5,461.5 716.5,461.1 718.5,461.1 720.5,461.3 722.5,461.4 724.5,461.1 726.5,461.3 728.5,461.1 730.5,461.5 732.5,461.1 734.5,461.3 734.7,461.3 735,461.7 735.2,461.7 735.5,461.5 735.7,461.6 736,461.5 736.2,461.5 736.5,461.4 736.7,461.6 737,461.6 737.2,461.2 737.5,461.7 737.7,461.3 738,461.4 738.2,461.3 738.5,461.5 738.7,461.4 739,461.4 739.2,461.3 739.5,461.4 740.3,461.1 741.1,461.6 741.9,461.2 742.7,461.1 743.5,461.4 744.3,461.1 745.1,461.3 745.9,461.1 746.7,460.9 747.5,461.2 748.3,461 749.1,460.9 749.9,461.4 750.7,461.3 751.5,461 752.3,461.2 753.1,461.2 753.9,460.9 754.7,460.8 755.5,461.1 756.3,460.8 757.1,461.2 757.9,461.1 758.7,460.9" stroke-width="2" />
<polyline points="465,460.4 467,460.5 469,460.2 469.2,460.5 469.5,460.2 469.8,457.1 470,455.1 470.2,453.4 470.5,452.4 470.8,451.2 471,450.8 471.2,449.8 471.5,449.6 471.8,449.1 472,449 472.2,449.3 472.5,448.8 472.8,449 473,449.1 473.2,449.5 473.5,449.2 473.8,449.1 474,449.7 474.2,449.8 474.5,449.6 474.8,450.2 475,450.2 475.2,450.4 475.5,450.5 476.3,450.7 477.1,451.1 477.9,451 478.7,451.6 479.5,451.7 480.3,451.9 481.1,452 481.9,452 482.7,452.6 483.5,452.7 484.3,452.4 485.1,452.8 485.9,452.5 486.7,452.9 487.5,452.8 488.3,453.3 489.1,453 489.9,453.1 490.7,453 491.5,453.4 492.3,452.9 493.1,453.1 493.9,453.1 494.7,453.4 495.5,453.2 496.3,453.5 497.1,453.2 497.9,453.1 498.7,453.3 499.5,453.1 501.5,453.1 503.5,453.4 505.5,453.4 507.5,453.2 509.5,453.2 511.5,453.4 513.5,453.4 515.5,453.4 517.5,453.5 519.5,453.2 521.5,453.1 523.5,453.1 525.5,453.6 527.5,453.5 529.5,453.2 531.5,453.3 533.5,453.3 535.5,453.7 537.5,560.6 537.8,562.2 538,560.9 538.3,558.7 538.5,555.8 538.8,552.5 539,548.8 539.3,545.3 539.5,541.7 539.8,538 540,534.8 540.3,531.5 540.5,528.4 540.8,525 541,522.4 541.3,519.6 541.5,517.5 541.8,515.1 542,512.6 542.3,510.6 542.5,508.8 543.3,503.4 544.1,498.6 544.9,494.8 545.7,491.6 546.5,488.8 547.3,486.4 548.1,484.1 548.9,482.2 549.7,481 550.5,479 551.3,477.8 552.1,476.7 552.9,475.9 553.7,475 554.5,473.8 555.3,473.2 556.1,472.5 556.9,471.9 557.7,470.9 558.5,470.7 559.3,469.9 560.1,469.5 560.9,468.8 561.7,468.8 562.5,468.2 563.3,468 564.1,467.4 564.9,466.8 565.7,466.7 566.5,466.2 568.5,465.5 570.5,465.3 572.5,464.3 574.5,464.1 576.5,463.5 578.5,463.6 580.5,463.4 582.5,462.6 584.5,462.6 586.5,462.7 588.5,462.1 590.5,462 592.5,462.3 594.5,462.2 596.5,461.7 598.5,461.8 600.5,461.8 602.5,461.5 604.5,461.2 606.5,461.4 608.5,461.6 610.5,461.7 612.5,461.4 614.5,461.3 616.5,461.3 618.5,461.4 620.5,461 622.5,461.5 624.5,461.6 626.5,461 628.5,461 630.5,461.1 632.5,461 634.5,461.4 636.5,461.5 638.5,461.3 640.5,461.5 642.5,461.1 644.5,461 646.5,461.1 648.5,461.2 650.5,461 652.5,461.5 654.5,461.4 656.5,461.1 658.5,461 660.5,461.1 662.5,461.1 664.5,461.3 666.5,461.4 668.5,461.5 670.5,461 672.5,461 674.5,461.1 676.5,461.5 678.5,461.2 680.5,461.3 682.5,461.4 684.5,461.2 686.5,461.1 688.5,461.4 690.5,461.3 692.5,461.5 694.5,461.1 696.5,461.5 698.5,461.2 700.5,461.4 702.5,461.3 704.5,461.2 706.5,461.4 708.5,460.9 710.5,461.1 712.5,461.2 714.5,461.4 716.5,461 718.5,461.4 720.5,461 722.5,461.1 724.5,461.2 726.5,461.3 728.5,461.2 730.5,461.4 732.5,461.3 734.5,461.7 734.7,461.9 735,461.8 735.2,462.1 735.5,461.7 735.7,461.6 736,461.7 736.2,461.6 736.5,461.9 736.7,461.9 737,461.6 737.2,461.6 737.5,461.9 737.7,461.9 738,461.5 738.2,461.9 738.5,461.3 738.7,461.9 739,461.4 739.2,461.8 739.5,461.2 740.3,461.6 741.1,461.7 741.9,461.6 742.7,461.4 743.5,461.1 744.3,461.1 745.1,461.5 745.9,461.4 746.7,461 747.5,461.1 748.3,461.2 749.1,461 749.9,460.9 750.7,461.3 751.5,460.9 752.3,461.2 753.1,461 753.9,461 754.7,461.3 755.5,461.2 756.3,461.2 757.1,460.8 757.9,461.2 758.7,461.2" stroke-width="2" />
<polyline points="465,459.9 467,460 469,460.3 469.2,460.4 469.5,460.2 469.8,457.6 470,454.9 470.2,453.3 470.5,452.4 470.8,451.4 471,450.3 471.2,450 471.5,449.6 471.8,449.5 472,449.2 472.2,449 472.5,449.3 472.8,449.2 473,449.1 473.2,449.4 473.5,449.2 473.8,449.4 474,449.4 474.2,449.6 474.5,449.7 474.8,449.7 475,449.9 475.2,450.1 475.5,450.2 476.3,450.6 477.1,451.2 477.9,451.5 478.7,451.4 479.5,451.5 480.3,451.7 481.1,452.4 481.9,452.5 482.7,452.6 483.5,452.8 484.3,452.6 485.1,452.6 485.9,452.6 486.7,452.8 487.5,453.1 488.3,452.8 489.1,453 489.9,452.9 490.7,453 491.5,453.2 492.3,453.3 493.1,453.5 493.9,453.1 494.7,453.1 495.5,453 496.3,453.1 497.1,453 497.9,453 498.7,453.1 499.5,453.4 501.5,453.3 503.5,453.6 505.5,453.4 507.5,453.1 509.5,453.2 511.5,453.5 513.5,453.7 515.5,453.5 517.5,453.2 519.5,453.3 521.5,453.4 523.5,453.4 525.5,453.3 527.5,453.2 529.5,453.1 531.5,453.6 533.5,453.7 535.5,453.7 537.5,522.8 537.8,526 538,527.1 538.3,527.3 538.5,526.7 538.8,525.9 539,524.7 539.3,522.9 539.5,520.9 539.8,519.2 540,517.4 540.3,515.3 540.5,513.6 540.8,512.1 541,510.1 541.3,508.7 541.5,506.9 541.8,505 542,504 542.3,502.5 542.5,501 543.3,496.9 544.1,493.8 544.9,490.5 545.7,488.1 546.5,485.7 547.3,483.8 548.1,482.4 548.9,480.6 549.7,479.2 550.5,478 551.3,476.9 552.1,475.9 552.9,474.7 553.7,473.8 554.5,473.3 555.3,472.8 556.1,472.1 556.9,471.2 557.7,470.5 558.5,470.2 559.3,469.3 560.1,469.2 560.9,468.9 561.7,468.6 562.5,467.7 563.3,467.4 564.1,467.2 564.9,467 565.7,466.9 566.5,466.1 568.5,465.4 570.5,465.1 572.5,464.8 574.5,463.9 576.5,463.7 578.5,463.6 580.5,463.1 582.5,462.8 584.5,462.5 586.5,462.7 588.5,462.4 590.5,462.2 592.5,462.2 594.5,462.1 596.5,461.8 598.5,461.7 600.5,462 602.5,461.4 604.5,461.8 606.5,461.5 608.5,461.5 610.5,461.3 612.5,461.7 614.5,461.3 616.5,461.3 618.5,461.1 620.5,461.6 622.5,461.5 624.5,461 626.5,461.1 628.5,461.2 630.5,461 632.5,461.3 634.5,461.5 636.5,461.4 638.5,461.2 640.5,461.5 642.5,461.1 644.5,461.1 646.5,461.1 648.5,461.3 650.5,461.2 652.5,461 654.5,461.2 656.5,461.5 658.5,461.4 660.5,461.3 662.5,461.4 664.5,461.2 666.5,461.2 668.5,461.3 670.5,461 672.5,461.3 674.5,461.2 676.5,461.1 678.5,461.2 680.5,461 682.5,461.3 684.5,461 686.5,461.2 688.5,460.9 690.5,461.2 692.5,461 694.5,461.4 696.5,460.9 698.5,461.4 700.5,461.1 702.5,461.5 704.5,461.1 706.5,461 708.5,461.3 710.5,461 712.5,461.4 714.5,461.2 716.5,461.1 718.5,461.3 720.5,461 722.5,461.1 724.5,460.9 726.5,461 728.5,461 730.5,461 732.5,461.1 734.5,462 734.7,462.1 735,462.1 735.2,462.2 735.5,462.1 735.7,462 736,462.2 736.2,461.8 736.5,461.8 736.7,461.6 737,462.2 737.2,462.1 737.5,461.8 737.7,462 738,461.8 738.2,462 738.5,462 738.7,461.6 739,461.6 739.2,461.6 739.5,461.9 740.3,461.6 741.1,461.4 741.9,461.2 742.7,461.3 743.5,461.6 744.3,461.3 745.1,461.5 745.9,461.5 746.7,461.5 747.5,461.3 748.3,461.2 749.1,461 749.9,461.4 750.7,461.3 751.5,461.3 752.3,460.8 753.1,461.2 753.9,461.2 754.7,460.9 755.5,461 756.3,461 757.1,460.9 757.9,460.8 758.7,460.8" stroke-width="2" />
<polyline points="465,460.2 467,459.9 469,460.4 469.2,460.2 469.5,460.1 469.8,457.2 470,455 470.2,453.5 470.5,452.3 470.8,451.2 471,450.6 471.2,450 471.5,449.8 471.8,449.5 472,449.4 472.2,448.9 472.5,449 472.8,448.9 473,449.4 473.2,449 473.5,449.6 473.8,449.3 474,449.3 474.2,449.8 474.5,449.6 474.8,449.8 475,450 475.2,450.2 475.5,450.3 476.3,450.7 477.1,451.1 477.9,451.5 478.7,451.6 479.5,451.7 480.3,452 481.1,452.1 481.9,452.5 482.7,452.5 483.5,452.7 484.3,452.9 485.1,452.9 485.9,453.1 486.7,452.9 487.5,453.1 488.3,453.3 489.1,453.1 489.9,453.3 490.7,453 491.5,453 492.3,453.4 493.1,453.3 493.9,453.5 494.7,453.3 495.5,453.1 496.3,453.1 497.1,453.6 497.9,453.2 498.7,453.1 499.5,453.4 501.5,453.5 503.5,453.4 505.5,453.1 507.5,453.6 509.5,453.5 511.5,453.3 513.5,453.6 515.5,453.4 517.5,453.6 519.5,453.2 521.5,453.3 523.5,453.6 525.5,453.5 527.5,453.5 529.5,453.5 531.5,453.1 533.5,453.6 535.5,453.1 537.5,487.9 537.8,490.8 538,493 538.3,494.2 538.5,495.3 538.8,495.6 539,495.9 539.3,495.8 539.5,495.4 539.8,495.5 540,494.5 540.3,494 540.5,493.8 540.8,492.8 541,492.5 541.3,491.4 541.5,490.8 541.8,490.1 542,489.3 542.3,488.9 542.5,487.9 543.3,486 544.1,483.9 544.9,482.1 545.7,480.8 546.5,479.4 547.3,477.6 548.1,476.8 548.9,475.8 549.7,474.7 550.5,473.7 551.3,473.1 552.1,472.1 552.9,471.6 553.7,470.8 554.5,470.6 555.3,470 556.1,469.3 556.9,469.1 557.7,468.5 558.5,468.2 559.3,467.5 560.1,467.5 560.9,467.1 561.7,467 562.5,466.3 563.3,466.1 564.1,466.1 564.9,465.5 565.7,465.6 566.5,465.4 568.5,464.5 570.5,464.4 572.5,463.8 574.5,463.5 576.5,463.2 578.5,463.2 580.5,462.9 582.5,462.6 584.5,462.6 586.5,462.5 588.5,462 590.5,462.3 592.5,462 594.5,462 596.5,462 598.5,461.6 600.5,461.7 602.5,461.7 604.5,461.3 606.5,461.5 608.5,461.5 610.5,461.4 612.5,461.4 614.5,461.6 616.5,461.1 618.5,461.5 620.5,461.2 622.5,461.1 624.5,461.3 626.5,461.1 628.5,461.3 630.5,461.1 632.5,461.2 634.5,461 636.5,461.5 638.5,461.1 640.5,461.2 642.5,461.3 644.5,461.3 646.5,461 648.5,461.4 650.5,461.1 652.5,461 654.5,461.2 656.5,461.3 658.5,461.1 660.5,461.3 662.5,461.1 664.5,461.4 666.5,461.5 668.5,461.4 670.5,460.9 672.5,461.2 674.5,461.2 676.5,461.1 678.5,461 680.5,461.3 682.5,461 684.5,461 686.5,461.2 688.5,461.5 690.5,461.1 692.5,461.5 694.5,461.3 696.5,461.3 698.5,461.4 700.5,461.3 702.5,461.3 704.5,461.2 706.5,461.4 708.5,461.4 710.5,460.9 712.5,461.5 714.5,460.9 716.5,461.3 718.5,460.9 720.5,461.4 722.5,461.2 724.5,461 726.5,461.4 728.5,461 730.5,461.4 732.5,461.1 734.5,462.3 734.7,462.3 735,462.5 735.2,462.3 735.5,462.4 735.7,462.2 736,462.2 736.2,462 736.5,462.1 736.7,462.1 737,462.3 737.2,461.9 737.5,461.9 737.7,462.3 738,462.1 738.2,461.7 738.5,462.2 738.7,462.1 739,462 739.2,462.1 739.5,461.9 740.3,461.5 741.1,461.4 741.9,461.3 742.7,461.5 743.5,461.5 744.3,461.6 745.1,461.1 745.9,461.1 746.7,461.1 747.5,461.2 748.3,461.5 749.1,461.4 749.9,460.9 750.7,461.2 751.5,461 752.3,461 753.1,461 753.9,461 754.7,461 755.5,460.9 756.3,461 757.1,461.1 757.9,461.1 758.7,461.2" stroke-width="2" />
<polyline points="465,460.1 467,459.9 469,460.2 469.2,460.1 469.5,460 469.8,457.3 470,455.4 470.2,453.5 470.5,452.3 470.8,451 471,450.5 471.2,450.1 471.5,449.8 471.8,449.5 472,449 472.2,449.4 472.5,448.8 472.8,449.3 473,449.2 473.2,449.5 473.5,449.6 473.8,449.6 474,449.3 474.2,449.8 474.5,449.6 474.8,449.9 475,449.8 475.2,450 475.5,450 476.3,450.7 477.1,450.7 477.9,451.1 478.7,451.7 479.5,451.6 480.3,452 481.1,452.4 481.9,452.4 482.7,452.6 483.5,452.8 484.3,452.5 485.1,452.6 485.9,453.1 486.7,453.2 487.5,452.9 488.3,453.3 489.1,452.8 489.9,452.9 490.7,453.4 491.5,452.9 492.3,453.4 493.1,453.1 493.9,453.4 494.7,453 495.5,453.3 496.3,453.3 497.1,453.3 497.9,453.5 498.7,453.1 499.5,453.5 501.5,453.6 503.5,453.4 505.5,453.2 507.5,453.6 509.5,453.3 511.5,453.2 513.5,453.6 515.5,453.6 517.5,453.6 519.5,453.4 521.5,453.1 523.5,453.1 525.5,453.4 527.5,453.1 529.5,453.5 531.5,453.2 533.5,453.6 535.5,453.1 537.5,462.9 537.8,463.8 538,465.3 538.3,465.8 538.5,466.6 538.8,467.4 539,467.6 539.3,468.4 539.5,468.3 539.8,468.5 540,468.9 540.3,469.1 540.5,469.4 540.8,469.2 541,469.7 541.3,469.7 541.5,469.7 541.8,469.9 542,469.3 542.3,469.7 542.5,469.7 543.3,469.2 544.1,469.1 544.9,468.7 545.7,468.9 546.5,468.4 547.3,468.3 548.1,467.7 548.9,467.7 549.7,467.5 550.5,467 551.3,466.7 552.1,466.4 552.9,466.5 553.7,466.2 554.5,465.9 555.3,465.7 556.1,465.6 556.9,465.3 557.7,465.4 558.5,465 559.3,464.8 560.1,464.8 560.9,465 561.7,464.7 562.5,464.3 563.3,464.5 564.1,464.5 564.9,464 565.7,464.1 566.5,463.9 568.5,463.6 570.5,463.6 572.5,463.3 574.5,463.1 576.5,463.1 578.5,462.6 580.5,462.3 582.5,462.1 584.5,462.4 586.5,462.2 588.5,462.3 590.5,462.3 592.5,461.8 594.5,461.7 596.5,461.8 598.5,461.4 600.5,461.4 602.5,461.4 604.5,461.5 606.5,461.5 608.5,461.3 610.5,461.6 612.5,461.6 614.5,461.6 616.5,461.4 618.5,461.5 620.5,461.6 622.5,461.5 624.5,461.2 626.5,461.4 628.5,461.5 630.5,461.2 632.5,461.2 634.5,461 636.5,461.3 638.5,461 640.5,461.2 642.5,461.1 644.5,461 646.5,461.5 648.5,461.1 650.5,461.5 652.5,461.4 654.5,461.3 656.5,461.2 658.5,461.3 660.5,461.4 662.5,461 664.5,461.2 666.5,461.1 668.5,461 670.5,461 672.5,461.4 674.5,461.5 676.5,461.2 678.5,461 680.5,461 682.5,461.1 684.5,461.1 686.5,461.4 688.5,461.2 690.5,461.2 692.5,461.3 694.5,461 696.5,461.1 698.5,461.2 700.5,460.9 702.5,461.1 704.5,461.2 706.5,461.3 708.5,461.1 710.5,460.9 712.5,461.2 714.5,461 716.5,460.9 718.5,461.5 720.5,461.3 722.5,461.5 724.5,461.1 726.5,461.4 728.5,461.4 730.5,461.3 732.5,460.9 734.5,462.5 734.7,462.6 735,462.7 735.2,462.8 735.5,462.5 735.7,462.5 736,462.4 736.2,462.6 736.5,462.4 736.7,462.4 737,462.2 737.2,462.7 737.5,462.2 737.7,462.4 738,462.4 738.2,462 738.5,462.3 738.7,462.4 739,462 739.2,462.2 739.5,462.2 740.3,462 741.1,461.8 741.9,461.8 742.7,461.8 743.5,461.6 744.3,461.7 745.1,461.6 745.9,461.6 746.7,461.3 747.5,461.1 748.3,461.1 749.1,461.1 749.9,461.3 750.7,461 751.5,461.1 752.3,461 753.1,461.2 753.9,461 754.7,461.3 755.5,460.8 756.3,461 757.1,461.2 757.9,461.3 758.7,461" stroke-width="2" />
<polyline points="465,460.5 467,460.4 469,460.2 469.2,460.1 469.5,460 469.8,457.5 470,454.9 470.2,453.6 470.5,452 470.8,451 471,450.6 471.2,449.9 471.5,449.4 471.8,449.2 472,449.4 472.2,449.1 472.5,449.3 472.8,449.2 473,448.9 473.2,449.2 473.5,449.4 473.8,449.3 474,449.3 474.2,450 474.5,449.7 474.8,450 475,450 475.2,450.4 475.5,450.1 476.3,450.4 477.1,451.1 477.9,451.4 478.7,451.7 479.5,451.5 480.3,451.8 481.1,452.1 481.9,452.2 482.7,452.2 483.5,452.3 484.3,452.4 485.1,452.7 485.9,452.6 486.7,452.6 487.5,452.7 488.3,453.1 489.1,453.2 489.9,453 490.7,453.3 491.5,452.9 492.3,453.2 493.1,453.5 493.9,453 494.7,453.1 495.5,453.3 496.3,453.2 497.1,453.1 497.9,453.5 498.7,453.5 499.5,453.4 501.5,453.3 503.5,453.4 505.5,453.4 507.5,453.4 509.5,453.3 511.5,453.6 513.5,453.4 515.5,453.2 517.5,453.4 519.5,453.6 521.5,453.4 523.5,453.3 525.5,453.4 527.5,453.5 529.5,453.2 531.5,453.6 533.5,453.3 535.5,453.4 537.5,450.3 537.8,450.2 538,449.7 538.3,449.6 538.5,449.7 538.8,449.5 539,449.7 539.3,449.6 539.5,449.7 539.8,449.9 540,450.3 540.3,450.3 540.5,450.2 540.8,450.6 541,450.6 541.3,450.4 541.5,450.8 541.8,451.1 542,451.3 542.3,451.6 542.5,451.1 543.3,451.9 544.1,452.2 544.9,452.6 545.7,453.2 546.5,453.3 547.3,453.7 548.1,454.2 548.9,454.5 549.7,454.6 550.5,454.9 551.3,454.8 552.1,455.2 552.9,455.4 553.7,455.9 554.5,456.1 555.3,455.9 556.1,456.4 556.9,456.7 557.7,456.8 558.5,456.7 559.3,456.8 560.1,457.1 560.9,457.1 561.7,457.6 562.5,457.6 563.3,457.7 564.1,457.9 564.9,457.5 565.7,458.1 566.5,457.8 568.5,457.9 570.5,458.3 572.5,458.3 574.5,458.3 576.5,458.9 578.5,458.5 580.5,458.5 582.5,458.8 584.5,459.1 586.5,459.1 588.5,459 590.5,459 592.5,458.9 594.5,459.3 596.5,459.3 598.5,459 600.5,459.3 602.5,459.4 604.5,459.1 606.5,459.1 608.5,459.4 610.5,459.3 612.5,459.2 614.5,459 616.5,459.2 618.5,459.4 620.5,459.1 622.5,459.3 624.5,459.4 626.5,459.2 628.5,459.1 630.5,459.4 632.5,459.4 634.5,459.4 636.5,459.5 638.5,459.2 640.5,459.3 642.5,459.3 644.5,459.5 646.5,459.2 648.5,459.1 650.5,459.2 652.5,459.5 654.5,459.4 656.5,459.1 658.5,459.5 660.5,459.6 662.5,459.2 664.5,459.5 666.5,459.4 668.5,459.4 670.5,459.1 672.5,459 674.5,459.5 676.5,459.2 678.5,459.5 680.5,459.5 682.5,459.5 684.5,459.4 686.5,459.4 688.5,459.5 690.5,459.6 692.5,459.6 694.5,459.5 696.5,459.2 698.5,459.6 700.5,459.1 702.5,459.1 704.5,459.5 706.5,459.3 708.5,459.6 710.5,459.2 712.5,459 714.5,459.1 716.5,459.5 718.5,459.5 720.5,459.3 722.5,459.4 724.5,459 726.5,459.6 728.5,459.2 730.5,459.1 732.5,459.3 734.5,462.5 734.7,462.7 735,463 735.2,462.7 735.5,463.1 735.7,462.8 736,462.9 736.2,463.2 736.5,463 736.7,463 737,463 737.2,462.7 737.5,462.6 737.7,462.7 738,462.8 738.2,462.3 738.5,462.6 738.7,462.4 739,462.7 739.2,462.5 739.5,462.5 740.3,462.1 741.1,462 741.9,461.8 742.7,461.6 743.5,461.6 744.3,461.5 745.1,461.7 745.9,461.6 746.7,461.6 747.5,461.6 748.3,461.7 749.1,461.3 749.9,461.4 750.7,461.3 751.5,461.2 752.3,461.1 753.1,461.1 753.9,461.1 754.7,461.2 755.5,461.1 756.3,461.1 757.1,461.2 757.9,461.4 758.7,461.1" stroke-width="2" />
<polyline points="465,460.5 467,460.1 469,460.3 469.2,460.2 469.5,460.2 469.8,457.3 470,455 470.2,453.8 470.5,451.9 470.8,451.4 471,450.5 471.2,449.9 471.5,449.5 471.8,449.6 472,449.1 472.2,449.2 472.5,449.1 472.8,449.2 473,449.2 473.2,449.3 473.5,449.1 473.8,449.2 474,449.6 474.2,449.4 474.5,449.8 474.8,449.8 475,450.2 475.2,450 475.5,450 476.3,450.4 477.1,450.9 477.9,451.4 478.7,451.6 479.5,452 480.3,452.2 481.1,452.2 481.9,452 482.7,452.5 483.5,452.5 484.3,452.7 485.1,452.6 485.9,452.8 486.7,452.8 487.5,453.1 488.3,453.3 489.1,453 489.9,453.1 490.7,453.2 491.5,453.3 492.3,453.1 493.1,453.1 493.9,453.3 494.7,453.2 495.5,453.3 496.3,453.4 497.1,453.3 497.9,453.6 498.7,453.2 499.5,453.2 501.5,453.3 503.5,453.6 505.5,453.6 507.5,453.1 509.5,453.2 511.5,453.2 513.5,453.6 515.5,453.5 517.5,453.2 519.5,453.6 521.5,453.6 523.5,453.6 525.5,453.3 527.5,453.6 529.5,453.3 531.5,453.7 533.5,453.2 535.5,453.3 537.5,445.1 537.8,444.6 538,443.9 538.3,443.3 538.5,442.9 538.8,442.5 539,442.5 539.3,442.1 539.5,442.4 539.8,442.6 540,442.3 540.3,442.4 540.5,442.5 540.8,442.5 541,443 541.3,442.7 541.5,443 541.8,443.3 542,443.5 542.3,443.4 542.5,443.4 543.3,444.3 544.1,444.5 544.9,445.4 545.7,445.5 546.5,446.5 547.3,446.9 548.1,447.2 548.9,447.9 549.7,448.3 550.5,448.6 551.3,448.8 552.1,449.1 552.9,449.4 553.7,449.8 554.5,450.5 555.3,450.8 556.1,451.3 556.9,451.2 557.7,451.5 558.5,452.1 559.3,452.3 560.1,452.7 560.9,452.4 561.7,453.2 562.5,453.1 563.3,453.5 564.1,453.4 564.9,453.8 565.7,454.1 566.5,454.3 568.5,454.7 570.5,454.7 572.5,455.6 574.5,455.4 576.5,456.1 578.5,456.2 580.5,456.5 582.5,456.5 584.5,457 586.5,457.2 588.5,457 590.5,457.6 592.5,457.4 594.5,457.8 596.5,457.5 598.5,457.7 600.5,457.7 602.5,457.7 604.5,457.8 606.5,457.9 608.5,458.2 610.5,458.2 612.5,458 614.5,458.5 616.5,458.4 618.5,458.4 620.5,458.3 622.5,458.4 624.5,458.7 626.5,458.4 628.5,458.5 630.5,458.8 632.5,458.5 634.5,458.8 636.5,458.3 638.5,458.7 640.5,458.4 642.5,458.5 644.5,458.4 646.5,458.8 648.5,458.9 650.5,458.8 652.5,458.6 654.5,458.4 656.5,458.7 658.5,458.9 660.5,458.8 662.5,458.4 664.5,459 666.5,458.9 668.5,458.7 670.5,458.4 672.5,458.8 674.5,458.8 676.5,458.4 678.5,458.6 680.5,458.4 682.5,458.4 684.5,458.8 686.5,458.8 688.5,458.6 690.5,458.5 692.5,458.6 694.5,458.5 696.5,458.7 698.5,458.6 700.5,458.9 702.5,458.4 704.5,458.5 706.5,458.8 708.5,458.7 710.5,458.4 712.5,458.6 714.5,458.6 716.5,458.9 718.5,458.5 720.5,458.8 722.5,458.8 724.5,458.6 726.5,458.4 728.5,458.7 730.5,458.5 732.5,458.5 734.5,463.6 734.7,463.5 735,464.1 735.2,463.7 735.5,463.7 735.7,463.7 736,464.2 736.2,464.2 736.5,463.7 736.7,463.7 737,463.6 737.2,463.7 737.5,463.5 737.7,463.5 738,463.5 738.2,463.2 738.5,463 738.7,463.3 739,463.2 739.2,462.7 739.5,462.9 740.3,463 741.1,462.6 741.9,462.5 742.7,462.5 743.5,461.9 744.3,461.9 745.1,461.7 745.9,462 746.7,461.8 747.5,461.9 748.3,461.7 749.1,461.4 749.9,461.6 750.7,461.3 751.5,461.4 752.3,461.4 753.1,461.4 753.9,461.1 754.7,461.4 755.5,461.2 756.3,461.3 757.1,460.9 757.9,461.2 758.7,460.9" stroke-width="2" />
<polyline points="465,460.3 467,460.4 469,460.1 469.2,460.2 469.5,460.3 469.8,457.4 470,455.4 470.2,453.7 470.5,452.3 470.8,451.1 471,450.2 471.2,450.1 471.5,449.5 471.8,449.5 472,449.3 472.2,449.4 472.5,448.9 472.8,449.1 473,449.1 473.2,449.2 473.5,449.2 473.8,449.6 474,449.5 474.2,449.7 474.5,449.6 474.8,449.9 475,450.1 475.2,449.9 475.5,450.2 476.3,450.5 477.1,451 477.9,451 478.7,451.8 479.5,451.7 480.3,452.2 481.1,451.9 481.9,452.4 482.7,452.7 483.5,452.5 484.3,452.6 485.1,452.8 485.9,452.7 486.7,452.8 487.5,453.2 488.3,453.1 489.1,453.1 489.9,453.1 490.7,453.3 491.5,453.3 492.3,453.1 493.1,453.1 493.9,453.2 494.7,453 495.5,453.2 496.3,453.1 497.1,453.4 497.9,453.2 498.7,453.2 499.5,453.2 501.5,453.2 503.5,453.2 505.5,453.6 507.5,453.4 509.5,453.4 511.5,453.3 513.5,453.7 515.5,453.5 517.5,453.2 519.5,453.5 521.5,453.1 523.5,453.7 525.5,453.5 527.5,453.2 529.5,453.4 531.5,453.6 533.5,453.6 535.5,453.6 537.5,441.5 537.8,439.9 538,439.2 538.3,438.3 538.5,437.4 538.8,436.8 539,436.7 539.3,436.6 539.5,436.1 539.8,436.1 540,435.7 540.3,436.1 540.5,436.1 540.8,435.8 541,436.1 541.3,436.2 541.5,436.1 541.8,436.5 542,436.1 542.3,436.4 542.5,436.4 543.3,437.3 544.1,437.7 544.9,437.9 545.7,438.7 546.5,439.1 547.3,439.6 548.1,440 548.9,440.5 549.7,441 550.5,441.3 551.3,441.7 552.1,442 552.9,442.7 553.7,443.2 554.5,443.2 555.3,443.8 556.1,444 556.9,444.3 557.7,444.5 558.5,444.9 559.3,445.6 560.1,445.6 560.9,446 561.7,446.4 562.5,446.5 563.3,447 564.1,447.2 564.9,447.4 565.7,447.9 566.5,448.1 568.5,448.9 570.5,449.1 572.5,449.9 574.5,450.3 576.5,450.8 578.5,450.9 580.5,451.4 582.5,451.9 584.5,452 586.5,452.4 588.5,453.1 590.5,453 592.5,453.6 594.5,453.6 596.5,454 598.5,454.2 600.5,454.3 602.5,454.6 604.5,454.7 606.5,455.3 608.5,455.1 610.5,455.1 612.5,455.6 614.5,455.4 616.5,455.9 618.5,456 620.5,456.2 622.5,456 624.5,456.3 626.5,456.4 628.5,456.5 630.5,456.4 632.5,456.7 634.5,456.7 636.5,456.5 638.5,456.6 640.5,456.9 642.5,457 644.5,456.7 646.5,457.1 648.5,457.1 650.5,457 652.5,456.9 654.5,456.9 656.5,456.9 658.5,457.2 660.5,457.1 662.5,456.9 664.5,456.9 666.5,457.3 668.5,457 670.5,457 672.5,457.2 674.5,457 676.5,457.2 678.5,457.1 680.5,457.5 682.5,457.3 684.5,457.3 686.5,457.3 688.5,457 690.5,457.6 692.5,457.6 694.5,457.1 696.5,457.4 698.5,457.6 700.5,457.6 702.5,457.7 704.5,457.6 706.5,457.6 708.5,457.2 710.5,457.7 712.5,457.7 714.5,457.5 716.5,457.7 718.5,457.3 720.5,457.4 722.5,457.2 724.5,457.4 726.5,457.7 728.5,457.6 730.5,457.4 732.5,457.4 734.5,464.7 734.7,465.3 735,465.6 735.2,465.9 735.5,466 735.7,465.9 736,466 736.2,465.9 736.5,465.9 736.7,465.8 737,465.9 737.2,465.8 737.5,465.5 737.7,465.5 738,465.1 738.2,464.9 738.5,464.8 738.7,464.6 739,464.9 739.2,464.9 739.5,464.6 740.3,464 741.1,463.6 741.9,463.8 742.7,463.4 743.5,462.9 744.3,463.2 745.1,462.9 745.9,462.9 746.7,462.7 747.5,462.5 748.3,462.4 749.1,462.3 749.9,461.8 750.7,461.8 751.5,461.8 752.3,461.8 753.1,461.4 753.9,461.4 754.7,461.7 755.5,461.8 756.3,461.4 757.1,461.6 757.9,461.6 758.7,461.6" stroke-width="2" />
<polyline points="465,460 467,460.1 469,460.3 469.2,460.4 469.5,460.4 469.8,457.1 470,455.3 470.2,453.2 470.5,452.1 470.8,451 471,450.5 471.2,449.8 471.5,449.7 471.8,449.3 472,449.4 472.2,449 472.5,449.4 472.8,448.9 473,448.9 473.2,449.2 473.5,449.3 473.8,449.6 474,449.3 474.2,449.5 474.5,449.6 474.8,449.9 475,450.2 475.2,450.2 475.5,450.1 476.3,450.6 477.1,451.1 477.9,451.3 478.7,451.3 479.5,451.7 480.3,451.7 481.1,452.1 481.9,452.1 482.7,452.3 483.5,452.5 484.3,452.9 485.1,452.5 485.9,452.6 486.7,452.7 487.5,452.9 488.3,453 489.1,453.3 489.9,453.2 490.7,453 491.5,453 492.3,453.2 493.1,453.4 493.9,453.1 494.7,453.4 495.5,453.2 496.3,453.6 497.1,453.6 497.9,453.1 498.7,453.5 499.5,453.4 501.5,453.3 503.5,453.4 505.5,453.6 507.5,453.4 509.5,453.4 511.5,453.4 513.5,453.1 515.5,453.6 517.5,453.2 519.5,453.6 521.5,453.1 523.5,453.4 525.5,453.3 527.5,453.5 529.5,453.5 531.5,453.5 533.5,453.6 535.5,453.7 537.5,438.4 537.8,436.8 538,435.6 538.3,434.8 538.5,433.6 538.8,432.7 539,432.3 539.3,431.8 539.5,431.3 539.8,431.5 540,431 540.3,431.1 540.5,430.6 540.8,430.7 541,430.6 541.3,431 541.5,430.8 541.8,430.9 542,430.7 542.3,431 542.5,431 543.3,431.6 544.1,431.7 544.9,432.5 545.7,432.5 546.5,433.1 547.3,433.4 548.1,433.8 548.9,434 549.7,434.4 550.5,435.3 551.3,435.7 552.1,435.8 552.9,435.9 553.7,436.3 554.5,436.7 555.3,436.9 556.1,437.4 556.9,437.7 557.7,438.1 558.5,438.7 559.3,438.8 560.1,439.4 560.9,439.3 561.7,439.4 562.5,440.2 563.3,440.4 564.1,440.7 564.9,440.8 565.7,441.3 566.5,441.1 568.5,442.1 570.5,442.7 572.5,443.2 574.5,443.8 576.5,444.2 578.5,444.7 580.5,445.2 582.5,445.7 584.5,446.3 586.5,446.4 588.5,447 590.5,447.2 592.5,447.5 594.5,448.1 596.5,448 598.5,448.9 600.5,448.7 602.5,449 604.5,449.6 606.5,449.7 608.5,449.9 610.5,450.2 612.5,450.7 614.5,450.7 616.5,450.8 618.5,451.3 620.5,451.1 622.5,451.2 624.5,451.7 626.5,451.9 628.5,452.1 630.5,452 632.5,452.3 634.5,452.1 636.5,452.3 638.5,452.8 640.5,452.9 642.5,453 644.5,452.9 646.5,453.1 648.5,453 650.5,453.1 652.5,453.5 654.5,453.5 656.5,453.7 658.5,453.3 660.5,453.5 662.5,453.9 664.5,453.9 666.5,453.9 668.5,454 670.5,453.7 672.5,454 674.5,453.7 676.5,454 678.5,453.8 680.5,454.1 682.5,454 684.5,454.1 686.5,454.3 688.5,454.4 690.5,454.5 692.5,454.6 694.5,454.2 696.5,454.3 698.5,454.4 700.5,454.3 702.5,454.7 704.5,454.7 706.5,454.6 708.5,454.6 710.5,454.4 712.5,454.4 714.5,454.8 716.5,454.4 718.5,454.9 720.5,454.4 722.5,454.5 724.5,454.8 726.5,454.9 728.5,454.5 730.5,455 732.5,454.7 734.5,478 734.7,479.7 735,480.4 735.2,481.2 735.5,481.4 735.7,481.6 736,481.5 736.2,481.3 736.5,480.8 736.7,480.5 737,480.2 737.2,479.7 737.5,479.1 737.7,478.9 738,478.5 738.2,477.6 738.5,477.2 738.7,477 739,476.5 739.2,476 739.5,475.7 740.3,474.2 741.1,473.2 741.9,472.3 742.7,471.4 743.5,470.5 744.3,469.4 745.1,468.7 745.9,468.2 746.7,467.8 747.5,466.9 748.3,466.7 749.1,465.9 749.9,465.5 750.7,465.4 751.5,464.7 752.3,464.7 753.1,464.3 753.9,463.7 754.7,463.7 755.5,463.5 756.3,463 757.1,463 757.9,462.9 758.7,462.7" stroke-width="2" />
<polyline points="465,460.5 467,460.1 469,460.4 469.2,460.1 469.5,460.3 469.8,457.1 470,455.2 470.2,453.6 470.5,452.4 470.8,451 471,450.7 471.2,449.8 471.5,449.9 471.8,449.3 472,449.4 472.2,448.9 472.5,449.4 472.8,449.2 473,449 473.2,449.5 473.5,449.5 473.8,449.6 474,449.5 474.2,449.5 474.5,449.9 474.8,450.1 475,450.2 475.2,450.3 475.5,450 476.3,450.6 477.1,450.8 477.9,451.3 478.7,451.6 479.5,451.8 480.3,451.7 481.1,452 481.9,452.2 482.7,452.4 483.5,452.4 484.3,452.5 485.1,452.6 485.9,452.8 486.7,453.1 487.5,452.8 488.3,453.3 489.1,453.2 489.9,453.3 490.7,453.4 491.5,453.3 492.3,453.5 493.1,453 493.9,453.3 494.7,453.2 495.5,453.1 496.3,453.2 497.1,453.4 497.9,453.1 498.7,453.1 499.5,453.5 501.5,453.5 503.5,453.1 505.5,453.2 507.5,453.1 509.5,453.4 511.5,453.7 513.5,453.2 515.5,453.4 517.5,453.4 519.5,453.5 521.5,453.5 523.5,453.5 525.5,453.2 527.5,453.7 529.5,453.6 531.5,453.2 533.5,453.1 535.5,453.6 537.5,434.9 537.8,432.5 538,431 538.3,429.3 538.5,428 538.8,426.7 539,426.2 539.3,425.4 539.5,424.9 539.8,424.4 540,424.4 540.3,423.8 540.5,423.4 540.8,423.4 541,423.6 541.3,423.3 541.5,423.2 541.8,423.5 542,423.5 542.3,423.2 542.5,423 543.3,423.3 544.1,423.3 544.9,424 545.7,424.2 546.5,424.2 547.3,424.7 548.1,425.1 548.9,425.4 549.7,425.2 550.5,425.6 551.3,426 552.1,426.1 552.9,426.4 553.7,426.6 554.5,426.9 555.3,427.2 556.1,427.3 556.9,427.5 557.7,427.8 558.5,428.3 559.3,428.1 560.1,428.6 560.9,428.6 561.7,429.3 562.5,428.9 563.3,429.4 564.1,430 564.9,430 565.7,429.9 566.5,430.5 568.5,430.8 570.5,431.1 572.5,431.6 574.5,432 576.5,432.6 578.5,433.1 580.5,433.9 582.5,434.3 584.5,434.5 586.5,434.9 588.5,435.3 590.5,435.8 592.5,435.9 594.5,436.4 596.5,436.5 598.5,436.8 600.5,437.2 602.5,437.6 604.5,437.8 606.5,438.3 608.5,438.2 610.5,438.7 612.5,439.1 614.5,439.5 616.5,439.8 618.5,439.8 620.5,440.2 622.5,440 624.5,440.8 626.5,440.9 628.5,441.2 630.5,441 632.5,441.4 634.5,441.5 636.5,442 638.5,442.2 640.5,442 642.5,442.6 644.5,442.4 646.5,442.5 648.5,442.9 650.5,443 652.5,443.4 654.5,443.1 656.5,443.7 658.5,443.7 660.5,443.6 662.5,443.7 664.5,444.1 666.5,443.9 668.5,444.1 670.5,444.1 672.5,444.4 674.5,444.9 676.5,444.9 678.5,444.9 680.5,445 682.5,445.1 684.5,445.3 686.5,445.4 688.5,445.6 690.5,445.7 692.5,445.4 694.5,445.8 696.5,445.5 698.5,445.5 700.5,445.9 702.5,445.6 704.5,446.2 706.5,446.3 708.5,446.3 710.5,446 712.5,446.3 714.5,446 716.5,446.3 718.5,446.6 720.5,446.3 722.5,446.3 724.5,446.5 726.5,446.6 728.5,446.6 730.5,446.6 732.5,446.5 734.5,499.3 734.7,502.6 735,504.9 735.2,506 735.5,507.1 735.7,507.2 736,506.9 736.2,506.4 736.5,506.1 736.7,505.1 737,504.3 737.2,503.6 737.5,502.4 737.7,501.7 738,500.6 738.2,500.2 738.5,499.2 738.7,497.9 739,497 739.2,496.4 739.5,495.5 740.3,492.8 741.1,490.4 741.9,488 742.7,486 743.5,483.9 744.3,482.1 745.1,480.6 745.9,478.9 746.7,477.7 747.5,476.3 748.3,475.2 749.1,474.3 749.9,473.5 750.7,472.4 751.5,471.6 752.3,470.6 753.1,470 753.9,469.3 754.7,468.3 755.5,467.9 756.3,467.2 757.1,467.1 757.9,466.4 758.7,466" stroke-width="2" />
<polyline points="465,460 467,460.5 469,460.1 469.2,460 469.5,460.1 469.8,457.2 470,455 470.2,453.6 470.5,452.1 470.8,450.9 471,450.8 471.2,449.8 471.5,449.8 471.8,449.7 472,449.3 472.2,449.3 472.5,448.8 472.8,448.9 473,449.4 473.2,449.4 473.5,449.1 473.8,449.3 474,449.3 474.2,449.8 474.5,449.9 474.8,449.8 475,450.1 475.2,450.1 475.5,450.1 476.3,450.7 477.1,450.7 477.9,451.4 478.7,451.8 479.5,451.6 480.3,451.9 481.1,452.2 481.9,452.4 482.7,452.6 483.5,452.5 484.3,452.8 485.1,452.7 485.9,453 486.7,452.9 487.5,453 488.3,453.3 489.1,452.9 489.9,453.1 490.7,453.1 491.5,452.9 492.3,453.4 493.1,453 493.9,453.1 494.7,453.1 495.5,453.5 496.3,453.4 497.1,453.2 497.9,453.3 498.7,453.2 499.5,453.3 501.5,453.1 503.5,453.2 505.5,453.7 507.5,453.3 509.5,453.5 511.5,453.5 513.5,453.4 515.5,453.5 517.5,453.5 519.5,453.4 521.5,453.6 523.5,453.3 525.5,453.2 527.5,453.4 529.5,453.6 531.5,453.4 533.5,453.1 535.5,453.4 537.5,431.4 537.8,428.3 538,426.3 538.3,424.3 538.5,423 538.8,421.8 539,420.5 539.3,419.6 539.5,419 539.8,418.8 540,417.7 540.3,417.5 540.5,417.1 540.8,417 541,417 541.3,416.7 541.5,416.5 541.8,416.2 542,416.3 542.3,416.4 542.5,416.1 543.3,415.9 544.1,416.5 544.9,416.3 545.7,416.7 546.5,416.6 547.3,416.6 548.1,416.6 548.9,417.2 549.7,417.3 550.5,417.3 551.3,417.1 552.1,417.4 552.9,417.6 553.7,417.6 554.5,417.9 555.3,418.1 556.1,418 556.9,418.4 557.7,418.7 558.5,418.8 559.3,418.9 560.1,418.7 560.9,418.8 561.7,419.1 562.5,419.5 563.3,419.2 564.1,419.2 564.9,419.8 565.7,419.4 566.5,419.8 568.5,420.4 570.5,420.4 572.5,420.3 574.5,420.8 576.5,421.3 578.5,421.5 580.5,421.4 582.5,421.8 584.5,422.1 586.5,422.1 588.5,422.3 590.5,422.6 592.5,422.9 594.5,423.4 596.5,423.2 598.5,423.8 600.5,423.4 602.5,423.9 604.5,423.8 606.5,424 608.5,424.3 610.5,424.7 612.5,424.8 614.5,424.7 616.5,425.1 618.5,425.3 620.5,425.5 622.5,425.5 624.5,425.3 626.5,425.9 628.5,426.1 630.5,426.2 632.5,426.2 634.5,426 636.5,426.5 638.5,426.4 640.5,426.6 642.5,426.9 644.5,426.5 646.5,426.5 648.5,427.2 650.5,427.2 652.5,426.9 654.5,427.2 656.5,427.5 658.5,427.4 660.5,427.5 662.5,427.8 664.5,427.3 666.5,427.6 668.5,427.5 670.5,428.1 672.5,427.9 674.5,427.8 676.5,428.3 678.5,428.3 680.5,428.1 682.5,428.5 684.5,428.1 686.5,428.5 688.5,428.7 690.5,428.3 692.5,428.6 694.5,428.8 696.5,428.8 698.5,428.5 700.5,428.6 702.5,428.5 704.5,428.8 706.5,429.1 708.5,428.8 710.5,429.2 712.5,428.8 714.5,429 716.5,429.1 718.5,429.3 720.5,429.4 722.5,429.1 724.5,429.1 726.5,429.4 728.5,429.4 730.5,429.5 732.5,429.2 734.5,515 734.7,520.8 735,524.6 735.2,526.9 735.5,528.5 735.7,528.7 736,529.1 736.2,528.5 736.5,528 736.7,527 737,525.8 737.2,524.6 737.5,523.5 737.7,522.1 738,520.8 738.2,519.8 738.5,518.2 738.7,517.4 739,515.8 739.2,514.5 739.5,513.1 740.3,509.4 741.1,505.9 741.9,502.5 742.7,499.5 743.5,497.1 744.3,494.5 745.1,492 745.9,489.8 746.7,487.5 747.5,485.8 748.3,483.8 749.1,482 749.9,480.3 750.7,479.1 751.5,478 752.3,476.8 753.1,475.6 753.9,474.3 754.7,473.4 755.5,472.7 756.3,471.7 757.1,471 757.9,470.3 758.7,469.5" stroke-width="2" />
<polyline points="465,460.4 467,460.1 469,460.4 469.2,460.2 469.5,460 469.8,457.5 470,455.3 470.2,453.6 470.5,452.2 470.8,451.1 471,450.7 471.2,450.1 471.5,449.7 471.8,449.6 472,448.9 472.2,449.3 472.5,449.3 472.8,448.9 473,448.9 473.2,449.5 473.5,449.2 473.8,449.5 474,449.8 474.2,449.5 474.5,449.8 474.8,449.6 475,450.2 475.2,450.4 475.5,450.2 476.3,450.8 477.1,450.8 477.9,451.4 478.7,451.7 479.5,451.9 480.3,451.7 481.1,452 481.9,452.4 482.7,452.6 483.5,452.6 484.3,452.8 485.1,452.7 485.9,452.9 486.7,452.8 487.5,452.8 488.3,453.2 489.1,453.1 489.9,453 490.7,453 491.5,453.1 492.3,453.2 493.1,453 493.9,453.2 494.7,453.2 495.5,453.2 496.3,453.2 497.1,453 497.9,453.6 498.7,453.2 499.5,453.5 501.5,453.6 503.5,453.3 505.5,453.3 507.5,453.5 509.5,453.7 511.5,453.4 513.5,453.5 515.5,453.2 517.5,453.3 519.5,453.4 521.5,453.5 523.5,453.3 525.5,453.5 527.5,453.6 529.5,453.2 531.5,453.4 533.5,453.2 535.5,453.3 537.5,436.4 537.8,434.1 538,431.5 538.3,429.9 538.5,428.1 538.8,426.7 539,424.9 539.3,423.9 539.5,422.6 539.8,422.1 540,421.2 540.3,420.2 540.5,420 540.8,419.4 541,418.5 541.3,418 541.5,418 541.8,417.4 542,417.4 542.3,416.8 542.5,416.9 543.3,416.1 544.1,415.9 544.9,415.6 545.7,415.8 546.5,415.5 547.3,415.7 548.1,415.8 548.9,416.1 549.7,416.4 550.5,416.3 551.3,416.8 552.1,416.4 552.9,416.9 553.7,416.9 554.5,416.9 555.3,417.2 556.1,417.3 556.9,417.6 557.7,417.7 558.5,418 559.3,418.2 560.1,418.1 560.9,418.4 561.7,418.5 562.5,418.3 563.3,418.9 564.1,419 564.9,419 565.7,419 566.5,419.4 568.5,419.7 570.5,419.8 572.5,419.7 574.5,420.3 576.5,420.3 578.5,420.7 580.5,421 582.5,421 584.5,421.1 586.5,421.5 588.5,421.8 590.5,421.9 592.5,422.2 594.5,422.5 596.5,422.6 598.5,422.4 600.5,422.6 602.5,422.8 604.5,422.7 606.5,423.3 608.5,423.3 610.5,423.5 612.5,423.2 614.5,423.4 616.5,423.5 618.5,423.4 620.5,423.5 622.5,423.9 624.5,424.1 626.5,423.6 628.5,423.9 630.5,424 632.5,424.1 634.5,424 636.5,424 638.5,424.2 640.5,424.1 642.5,424.2 644.5,424.2 646.5,424.7 648.5,424.6 650.5,424.6 652.5,424.5 654.5,424.7 656.5,424.6 658.5,424.9 660.5,424.9 662.5,424.6 664.5,424.8 666.5,424.7 668.5,425.1 670.5,424.7 672.5,424.6 674.5,424.8 676.5,425.2 678.5,425 680.5,425.1 682.5,425 684.5,425.1 686.5,425 688.5,425.1 690.5,425.2 692.5,425.3 694.5,425.4 696.5,425.2 698.5,425.3 700.5,424.9 702.5,425 704.5,425.4 706.5,424.9 708.5,425.2 710.5,425 712.5,425.2 714.5,425.1 716.5,425.5 718.5,425 720.5,425.4 722.5,425.5 724.5,425.2 726.5,425.4 728.5,425.3 730.5,425.1 732.5,425.3 734.5,514.6 734.7,520.9 735,524.9 735.2,527.5 735.5,529.4 735.7,529.9 736,530.2 736.2,529.6 736.5,528.8 736.7,528 737,526.9 737.2,526.1 737.5,524.3 737.7,523.1 738,521.9 738.2,520.7 738.5,519.3 738.7,517.9 739,516.9 739.2,515.7 739.5,514.3 740.3,510.3 741.1,506.8 741.9,503.3 742.7,500.1 743.5,497.3 744.3,494.7 745.1,492.5 745.9,489.9 746.7,488.1 747.5,485.7 748.3,484 749.1,482.2 749.9,481 750.7,479.2 751.5,478.1 752.3,476.8 753.1,475.7 753.9,474.6 754.7,473.4 755.5,472.9 756.3,471.8 757.1,470.8 757.9,470.3 758.7,469.6" stroke-width="2.6" />
<polyline points="465,460 467,459.9 469,460.2 469.2,460.3 469.5,460.1 469.8,457.4 470,455 470.2,453.6 470.5,452.4 470.8,451.2 471,450.8 471.2,449.9 471.5,449.6 471.8,449.1 472,449.2 472.2,449.3 472.5,449.3 472.8,449.1 473,449.1 473.2,449.3 473.5,449.1 473.8,449.4 474,449.8 474.2,449.4 474.5,449.5 474.8,449.9 475,450.1 475.2,450.1 475.5,450.2 476.3,450.9 477.1,451.3 477.9,451.6 478.7,451.3 479.5,451.7 480.3,451.8 481.1,452.4 481.9,452.4 482.7,452.5 483.5,452.3 484.3,452.8 485.1,453 485.9,452.7 486.7,452.8 487.5,452.7 488.3,453.2 489.1,452.9 489.9,452.9 490.7,453.4 491.5,453.3 492.3,453.2 493.1,453.1 493.9,453.5 494.7,453.2 495.5,453.4 496.3,453.4 497.1,453.2 497.9,453.6 498.7,453.3 499.5,453.2 501.5,453.2 503.5,453.1 505.5,453.3 507.5,453.6 509.5,453.5 511.5,453.3 513.5,453.3 515.5,453.6 517.5,453.6 519.5,453.3 521.5,453.2 523.5,453.3 525.5,453.6 527.5,453.4 529.5,453.5 531.5,453.5 533.5,453.6 535.5,453.4 537.5,435.7 537.8,433.6 538,431.2 538.3,429.7 538.5,427.9 538.8,426.5 539,425.2 539.3,424.2 539.5,423.2 539.8,422.4 540,421.6 540.3,420.6 540.5,420.3 540.8,419.5 541,419.4 541.3,418.9 541.5,418.6 541.8,418 542,417.8 542.3,417.6 542.5,417.4 543.3,417.5 544.1,417.3 544.9,416.9 545.7,416.9 546.5,417 547.3,417.2 548.1,416.9 548.9,417.6 549.7,417.2 550.5,417.3 551.3,417.8 552.1,417.7 552.9,418.1 553.7,418.2 554.5,418.2 555.3,418.4 556.1,418.7 556.9,418.6 557.7,418.9 558.5,419 559.3,419.3 560.1,418.9 560.9,419.2 561.7,419.1 562.5,419.2 563.3,419.7 564.1,419.7 564.9,419.7 565.7,419.8 566.5,419.9 568.5,420.6 570.5,420.6 572.5,420.8 574.5,421.1 576.5,421.3 578.5,421.5 580.5,421.5 582.5,422.2 584.5,422.2 586.5,422.4 588.5,422.7 590.5,422.4 592.5,422.5 594.5,422.8 596.5,422.9 598.5,423.1 600.5,423.3 602.5,423.7 604.5,423.7 606.5,423.9 608.5,423.9 610.5,424.3 612.5,424.3 614.5,424 616.5,424.4 618.5,424.7 620.5,424.7 622.5,424.6 624.5,424.6 626.5,424.5 628.5,424.7 630.5,424.7 632.5,424.7 634.5,425.2 636.5,425.1 638.5,425.1 640.5,425.4 642.5,425.2 644.5,425.6 646.5,425.3 648.5,425.3 650.5,425.4 652.5,425.9 654.5,425.9 656.5,425.5 658.5,426 660.5,425.5 662.5,425.9 664.5,425.8 666.5,425.7 668.5,426 670.5,425.8 672.5,426 674.5,426.2 676.5,426 678.5,426.3 680.5,426.3 682.5,425.9 684.5,426 686.5,425.9 688.5,426.1 690.5,426 692.5,426.1 694.5,426.1 696.5,426.3 698.5,426.2 700.5,426.6 702.5,426.5 704.5,426.3 706.5,426.4 708.5,426.2 710.5,426.2 712.5,426.6 714.5,426.2 716.5,426.4 718.5,426.3 720.5,426.3 722.5,426.3 724.5,426.3 726.5,426.8 728.5,426.4 730.5,426.6 732.5,426.4 734.5,515.4 734.7,521.4 735,525.2 735.2,528.1 735.5,529.4 735.7,530.1 736,530 736.2,529.3 736.5,528.7 736.7,528.2 737,527.2 737.2,525.7 737.5,524.8 737.7,523.5 738,521.9 738.2,520.8 738.5,519.5 738.7,518.1 739,516.6 739.2,515.2 739.5,514.1 740.3,510.2 741.1,506.8 741.9,503.3 742.7,500.2 743.5,497.3 744.3,494.5 745.1,492.1 745.9,490.1 746.7,487.7 747.5,486.1 748.3,484.3 749.1,482.3 749.9,480.7 750.7,479.4 751.5,478.2 752.3,476.9 753.1,475.4 753.9,474.4 754.7,473.3 755.5,472.9 756.3,471.6 757.1,470.9 757.9,470.4 758.7,469.4" stroke-width="2" />
<polyline points="465,460.3 467,459.9 469,460.1 469.2,459.9 469.5,460.4 469.8,457.2 470,455.3 470.2,453.6 470.5,452 470.8,451.1 471,450.7 471.2,450.1 471.5,449.6 471.8,449.2 472,449 472.2,449.1 472.5,449.1 472.8,449.2 473,449.4 473.2,449.4 473.5,449.4 473.8,449.5 474,449.6 474.2,449.4 474.5,449.5 474.8,449.9 475,450 475.2,450.4 475.5,450.1 476.3,450.5 477.1,450.8 477.9,451.4 478.7,451.7 479.5,451.5 480.3,451.9 481.1,452.3 481.9,452.4 482.7,452.6 483.5,452.4 484.3,452.8 485.1,452.7 485.9,453.1 486.7,452.7 487.5,453.2 488.3,453.3 489.1,453.1 489.9,452.9 490.7,453.1 491.5,453.1 492.3,453.4 493.1,453 493.9,453.2 494.7,453.2 495.5,453.3 496.3,453.4 497.1,453 497.9,453.2 498.7,453.1 499.5,453.3 501.5,453.4 503.5,453.5 505.5,453.5 507.5,453.2 509.5,453.7 511.5,453.1 513.5,453.2 515.5,453.5 517.5,453.5 519.5,453.3 521.5,453.5 523.5,453.4 525.5,453.3 527.5,453.3 529.5,453.4 531.5,453.2 533.5,453.5 535.5,453.2 537.5,434.3 537.8,432.3 538,430.3 538.3,428.7 538.5,427 538.8,426.3 539,424.9 539.3,424.3 539.5,423.7 539.8,423.4 540,423.2 540.3,422.4 540.5,422.3 540.8,421.9 541,422 541.3,421.4 541.5,421.8 541.8,421.4 542,421.2 542.3,421.6 542.5,421.5 543.3,421.4 544.1,421.5 544.9,421.3 545.7,421.4 546.5,421.7 547.3,421.6 548.1,421.5 548.9,421.9 549.7,421.9 550.5,422.2 551.3,422.3 552.1,422.4 552.9,422 553.7,422.4 554.5,422.5 555.3,422.3 556.1,422.5 556.9,422.5 557.7,423 558.5,422.8 559.3,422.8 560.1,423.3 560.9,423.1 561.7,423.4 562.5,423.5 563.3,423.5 564.1,423.3 564.9,423.4 565.7,423.9 566.5,423.7 568.5,423.8 570.5,424.1 572.5,424 574.5,424.6 576.5,424.8 578.5,425.1 580.5,424.8 582.5,425.2 584.5,425.5 586.5,425.6 588.5,425.5 590.5,425.9 592.5,425.8 594.5,425.9 596.5,426.1 598.5,425.9 600.5,426.2 602.5,426.4 604.5,426.6 606.5,426.6 608.5,426.6 610.5,427 612.5,426.6 614.5,426.7 616.5,426.9 618.5,427.4 620.5,427.1 622.5,427.2 624.5,427.5 626.5,427.2 628.5,427.6 630.5,427.3 632.5,427.6 634.5,427.9 636.5,427.8 638.5,427.6 640.5,427.7 642.5,428.1 644.5,427.8 646.5,428.2 648.5,428 650.5,427.8 652.5,428.3 654.5,428.3 656.5,428.3 658.5,428 660.5,428.2 662.5,428.3 664.5,428.6 666.5,428.2 668.5,428.4 670.5,428.4 672.5,428.6 674.5,428.5 676.5,428.5 678.5,428.6 680.5,428.7 682.5,428.4 684.5,428.6 686.5,428.6 688.5,428.6 690.5,428.7 692.5,428.7 694.5,428.7 696.5,429 698.5,428.7 700.5,429.2 702.5,428.7 704.5,428.8 706.5,429.1 708.5,429.1 710.5,428.9 712.5,428.9 714.5,429.1 716.5,429 718.5,429.2 720.5,429.3 722.5,428.9 724.5,429.2 726.5,428.9 728.5,429.2 730.5,429.4 732.5,429.2 734.5,515.9 734.7,521.5 735,525.4 735.2,528 735.5,529.2 735.7,529.9 736,529.8 736.2,529.4 736.5,528.9 736.7,527.7 737,526.7 737.2,525.4 737.5,524.6 737.7,523 738,521.7 738.2,520.8 738.5,519.2 738.7,517.9 739,516.5 739.2,515.4 739.5,514.3 740.3,510.2 741.1,506.4 741.9,503.1 742.7,500.3 743.5,497.3 744.3,494.9 745.1,492 745.9,490 746.7,487.7 747.5,485.7 748.3,484.1 749.1,482.2 749.9,480.6 750.7,479.3 751.5,477.9 752.3,476.5 753.1,475.9 753.9,474.4 754.7,473.4 755.5,472.4 756.3,471.5 757.1,470.8 757.9,470 758.7,469.6" stroke-width="2" />
<polyline points="465,460.3 467,460.4 469,460.1 469.2,460.4 469.5,460.3 469.8,457.1 470,455 470.2,453.3 470.5,452.4 470.8,451.4 471,450.3 471.2,449.8 471.5,449.4 471.8,449.5 472,449.2 472.2,449.4 472.5,449.3 472.8,449 473,449 473.2,449.2 473.5,449.3 473.8,449.6 474,449.4 474.2,449.9 474.5,449.8 474.8,449.8 475,450.3 475.2,450.1 475.5,450.4 476.3,450.9 477.1,451.2 477.9,451.6 478.7,451.5 479.5,451.9 480.3,452.2 481.1,452 481.9,452.3 482.7,452.7 483.5,452.7 484.3,452.5 485.1,452.9 485.9,452.6 486.7,452.8 487.5,453 488.3,452.9 489.1,452.8 489.9,453.2 490.7,453.2 491.5,453.3 492.3,453 493.1,453 493.9,453 494.7,453.3 495.5,453 496.3,453.1 497.1,453.3 497.9,453.2 498.7,453.4 499.5,453.1 501.5,453.4 503.5,453.3 505.5,453.2 507.5,453.6 509.5,453.6 511.5,453.7 513.5,453.2 515.5,453.1 517.5,453.5 519.5,453.6 521.5,453.3 523.5,453.3 525.5,453.6 527.5,453.4 529.5,453.5 531.5,453.5 533.5,453.4 535.5,453.6 537.5,437.7 537.8,436 538,434 538.3,432.9 538.5,432.1 538.8,430.9 539,430.3 539.3,429.6 539.5,429.3 539.8,428.4 540,428.1 540.3,427.8 540.5,428 540.8,427.8 541,427.2 541.3,427.1 541.5,427 541.8,427.1 542,427.1 542.3,426.8 542.5,427.1 543.3,426.8 544.1,426.8 544.9,426.8 545.7,426.9 546.5,426.7 547.3,426.7 548.1,427.3 548.9,427 549.7,427.1 550.5,427.5 551.3,427.2 552.1,427.1 552.9,427.7 553.7,427.4 554.5,427.6 555.3,427.5 556.1,427.5 556.9,427.6 557.7,428 558.5,427.9 559.3,428 560.1,428.1 560.9,428.1 561.7,428.2 562.5,427.9 563.3,428 564.1,428.2 564.9,428.5 565.7,428.2 566.5,428.6 568.5,428.7 570.5,428.8 572.5,428.5 574.5,428.6 576.5,429.2 578.5,428.9 580.5,428.9 582.5,429.3 584.5,429.5 586.5,429.7 588.5,429.7 590.5,429.7 592.5,429.7 594.5,430.1 596.5,429.8 598.5,430 600.5,429.8 602.5,430.2 604.5,430.3 606.5,430.3 608.5,430.3 610.5,430.2 612.5,430.6 614.5,430.3 616.5,430.8 618.5,430.8 620.5,431 622.5,430.9 624.5,431 626.5,430.8 628.5,431.2 630.5,431.1 632.5,431.1 634.5,431.1 636.5,431.4 638.5,431.3 640.5,431.3 642.5,431.4 644.5,431.5 646.5,431.7 648.5,431.2 650.5,431.7 652.5,431.4 654.5,431.5 656.5,431.7 658.5,431.8 660.5,431.6 662.5,431.6 664.5,431.7 666.5,431.7 668.5,431.7 670.5,431.7 672.5,431.5 674.5,432.1 676.5,431.8 678.5,432.2 680.5,432 682.5,431.7 684.5,431.8 686.5,431.9 688.5,431.8 690.5,431.8 692.5,432.2 694.5,432.1 696.5,431.9 698.5,432.1 700.5,432.3 702.5,432.4 704.5,432.1 706.5,432 708.5,431.9 710.5,432.3 712.5,432.3 714.5,432.6 716.5,432.1 718.5,432 720.5,432.3 722.5,432.4 724.5,432.2 726.5,432.2 728.5,432.2 730.5,432.6 732.5,432.4 734.5,516.2 734.7,522 735,525.6 735.2,527.9 735.5,529.6 735.7,530.1 736,529.8 736.2,529.4 736.5,529 736.7,527.7 737,526.9 737.2,525.8 737.5,524.2 737.7,523.2 738,521.6 738.2,520.7 738.5,518.9 738.7,517.6 739,516.6 739.2,515.1 739.5,513.9 740.3,510.3 741.1,506.3 741.9,503 742.7,500.2 743.5,497.1 744.3,494.6 745.1,492 745.9,489.9 746.7,487.8 747.5,485.5 748.3,484.1 749.1,482.5 749.9,480.6 750.7,479.4 751.5,477.8 752.3,476.9 753.1,475.8 753.9,474.6 754.7,473.4 755.5,472.5 756.3,471.5 757.1,471.2 757.9,470.5 758.7,469.6" stroke-width="2" />
<polyline points="465,460.5 467,460.1 469,459.9 469.2,460.2 469.5,460.5 469.8,457.4 470,455.4 470.2,453.6 470.5,452.1 470.8,451.2 471,450.4 471.2,449.9 471.5,449.9 471.8,449.6 472,449.3 472.2,449.3 472.5,449 472.8,449.2 473,449.4 473.2,449 473.5,449.6 473.8,449.2 474,449.3 474.2,449.4 474.5,449.7 474.8,450 475,449.9 475.2,450.4 475.5,450.4 476.3,450.4 477.1,451.1 477.9,451.1 478.7,451.7 479.5,451.5 480.3,452.1 481.1,452.1 481.9,452.4 482.7,452.2 483.5,452.6 484.3,452.6 485.1,452.5 485.9,452.8 486.7,453.2 487.5,452.7 488.3,453.3 489.1,453 489.9,453.3 490.7,453.3 491.5,453.2 492.3,453.3 493.1,453.5 493.9,453.2 494.7,453.5 495.5,453.3 496.3,453.2 497.1,453.6 497.9,453.1 498.7,453.6 499.5,453.5 501.5,453.2 503.5,453.6 505.5,453.1 507.5,453.5 509.5,453.7 511.5,453.5 513.5,453.6 515.5,453.5 517.5,453.5 519.5,453.6 521.5,453.7 523.5,453.3 525.5,453.2 527.5,453.3 529.5,453.2 531.5,453.6 533.5,453.4 535.5,453.7 537.5,440.9 537.8,439.6 538,438.5 538.3,437.3 538.5,436.7 538.8,435.7 539,435 539.3,435 539.5,434.4 539.8,433.9 540,433.9 540.3,433.2 540.5,433.2 540.8,433.1 541,433.2 541.3,432.9 541.5,432.8 541.8,432.8 542,432.9 542.3,432.6 542.5,432.4 543.3,432.6 544.1,432.3 544.9,432.4 545.7,432.6 546.5,432.5 547.3,432.4 548.1,432.3 548.9,433 549.7,432.9 550.5,432.8 551.3,432.8 552.1,432.8 552.9,433.1 553.7,433.2 554.5,433.2 555.3,433.1 556.1,433.1 556.9,433.3 557.7,432.9 558.5,433.1 559.3,433.2 560.1,433.1 560.9,433.3 561.7,433.3 562.5,433.5 563.3,433.3 564.1,433.3 564.9,433.4 565.7,433.1 566.5,433.2 568.5,433.2 570.5,433.8 572.5,433.9 574.5,433.9 576.5,433.7 578.5,434 580.5,433.7 582.5,434 584.5,434.1 586.5,434.3 588.5,434 590.5,434.5 592.5,434.4 594.5,434.7 596.5,434.2 598.5,434.6 600.5,434.7 602.5,434.9 604.5,434.5 606.5,434.6 608.5,435 610.5,434.9 612.5,434.6 614.5,434.9 616.5,434.8 618.5,435.1 620.5,434.8 622.5,435.2 624.5,435 626.5,434.9 628.5,435 630.5,435.4 632.5,435.5 634.5,435.5 636.5,435 638.5,435.5 640.5,435.4 642.5,435.3 644.5,435.1 646.5,435.6 648.5,435.5 650.5,435.3 652.5,435.5 654.5,435.3 656.5,435.8 658.5,435.8 660.5,435.8 662.5,435.9 664.5,435.5 666.5,435.7 668.5,436 670.5,436 672.5,435.8 674.5,435.5 676.5,435.8 678.5,435.9 680.5,435.9 682.5,435.7 684.5,435.7 686.5,435.8 688.5,435.8 690.5,436.2 692.5,435.7 694.5,435.8 696.5,436.3 698.5,435.8 700.5,435.7 702.5,436 704.5,436.1 706.5,436.1 708.5,436.3 710.5,436.3 712.5,435.8 714.5,436.3 716.5,435.9 718.5,436.2 720.5,436.3 722.5,435.9 724.5,436.2 726.5,436.4 728.5,436.1 730.5,436.3 732.5,436.4 734.5,517.1 734.7,522.3 735,526.3 735.2,528.1 735.5,529.8 735.7,530 736,529.9 736.2,529.2 736.5,528.7 736.7,527.7 737,526.7 737.2,525.2 737.5,524 737.7,522.9 738,521.7 738.2,520.3 738.5,518.6 738.7,517.9 739,516.3 739.2,515.1 739.5,514.1 740.3,510.2 741.1,506.3 741.9,502.9 742.7,500 743.5,497.1 744.3,494.3 745.1,492.1 745.9,490 746.7,487.4 747.5,485.8 748.3,483.9 749.1,482 749.9,480.9 750.7,479 751.5,478 752.3,476.4 753.1,475.7 753.9,474.3 754.7,473.6 755.5,472.6 756.3,471.8 757.1,471.1 757.9,470 758.7,469.5" stroke-width="2" />
<polyline points="465,460.3 467,460.3 469,460.1 469.2,460.1 469.5,460.3 469.8,457.1 470,455.2 470.2,453.4 470.5,452.3 470.8,451.1 471,450.2 471.2,450.1 471.5,449.5 471.8,449.1 472,449 472.2,449.4 472.5,449.1 472.8,448.9 473,448.9 473.2,449.3 473.5,449.3 473.8,449.2 474,449.6 474.2,449.7 474.5,449.8 474.8,449.7 475,449.7 475.2,450.2 475.5,450 476.3,450.6 477.1,450.9 477.9,451.5 478.7,451.5 479.5,451.5 480.3,451.8 481.1,452.3 481.9,452.1 482.7,452.5 483.5,452.5 484.3,452.5 485.1,452.7 485.9,452.9 486.7,452.8 487.5,452.9 488.3,452.9 489.1,453.3 489.9,453.4 490.7,453.3 491.5,453.3 492.3,453.1 493.1,453.4 493.9,453.4 494.7,453.6 495.5,453.1 496.3,453 497.1,453.3 497.9,453.4 498.7,453.2 499.5,453.6 501.5,453.2 503.5,453.5 505.5,453.6 507.5,453.7 509.5,453.3 511.5,453.5 513.5,453.2 515.5,453.4 517.5,453.2 519.5,453.6 521.5,453.4 523.5,453.1 525.5,453.7 527.5,453.4 529.5,453.6 531.5,453.7 533.5,453.5 535.5,453.4 537.5,444.7 537.8,443.5 538,442.4 538.3,441.6 538.5,441.4 538.8,441 539,440.4 539.3,440 539.5,439.9 539.8,439.3 540,439.1 540.3,439.2 540.5,439.1 540.8,438.8 541,438.7 541.3,438.7 541.5,438.5 541.8,438.4 542,438.2 542.3,438.4 542.5,438.5 543.3,438.2 544.1,438.4 544.9,438.4 545.7,438.4 546.5,438.1 547.3,438.3 548.1,438.4 548.9,438.6 549.7,438.1 550.5,438.2 551.3,438.2 552.1,438.6 552.9,438.2 553.7,438.5 554.5,438.4 555.3,438.6 556.1,438.5 556.9,438.4 557.7,438.6 558.5,438.8 559.3,438.8 560.1,438.6 560.9,438.8 561.7,438.9 562.5,438.8 563.3,438.8 564.1,438.9 564.9,438.5 565.7,438.8 566.5,438.6 568.5,438.8 570.5,438.6 572.5,438.8 574.5,438.9 576.5,439.2 578.5,439.3 580.5,439.3 582.5,439.2 584.5,439.3 586.5,439.1 588.5,439 590.5,439.1 592.5,439.4 594.5,439.3 596.5,439.1 598.5,439.2 600.5,439.5 602.5,439.7 604.5,439.4 606.5,439.5 608.5,439.7 610.5,439.7 612.5,439.6 614.5,439.6 616.5,439.8 618.5,439.5 620.5,439.4 622.5,439.9 624.5,439.8 626.5,439.5 628.5,440 630.5,439.7 632.5,439.7 634.5,439.5 636.5,439.6 638.5,440 640.5,440 642.5,439.9 644.5,439.9 646.5,439.8 648.5,440.1 650.5,440.2 652.5,439.7 654.5,439.8 656.5,440.2 658.5,440.1 660.5,440.2 662.5,439.8 664.5,440 666.5,440 668.5,439.8 670.5,440.1 672.5,439.9 674.5,440.1 676.5,440.3 678.5,439.9 680.5,440.4 682.5,440.3 684.5,440.1 686.5,439.9 688.5,440.3 690.5,440.2 692.5,440.5 694.5,440.2 696.5,440.3 698.5,440.2 700.5,440.1 702.5,440.2 704.5,440.1 706.5,440.3 708.5,440.2 710.5,440.4 712.5,440.5 714.5,440.4 716.5,440.2 718.5,440.1 720.5,440.5 722.5,440.3 724.5,440.7 726.5,440.1 728.5,440.5 730.5,440.6 732.5,440.3 734.5,518 734.7,523 735,526.2 735.2,528.8 735.5,529.6 735.7,530.2 736,529.5 736.2,529.6 736.5,528.5 736.7,527.7 737,526.3 737.2,525 737.5,523.9 737.7,522.6 738,521.2 738.2,519.8 738.5,518.4 738.7,517.1 739,515.9 739.2,514.7 739.5,513.8 740.3,509.9 741.1,506.3 741.9,502.7 742.7,499.7 743.5,497.3 744.3,494.6 745.1,492.1 745.9,489.6 746.7,487.6 747.5,485.4 748.3,483.9 749.1,482.1 749.9,480.6 750.7,478.9 751.5,477.6 752.3,476.4 753.1,475.4 753.9,474.3 754.7,473.3 755.5,472.5 756.3,471.7 757.1,470.8 757.9,470 758.7,469.5" stroke-width="2" />
<polyline points="465,460.3 467,460.3 469,460.3 469.2,460 469.5,460.1 469.8,457.4 470,455.3 470.2,453.7 470.5,452.3 470.8,451.3 471,450.6 471.2,449.9 471.5,449.7 471.8,449.3 472,449.1 472.2,449 472.5,449.4 472.8,449.4 473,449.1 473.2,449.3 473.5,449.1 473.8,449.6 474,449.4 474.2,449.9 474.5,449.6 474.8,449.9 475,450.1 475.2,450.2 475.5,450.5 476.3,450.8 477.1,451 477.9,451.2 478.7,451.5 479.5,451.7 480.3,452.2 481.1,451.9 481.9,452.2 482.7,452.6 483.5,452.3 484.3,452.8 485.1,452.7 485.9,453.1 486.7,452.7 487.5,453.1 488.3,453.2 489.1,453 489.9,453.1 490.7,453.3 491.5,453.4 492.3,453.2 493.1,453.5 493.9,453.5 494.7,453.6 495.5,453.1 496.3,453.3 497.1,453.4 497.9,453.4 498.7,453.1 499.5,453.4 501.5,453.6 503.5,453.4 505.5,453.2 507.5,453.3 509.5,453.6 511.5,453.3 513.5,453.1 515.5,453.3 517.5,453.4 519.5,453.2 521.5,453.4 523.5,453.4 525.5,453.5 527.5,453.3 529.5,453.2 531.5,453.4 533.5,453.2 535.5,453.4 537.5,447.4 537.8,446.9 538,445.9 538.3,445.6 538.5,445.1 538.8,444.6 539,444.3 539.3,444.3 539.5,444.1 539.8,444 540,443.9 540.3,443.4 540.5,443.9 540.8,443.8 541,443.3 541.3,443.2 541.5,443.5 541.8,443 542,443.3 542.3,443.1 542.5,443.5 543.3,443 544.1,443.1 544.9,442.9 545.7,442.9 546.5,443.3 547.3,443.3 548.1,443 548.9,443.5 549.7,443 550.5,443.1 551.3,443.1 552.1,443.1 552.9,443.3 553.7,442.9 554.5,443.4 555.3,443.4 556.1,443.5 556.9,443.4 557.7,443.1 558.5,443.2 559.3,443.1 560.1,443.6 560.9,443.4 561.7,443.5 562.5,443.5 563.3,443.5 564.1,443.6 564.9,443.2 565.7,443.3 566.5,443.4 568.5,443.5 570.5,443.4 572.5,443.3 574.5,443.4 576.5,443.6 578.5,443.3 580.5,443.7 582.5,443.3 584.5,443.5 586.5,443.8 588.5,443.4 590.5,443.6 592.5,443.5 594.5,443.4 596.5,443.7 598.5,443.9 600.5,443.7 602.5,444 604.5,443.6 606.5,443.9 608.5,444 610.5,443.6 612.5,443.9 614.5,443.7 616.5,443.8 618.5,443.6 620.5,444.1 622.5,443.7 624.5,443.8 626.5,444.1 628.5,443.8 630.5,444 632.5,444 634.5,444.1 636.5,443.9 638.5,444.2 640.5,443.8 642.5,444.3 644.5,443.7 646.5,444.2 648.5,444 650.5,444.2 652.5,443.8 654.5,443.8 656.5,444.2 658.5,444 660.5,443.9 662.5,444.3 664.5,444.1 666.5,443.9 668.5,444.1 670.5,444.2 672.5,443.8 674.5,444.1 676.5,444.2 678.5,444 680.5,444.4 682.5,444.1 684.5,444.2 686.5,444.1 688.5,444.1 690.5,444.5 692.5,444.1 694.5,444.2 696.5,444.1 698.5,444.1 700.5,444.1 702.5,444.5 704.5,444.5 706.5,444 708.5,444.4 710.5,444.5 712.5,444.3 714.5,444.5 716.5,444.1 718.5,444.5 720.5,444.4 722.5,444.4 724.5,444.2 726.5,444.4 728.5,444.5 730.5,444.1 732.5,444 734.5,518.9 734.7,523.5 735,527.1 735.2,529 735.5,530 735.7,529.8 736,529.8 736.2,529 736.5,528.5 736.7,527.2 737,526 737.2,524.9 737.5,523.6 737.7,522.7 738,521.4 738.2,520 738.5,518.6 738.7,517.2 739,515.8 739.2,514.5 739.5,513.2 740.3,509.4 741.1,505.9 741.9,502.8 742.7,499.5 743.5,496.9 744.3,494.2 745.1,491.7 745.9,489.3 746.7,487.4 747.5,485.7 748.3,483.9 749.1,482.2 749.9,480.4 750.7,478.9 751.5,477.9 752.3,476.3 753.1,475.4 753.9,474.2 754.7,473.2 755.5,472.2 756.3,471.5 757.1,470.9 757.9,470.1 758.7,469.6" stroke-width="2" />
<polyline points="465,460.3 467,460.5 469,460 469.2,460.1 469.5,460.1 469.8,457.1 470,455 470.2,453.5 470.5,452.1 470.8,451.1 471,450.7 471.2,450.1 471.5,449.9 471.8,449.4 472,449.3 472.2,449.2 472.5,449.4 472.8,449 473,449.4 473.2,449.3 473.5,449.5 473.8,449.6 474,449.4 474.2,449.7 474.5,449.8 474.8,449.7 475,450 475.2,450.4 475.5,450.2 476.3,450.4 477.1,451.1 477.9,451.2 478.7,451.6 479.5,451.5 480.3,452 481.1,452.1 481.9,452.3 482.7,452.4 483.5,452.6 484.3,453 485.1,452.5 485.9,452.6 486.7,452.8 487.5,452.7 488.3,452.7 489.1,453.2 489.9,453.3 490.7,452.8 491.5,453 492.3,453 493.1,453.2 493.9,453.5 494.7,453 495.5,453.2 496.3,453.3 497.1,453.1 497.9,453.2 498.7,453.5 499.5,453.5 501.5,453.5 503.5,453.5 505.5,453.3 507.5,453.2 509.5,453.1 511.5,453.5 513.5,453.6 515.5,453.5 517.5,453.5 519.5,453.3 521.5,453.1 523.5,453.4 525.5,453.2 527.5,453.3 529.5,453.6 531.5,453.5 533.5,453.6 535.5,453.6 537.5,449.9 537.8,449.5 538,448.7 538.3,448.7 538.5,448.4 538.8,448.2 539,447.7 539.3,447.8 539.5,447.9 539.8,447.7 540,447.7 540.3,447.6 540.5,447.1 540.8,447.2 541,447.5 541.3,447.4 541.5,447.2 541.8,447.1 542,447.1 542.3,447.1 542.5,447 543.3,447.1 544.1,447.1 544.9,446.9 545.7,446.9 546.5,447.1 547.3,447.1 548.1,447.1 548.9,447.1 549.7,447 550.5,447.4 551.3,447 552.1,447.1 552.9,447 553.7,447.2 554.5,447 555.3,447.1 556.1,446.9 556.9,447 557.7,447.1 558.5,447.2 559.3,447.3 560.1,446.9 560.9,447 561.7,447 562.5,447.1 563.3,447.4 564.1,447.4 564.9,447.3 565.7,447.4 566.5,447.2 568.5,447.3 570.5,447 572.5,447.3 574.5,447.1 576.5,447.3 578.5,447.1 580.5,447.3 582.5,447.2 584.5,447.5 586.5,447.3 588.5,447.4 590.5,447.1 592.5,447.3 594.5,447.3 596.5,447.2 598.5,447.3 600.5,447 602.5,447.1 604.5,447.2 606.5,447.5 608.5,447.4 610.5,447.5 612.5,447.1 614.5,447.2 616.5,447.6 618.5,447.2 620.5,447.2 622.5,447.4 624.5,447.4 626.5,447.6 628.5,447.6 630.5,447.5 632.5,447.4 634.5,447.4 636.5,447.7 638.5,447.2 640.5,447.5 642.5,447.6 644.5,447.6 646.5,447.2 648.5,447.7 650.5,447.7 652.5,447.6 654.5,447.3 656.5,447.7 658.5,447.3 660.5,447.2 662.5,447.6 664.5,447.6 666.5,447.7 668.5,447.6 670.5,447.3 672.5,447.3 674.5,447.6 676.5,447.7 678.5,447.5 680.5,447.7 682.5,447.5 684.5,447.5 686.5,447.7 688.5,447.7 690.5,447.7 692.5,447.4 694.5,447.7 696.5,447.8 698.5,447.7 700.5,447.7 702.5,447.7 704.5,447.4 706.5,447.9 708.5,447.9 710.5,447.5 712.5,447.7 714.5,447.8 716.5,447.6 718.5,447.5 720.5,447.5 722.5,447.4 724.5,447.8 726.5,447.6 728.5,447.9 730.5,447.5 732.5,447.9 734.5,519.6 734.7,524.2 735,526.9 735.2,528.7 735.5,529.8 735.7,529.8 736,529.8 736.2,529 736.5,528.5 736.7,527.3 737,525.8 737.2,525.1 737.5,523.7 737.7,522.1 738,520.9 738.2,519.8 738.5,518.6 738.7,517 739,515.9 739.2,514.8 739.5,513.5 740.3,509.5 741.1,506.1 741.9,502.4 742.7,499.7 743.5,497 744.3,494 745.1,491.9 745.9,489.4 746.7,487.6 747.5,485.3 748.3,483.7 749.1,482 749.9,480.2 750.7,478.8 751.5,477.6 752.3,476.4 753.1,475.4 753.9,474.6 754.7,473.6 755.5,472.2 756.3,471.7 757.1,470.6 757.9,469.8 758.7,469.2" stroke-width="2" />
<polyline points="465,460.4 467,460.3 469,460.2 469.2,460.2 469.5,460.3 469.8,457.1 470,455.1 470.2,453.7 470.5,451.9 470.8,451.4 471,450.3 471.2,450 471.5,449.4 471.8,449.1 472,449 472.2,449.1 472.5,449.4 472.8,448.9 473,449.1 473.2,449.1 473.5,449.3 473.8,449.3 474,449.5 474.2,450 474.5,449.6 474.8,450.1 475,450.2 475.2,450.1 475.5,450.4 476.3,450.7 477.1,451.3 477.9,451 478.7,451.7 479.5,452 480.3,452.1 481.1,452.4 481.9,452 482.7,452.5 483.5,452.7 484.3,452.4 485.1,452.8 485.9,453 486.7,453 487.5,452.9 488.3,453.2 489.1,453.3 489.9,452.9 490.7,453 491.5,453.4 492.3,453.4 493.1,453.2 493.9,453.5 494.7,453.6 495.5,453.3 496.3,453.2 497.1,453.1 497.9,453 498.7,453.3 499.5,453.3 501.5,453.1 503.5,453.2 505.5,453.6 507.5,453.5 509.5,453.3 511.5,453.2 513.5,453.7 515.5,453.6 517.5,453.6 519.5,453.5 521.5,453.5 523.5,453.3 525.5,453.4 527.5,453.1 529.5,453.3 531.5,453.2 533.5,453.2 535.5,453.5 537.5,451.4 537.8,451.1 538,451.2 538.3,450.9 538.5,450.8 538.8,450.8 539,450.3 539.3,450.4 539.5,450.1 539.8,450.5 540,450.4 540.3,450 540.5,450.1 540.8,449.9 541,450.3 541.3,450.2 541.5,450 541.8,450.2 542,450.4 542.3,450.3 542.5,450 543.3,449.8 544.1,450 544.9,449.9 545.7,450.2 546.5,450 547.3,450.3 548.1,450 548.9,450.3 549.7,450.4 550.5,450.1 551.3,449.8 552.1,450.3 552.9,450.3 553.7,449.9 554.5,450.3 555.3,449.9 556.1,450 556.9,450 557.7,450 558.5,450.3 559.3,450.5 560.1,450.2 560.9,450.5 561.7,450 562.5,450 563.3,450.1 564.1,450.4 564.9,450.1 565.7,450.1 566.5,450.4 568.5,450.3 570.5,450.2 572.5,450.5 574.5,450.1 576.5,450.1 578.5,450.4 580.5,450.3 582.5,450.4 584.5,450.5 586.5,450.5 588.5,450.2 590.5,450.5 592.5,450.2 594.5,450.1 596.5,450.3 598.5,450.3 600.5,450.4 602.5,450.2 604.5,450.5 606.5,450.4 608.5,450.7 610.5,450.4 612.5,450.7 614.5,450.7 616.5,450.6 618.5,450.6 620.5,450.3 622.5,450.8 624.5,450.8 626.5,450.8 628.5,450.3 630.5,450.4 632.5,450.4 634.5,450.4 636.5,450.4 638.5,450.3 640.5,450.6 642.5,450.8 644.5,450.5 646.5,450.8 648.5,450.8 650.5,450.7 652.5,450.8 654.5,450.5 656.5,450.7 658.5,450.7 660.5,450.3 662.5,450.9 664.5,450.5 666.5,450.7 668.5,450.8 670.5,450.7 672.5,450.5 674.5,451 676.5,450.9 678.5,450.7 680.5,450.6 682.5,450.4 684.5,450.6 686.5,451 688.5,450.9 690.5,450.5 692.5,450.8 694.5,450.5 696.5,450.7 698.5,451 700.5,450.5 702.5,450.8 704.5,451 706.5,450.5 708.5,450.7 710.5,450.9 712.5,451 714.5,450.8 716.5,450.8 718.5,450.8 720.5,450.9 722.5,451.1 724.5,450.9 726.5,450.6 728.5,450.6 730.5,450.8 732.5,450.9 734.5,519.9 734.7,524 735,526.8 735.2,528.3 735.5,529.5 735.7,529.2 736,528.9 736.2,528.5 736.5,527.8 736.7,526.9 737,525.3 737.2,524.2 737.5,522.7 737.7,521.5 738,520.2 738.2,519.2 738.5,517.9 738.7,516.6 739,515.4 739.2,513.8 739.5,513 740.3,509 741.1,505.3 741.9,502.4 742.7,499 743.5,496.1 744.3,493.9 745.1,491.2 745.9,489.4 746.7,487.3 747.5,485.1 748.3,483.7 749.1,481.8 749.9,480.3 750.7,478.7 751.5,477.8 752.3,476.4 753.1,475.1 753.9,474 754.7,473.1 755.5,472.2 756.3,471.7 757.1,470.7 757.9,470.1 758.7,469.5" stroke-width="2" />
<polyline points="465,459.9 467,460.3 469,460.4 469.2,459.9 469.5,460.5 469.8,457.3 470,454.9 470.2,453.8 470.5,452.1 470.8,451.4 471,450.8 471.2,449.7 471.5,449.5 471.8,449.4 472,449.1 472.2,449.3 472.5,449 472.8,449.1 473,449.1 473.2,449.4 473.5,449.4 473.8,449.4 474,449.8 474.2,449.6 474.5,450.1 474.8,449.7 475,449.8 475.2,450.3 475.5,450.5 476.3,450.4 477.1,450.9 477.9,451.4 478.7,451.7 479.5,451.8 480.3,452.1 481.1,452.4 481.9,452.3 482.7,452.4 483.5,452.4 484.3,452.6 485.1,452.9 485.9,453 486.7,452.8 487.5,452.8 488.3,453.3 489.1,452.8 489.9,453 490.7,453.1 491.5,453.3 492.3,452.9 493.1,453.3 493.9,453 494.7,453.1 495.5,453.3 496.3,453.5 497.1,453.1 497.9,453.4 498.7,453 499.5,453.1 501.5,453.2 503.5,453.1 505.5,453.6 507.5,453.4 509.5,453.6 511.5,453.4 513.5,453.4 515.5,453.1 517.5,453.7 519.5,453.3 521.5,453.5 523.5,453.6 525.5,453.3 527.5,453.3 529.5,453.6 531.5,453.6 533.5,453.6 535.5,453.3 537.5,452.8 537.8,452.8 538,452.8 538.3,452.8 538.5,452.9 538.8,452.8 539,452.5 539.3,452.8 539.5,452.8 539.8,452.8 540,452.4 540.3,452.5 540.5,452.8 540.8,452.5 541,452.4 541.3,452.3 541.5,452.7 541.8,452.3 542,452.5 542.3,452.5 542.5,452.4 543.3,452.5 544.1,452.7 544.9,452.3 545.7,452.5 546.5,452.7 547.3,452.7 548.1,452.6 548.9,452.5 549.7,452.5 550.5,452.9 551.3,452.6 552.1,452.5 552.9,452.6 553.7,452.4 554.5,452.7 555.3,452.9 556.1,452.8 556.9,452.4 557.7,452.9 558.5,452.5 559.3,452.4 560.1,452.6 560.9,452.7 561.7,452.4 562.5,453 563.3,452.7 564.1,452.4 564.9,452.8 565.7,453 566.5,452.5 568.5,452.6 570.5,452.5 572.5,452.7 574.5,452.7 576.5,452.5 578.5,453.1 580.5,453 582.5,452.7 584.5,452.9 586.5,452.9 588.5,453.1 590.5,452.7 592.5,453.2 594.5,453.1 596.5,453 598.5,453 600.5,453 602.5,452.7 604.5,453.2 606.5,453 608.5,452.8 610.5,452.9 612.5,453.2 614.5,453.2 616.5,452.9 618.5,453 620.5,453.3 622.5,452.8 624.5,453 626.5,453.4 628.5,453.2 630.5,453.1 632.5,453.1 634.5,452.9 636.5,453.3 638.5,453 640.5,452.9 642.5,453.4 644.5,452.9 646.5,453.1 648.5,453.3 650.5,453.2 652.5,453.1 654.5,453.3 656.5,453 658.5,453.3 660.5,453.2 662.5,453.5 664.5,453.4 666.5,453.1 668.5,453.5 670.5,453.2 672.5,453.2 674.5,453 676.5,453.1 678.5,453 680.5,453.1 682.5,453.2 684.5,453.4 686.5,453.5 688.5,453.4 690.5,453.6 692.5,453.6 694.5,453.5 696.5,453.2 698.5,453 700.5,453.4 702.5,453.2 704.5,453.6 706.5,453 708.5,453.6 710.5,453.2 712.5,453.5 714.5,453.5 716.5,453.3 718.5,453.5 720.5,453.6 722.5,453.1 724.5,453.6 726.5,453.7 728.5,453.6 730.5,453.4 732.5,453.4 734.5,519.6 734.7,524 735,526.5 735.2,528 735.5,529.1 735.7,528.8 736,528.4 736.2,528.2 736.5,527.1 736.7,526.3 737,524.7 737.2,523.9 737.5,522.3 737.7,521.3 738,519.9 738.2,518.4 738.5,517.1 738.7,515.7 739,514.7 739.2,513.2 739.5,512.5 740.3,508.4 741.1,504.9 741.9,501.7 742.7,498.8 743.5,496.3 744.3,493.2 745.1,491 745.9,488.9 746.7,486.8 747.5,485.2 748.3,483.2 749.1,481.7 749.9,480.1 750.7,478.6 751.5,477.3 752.3,476 753.1,474.8 753.9,474.3 754.7,473.2 755.5,471.9 756.3,471.6 757.1,470.5 757.9,469.8 758.7,469.4" stroke-width="2.6" />
<line x1="536.3" y1="420" x2="536.3" y2="599" stroke-width="1.2" />
<line x1="733.3" y1="426" x2="733.3" y2="531" stroke-width="1.3" />
</g>
<g fill="none" stroke="#000">
<line x1="99.5" y1="460.5" x2="408" y2="460.5" stroke-width="1.3" stroke-dasharray="7.6 6.2"/>
<line x1="458" y1="460.2" x2="763" y2="460.2" stroke-width="1.3" stroke-dasharray="7.6 6.2"/>
<polyline points="230.6,512.4 230.6,534.9 281.6,534.9" stroke-width="1.8" stroke-linejoin="miter"/>
<polyline points="590.8,513.5 590.8,534.2 642.5,534.2" stroke-width="1.8" stroke-linejoin="miter"/>
<line x1="385.2" y1="558.6" x2="385.2" y2="575.4" stroke-width="1.6" />
<polyline points="381.4,565.6 385.2,558.6 389,565.6" stroke-width="1.6" stroke-linejoin="miter"/>
<line x1="735.3" y1="541.6" x2="735.3" y2="557.4" stroke-width="1.6" />
<polyline points="731.5,548.6 735.3,541.6 739.1,548.6" stroke-width="1.6" stroke-linejoin="miter"/>
</g>
<text transform="translate(223.6 522.5) rotate(-90)" font-size="13.4" font-weight="normal" text-anchor="middle">2 &#181;A</text>
<text x="233" y="552" font-size="13.6" font-weight="normal" text-anchor="start" >200 ms</text>
<text transform="translate(584.8 521.5) rotate(-90)" font-size="13.4" font-weight="normal" text-anchor="middle">2 &#181;A</text>
<text x="593.6" y="553" font-size="13.6" font-weight="normal" text-anchor="start" >200 ms</text>
<g fill="none" stroke="#000">
<line x1="64.6" y1="688.6" x2="64.6" y2="889.6" stroke-width="2.1" />
<line x1="63.6" y1="888.6" x2="348.4" y2="888.6" stroke-width="2" />
<line x1="54" y1="879.4" x2="64.6" y2="879.4" stroke-width="1.9" />
<line x1="54" y1="841.4" x2="64.6" y2="841.4" stroke-width="1.9" />
<line x1="54" y1="803.5" x2="64.6" y2="803.5" stroke-width="1.9" />
<line x1="54" y1="765.5" x2="64.6" y2="765.5" stroke-width="1.9" />
<line x1="54" y1="727.6" x2="64.6" y2="727.6" stroke-width="1.9" />
<line x1="54" y1="689.6" x2="64.6" y2="689.6" stroke-width="1.9" />
<line x1="64.4" y1="888.6" x2="64.4" y2="899" stroke-width="2" />
<line x1="92.7" y1="888.6" x2="92.7" y2="899" stroke-width="2" />
<line x1="121" y1="888.6" x2="121" y2="899" stroke-width="2" />
<line x1="149.3" y1="888.6" x2="149.3" y2="899" stroke-width="2" />
<line x1="177.6" y1="888.6" x2="177.6" y2="899" stroke-width="2" />
<line x1="205.9" y1="888.6" x2="205.9" y2="899" stroke-width="2" />
<line x1="234.2" y1="888.6" x2="234.2" y2="899" stroke-width="2" />
<line x1="262.5" y1="888.6" x2="262.5" y2="899" stroke-width="2" />
<line x1="290.8" y1="888.6" x2="290.8" y2="899" stroke-width="2" />
<line x1="319.1" y1="888.6" x2="319.1" y2="899" stroke-width="2" />
<line x1="347.4" y1="888.6" x2="347.4" y2="899" stroke-width="2" />
<polyline points="78.6,878.8 80,878.8 81.4,878.7 82.8,878.6 84.2,878.4 85.6,878.3 87,878.1 88.5,878 89.9,877.8 91.3,877.5 92.7,877.3 94.1,877 95.5,876.6 96.9,876.2 98.4,875.8 99.8,875.3 101.2,874.7 102.6,874.1 104,873.3 105.4,872.5 106.9,871.5 108.3,870.5 109.7,869.3 111.1,867.9 112.5,866.4 113.9,864.7 115.3,862.7 116.8,860.6 118.2,858.2 119.6,855.6 121,852.7 122.4,849.5 123.8,846 125.2,842.1 126.7,838 128.1,833.5 129.5,828.7 130.9,823.6 132.3,818.3 133.7,812.6 135.2,806.8 136.6,800.7 138,794.6 139.4,788.3 140.8,782 142.2,775.8 143.6,769.6 145.1,763.6 146.5,757.7 147.9,752.1 149.3,746.7 150.7,741.7 152.1,736.9 153.5,732.4 155,728.3 156.4,724.4 157.8,720.9 159.2,717.7 160.6,714.8 162,712.2 163.4,709.8 164.9,707.6 166.3,705.7 167.7,704 169.1,702.5 170.5,701.1 171.9,699.9 173.4,698.8 174.8,697.9 176.2,697.1 177.6,696.3 179,695.7 180.4,695.1 181.8,694.6 183.3,694.2 184.7,693.8 186.1,693.4 187.5,693.1 188.9,692.9 190.3,692.6 191.8,692.4 193.2,692.2 194.6,692.1 196,691.9 197.4,691.8 198.8,691.7 200.2,691.6 201.7,691.5 203.1,691.5 204.5,691.4 205.9,691.4 207.3,691.3 208.7,691.3 210.1,691.2 211.6,691.2 213,691.2 214.4,691.1 215.8,691.1 217.2,691.1 218.6,691.1 220.1,691.1" stroke-width="1.6" />
<polyline points="121,879.2 122.4,879.2 123.8,879.2 125.2,879.1 126.7,879.1 128.1,879.1 129.5,879.1 130.9,879 132.3,879 133.7,878.9 135.2,878.9 136.6,878.8 138,878.8 139.4,878.7 140.8,878.6 142.2,878.5 143.6,878.5 145.1,878.4 146.5,878.2 147.9,878.1 149.3,878 150.7,877.8 152.1,877.7 153.5,877.5 155,877.3 156.4,877 157.8,876.8 159.2,876.5 160.6,876.2 162,875.9 163.4,875.5 164.9,875.1 166.3,874.6 167.7,874.1 169.1,873.6 170.5,873 171.9,872.3 173.4,871.6 174.8,870.8 176.2,869.9 177.6,869 179,867.9 180.4,866.8 181.8,865.5 183.3,864.1 184.7,862.7 186.1,861 187.5,859.3 188.9,857.4 190.3,855.3 191.8,853.1 193.2,850.7 194.6,848.1 196,845.3 197.4,842.4 198.8,839.3 200.2,836 201.7,832.5 203.1,828.8 204.5,824.9 205.9,820.9 207.3,816.7 208.7,812.3 210.1,807.9 211.6,803.3 213,798.6 214.4,793.9 215.8,789.1 217.2,784.3 218.6,779.5 220.1,774.8 221.5,770.1 222.9,765.4 224.3,760.9 225.7,756.5 227.1,752.2 228.5,748.1 230,744.1 231.4,740.3 232.8,736.7 234.2,733.3 235.6,730 237,727 238.4,724.1 239.9,721.4 241.3,718.9 242.7,716.6 244.1,714.4 245.5,712.4 246.9,710.6 248.4,708.9 249.8,707.3 251.2,705.9 252.6,704.5 254,703.3 255.4,702.2 256.8,701.2 258.3,700.3 259.7,699.4 261.1,698.7 262.5,698 263.9,697.3 265.3,696.7 266.7,696.2 268.2,695.7 269.6,695.3 271,694.9 272.4,694.6 273.8,694.2 275.2,693.9 276.6,693.7 278.1,693.4 279.5,693.2 280.9,693 282.3,692.8 283.7,692.7 285.1,692.5 286.6,692.4 288,692.3 289.4,692.2 290.8,692.1 292.2,692 293.6,691.9 295,691.8 296.5,691.8 297.9,691.7 299.3,691.7 300.7,691.6 302.1,691.6 303.5,691.5 305,691.5 306.4,691.5 307.8,691.4 309.2,691.4 310.6,691.4 312,691.4 313.4,691.3 314.9,691.3 316.3,691.3 317.7,691.3 319.1,691.3 320.5,691.3 321.9,691.3 323.3,691.3 324.8,691.2 326.2,691.2 327.6,691.2 329,691.2 330.4,691.2 331.8,691.2 333.2,691.2" stroke-width="1.6" />
</g>
<g stroke="#000" stroke-width="1.6">
<circle cx="78.6" cy="878.5" r="5.1" fill="none"/>
<circle cx="92.7" cy="879.4" r="5.1" fill="none"/>
<circle cx="106.9" cy="875.6" r="5.1" fill="none"/>
<circle cx="121" cy="854.7" r="5.1" fill="none"/>
<circle cx="135.2" cy="805.4" r="5.1" fill="none"/>
<circle cx="149.3" cy="750.4" r="5.1" fill="none"/>
<circle cx="163.4" cy="712.4" r="5.1" fill="none"/>
<circle cx="177.6" cy="694.4" r="5.1" fill="none"/>
<circle cx="191.8" cy="689.6" r="5.1" fill="none"/>
<circle cx="205.9" cy="690.6" r="5.1" fill="none"/>
<circle cx="220.1" cy="694.4" r="5.1" fill="none"/>
<circle cx="121" cy="879.4" r="5.3" fill="#000"/>
<circle cx="135.2" cy="878.5" r="5.3" fill="#000"/>
<circle cx="149.3" cy="876.6" r="5.3" fill="#000"/>
<circle cx="163.4" cy="872.8" r="5.3" fill="#000"/>
<circle cx="177.6" cy="866.1" r="5.3" fill="#000"/>
<circle cx="191.8" cy="849" r="5.3" fill="#000"/>
<circle cx="205.9" cy="818.7" r="5.3" fill="#000"/>
<circle cx="220.1" cy="774.1" r="5.3" fill="#000"/>
<circle cx="234.2" cy="732.3" r="5.3" fill="#000"/>
<circle cx="248.4" cy="706.7" r="5.3" fill="#000"/>
<circle cx="262.5" cy="694.4" r="5.3" fill="#000"/>
<circle cx="276.6" cy="690.6" r="5.3" fill="#000"/>
<circle cx="290.8" cy="689.6" r="5.3" fill="#000"/>
<circle cx="305" cy="690.6" r="5.3" fill="#000"/>
<circle cx="319.1" cy="692.5" r="5.3" fill="#000"/>
<circle cx="333.2" cy="694.4" r="5.3" fill="#000"/>
<circle cx="229.9" cy="836" r="5.6" fill="#000"/>
<circle cx="229.9" cy="854" r="5.6" fill="#fff"/>
</g>
<text x="257.4" y="841.6" font-size="16.3" font-weight="normal" text-anchor="start" >Activation</text>
<text x="257.4" y="859.6" font-size="16.3" font-weight="normal" text-anchor="start" >Deactivation</text>
<text x="47.8" y="884.2" font-size="13.1" font-weight="normal" text-anchor="end" >0.0</text>
<text x="47.8" y="846.2" font-size="13.1" font-weight="normal" text-anchor="end" >0.2</text>
<text x="47.8" y="808.3" font-size="13.1" font-weight="normal" text-anchor="end" >0.4</text>
<text x="47.8" y="770.3" font-size="13.1" font-weight="normal" text-anchor="end" >0.6</text>
<text x="47.8" y="732.4" font-size="13.1" font-weight="normal" text-anchor="end" >0.8</text>
<text x="47.8" y="694.4" font-size="13.1" font-weight="normal" text-anchor="end" >1.0</text>
<text x="64.4" y="917.8" font-size="13.1" font-weight="normal" text-anchor="middle" >-120</text>
<text x="92.7" y="917.8" font-size="13.1" font-weight="normal" text-anchor="middle" >-100</text>
<text x="121" y="917.8" font-size="13.1" font-weight="normal" text-anchor="middle" >-80</text>
<text x="149.3" y="917.8" font-size="13.1" font-weight="normal" text-anchor="middle" >-60</text>
<text x="177.6" y="917.8" font-size="13.1" font-weight="normal" text-anchor="middle" >-40</text>
<text x="205.9" y="917.8" font-size="13.1" font-weight="normal" text-anchor="middle" >-20</text>
<text x="234.2" y="917.8" font-size="13.1" font-weight="normal" text-anchor="middle" >0</text>
<text x="262.5" y="917.8" font-size="13.1" font-weight="normal" text-anchor="middle" >20</text>
<text x="290.8" y="917.8" font-size="13.1" font-weight="normal" text-anchor="middle" >40</text>
<text x="319.1" y="917.8" font-size="13.1" font-weight="normal" text-anchor="middle" >60</text>
<text x="347.4" y="917.8" font-size="13.1" font-weight="normal" text-anchor="middle" >80</text>
<text x="200.6" y="943" font-size="16.6" font-weight="bold" text-anchor="middle" >Voltage (mV)</text>
<text transform="translate(17.4 784.6) rotate(-90)" font-size="16.3" font-weight="bold" text-anchor="middle">G/G<tspan dy="6.6">max</tspan></text>
<g fill="none" stroke="#000">
<line x1="466.3" y1="687.2" x2="466.3" y2="888.5" stroke-width="2.1" />
<line x1="465.3" y1="887.5" x2="750.5" y2="887.5" stroke-width="2" />
<line x1="455.9" y1="877.4" x2="466.3" y2="877.4" stroke-width="1.9" />
<line x1="455.9" y1="839.6" x2="466.3" y2="839.6" stroke-width="1.9" />
<line x1="455.9" y1="801.7" x2="466.3" y2="801.7" stroke-width="1.9" />
<line x1="455.9" y1="763.9" x2="466.3" y2="763.9" stroke-width="1.9" />
<line x1="455.9" y1="726" x2="466.3" y2="726" stroke-width="1.9" />
<line x1="455.9" y1="688.2" x2="466.3" y2="688.2" stroke-width="1.9" />
<line x1="466" y1="887.5" x2="466" y2="897.7" stroke-width="2" />
<line x1="494.4" y1="887.5" x2="494.4" y2="897.7" stroke-width="2" />
<line x1="522.7" y1="887.5" x2="522.7" y2="897.7" stroke-width="2" />
<line x1="551" y1="887.5" x2="551" y2="897.7" stroke-width="2" />
<line x1="579.4" y1="887.5" x2="579.4" y2="897.7" stroke-width="2" />
<line x1="607.8" y1="887.5" x2="607.8" y2="897.7" stroke-width="2" />
<line x1="636.1" y1="887.5" x2="636.1" y2="897.7" stroke-width="2" />
<line x1="664.5" y1="887.5" x2="664.5" y2="897.7" stroke-width="2" />
<line x1="692.8" y1="887.5" x2="692.8" y2="897.7" stroke-width="2" />
<line x1="721.1" y1="887.5" x2="721.1" y2="897.7" stroke-width="2" />
<line x1="749.5" y1="887.5" x2="749.5" y2="897.7" stroke-width="2" />
<polyline points="480.2,877.4 481.6,877.4 483,877.4 484.4,877.4 485.8,877.4 487.3,877.4 488.7,877.4 490.1,877.4 491.5,877.4 492.9,877.4 494.4,877.4 495.8,877.4 497.2,877.4 498.6,877.3 500,877.3 501.4,877.3 502.9,877.3 504.3,877.3 505.7,877.3 507.1,877.3 508.5,877.2 509.9,877.2 511.4,877.2 512.8,877.2 514.2,877.1 515.6,877.1 517,877 518.4,877 519.9,876.9 521.3,876.8 522.7,876.7 524.1,876.6 525.5,876.4 527,876.3 528.4,876.1 529.8,875.9 531.2,875.7 532.6,875.4 534,875.1 535.5,874.7 536.9,874.2 538.3,873.7 539.7,873.1 541.1,872.5 542.5,871.7 544,870.8 545.4,869.8 546.8,868.6 548.2,867.2 549.6,865.6 551,863.8 552.5,861.8 553.9,859.5 555.3,856.9 556.7,854 558.1,850.7 559.6,847 561,843 562.4,838.5 563.8,833.7 565.2,828.4 566.6,822.7 568.1,816.7 569.5,810.3 570.9,803.7 572.3,796.8 573.7,789.9 575.1,782.8 576.6,775.8 578,768.8 579.4,762.1 580.8,755.5 582.2,749.3 583.7,743.4 585.1,737.9 586.5,732.8 587.9,728.1 589.3,723.8 590.7,719.9 592.2,716.4 593.6,713.3 595,710.5 596.4,708 597.8,705.8 599.2,703.9 600.7,702.2 602.1,700.7 603.5,699.4 604.9,698.3 606.3,697.3 607.8,696.4 609.2,695.7 610.6,695 612,694.5 613.4,694 614.8,693.6 616.3,693.2 617.7,692.9 619.1,692.7 620.5,692.4 621.9,692.2 623.3,692.1 624.8,691.9 626.2,691.8 627.6,691.7 629,691.6 630.4,691.5 631.8,691.5 633.3,691.4 634.7,691.3 636.1,691.3 637.5,691.3 638.9,691.2 640.4,691.2 641.8,691.2 643.2,691.2 644.6,691.1 646,691.1 647.4,691.1 648.9,691.1 650.3,691.1 651.7,691.1 653.1,691.1 654.5,691.1 655.9,691.1 657.4,691.1 658.8,691.1 660.2,691.1 661.6,691.1 663,691.1 664.5,691.1" stroke-width="1.6" />
<polyline points="551,876.2 552.5,876 553.9,875.9 555.3,875.8 556.7,875.6 558.1,875.4 559.6,875.2 561,875 562.4,874.8 563.8,874.6 565.2,874.3 566.6,874 568.1,873.7 569.5,873.3 570.9,872.9 572.3,872.5 573.7,872.1 575.1,871.5 576.6,871 578,870.4 579.4,869.7 580.8,869 582.2,868.3 583.7,867.4 585.1,866.5 586.5,865.5 587.9,864.5 589.3,863.3 590.7,862 592.2,860.7 593.6,859.2 595,857.6 596.4,855.9 597.8,854.1 599.2,852.1 600.7,850 602.1,847.8 603.5,845.4 604.9,842.9 606.3,840.2 607.8,837.3 609.2,834.3 610.6,831.2 612,827.9 613.4,824.4 614.8,820.8 616.3,817.1 617.7,813.2 619.1,809.2 620.5,805.1 621.9,801 623.3,796.7 624.8,792.4 626.2,788.1 627.6,783.7 629,779.3 630.4,774.9 631.8,770.6 633.3,766.3 634.7,762.1 636.1,758 637.5,754 638.9,750.1 640.4,746.3 641.8,742.6 643.2,739.1 644.6,735.7 646,732.5 647.4,729.4 648.9,726.5 650.3,723.8 651.7,721.2 653.1,718.7 654.5,716.4 655.9,714.3 657.4,712.3 658.8,710.4 660.2,708.6 661.6,707 663,705.5 664.5,704.1 665.9,702.8 667.3,701.6 668.7,700.5 670.1,699.5 671.5,698.5 673,697.7 674.4,696.9 675.8,696.1 677.2,695.5 678.6,694.8 680,694.3 681.5,693.7 682.9,693.3 684.3,692.8 685.7,692.4 687.1,692.1 688.5,691.7 690,691.4 691.4,691.1 692.8,690.9 694.2,690.7 695.6,690.4 697.1,690.2 698.5,690.1 699.9,689.9 701.3,689.8 702.7,689.6 704.1,689.5 705.6,689.4 707,689.3 708.4,689.2 709.8,689.1 711.2,689 712.6,688.9 714.1,688.9 715.5,688.8 716.9,688.8 718.3,688.7 719.7,688.7 721.1,688.6 722.6,688.6 724,688.6 725.4,688.5 726.8,688.5 728.2,688.5 729.7,688.4 731.1,688.4 732.5,688.4 733.9,688.4 735.3,688.4" stroke-width="1.6" />
</g>
<g stroke="#000" stroke-width="1.6">
<circle cx="480.2" cy="875.3" r="5.1" fill="none"/>
<circle cx="494.4" cy="877.4" r="5.1" fill="none"/>
<circle cx="508.5" cy="877.4" r="5.1" fill="none"/>
<circle cx="522.7" cy="876.8" r="5.1" fill="none"/>
<circle cx="536.9" cy="875.7" r="5.1" fill="none"/>
<circle cx="551" cy="863.8" r="5.1" fill="none"/>
<circle cx="565.2" cy="825.4" r="5.1" fill="none"/>
<circle cx="579.4" cy="765.4" r="5.1" fill="none"/>
<circle cx="593.6" cy="715.6" r="5.1" fill="none"/>
<circle cx="607.8" cy="692.2" r="5.1" fill="none"/>
<circle cx="621.9" cy="688.2" r="5.1" fill="none"/>
<circle cx="636.1" cy="690.7" r="5.1" fill="none"/>
<circle cx="650.3" cy="692.7" r="5.1" fill="none"/>
<circle cx="664.5" cy="695.8" r="5.1" fill="none"/>
<circle cx="551" cy="876.5" r="5.3" fill="#000"/>
<circle cx="565.2" cy="875.3" r="5.3" fill="#000"/>
<circle cx="579.4" cy="872.1" r="5.3" fill="#000"/>
<circle cx="593.6" cy="859.8" r="5.3" fill="#000"/>
<circle cx="607.8" cy="838" r="5.3" fill="#000"/>
<circle cx="621.9" cy="799.4" r="5.3" fill="#000"/>
<circle cx="636.1" cy="759" r="5.3" fill="#000"/>
<circle cx="650.3" cy="727.6" r="5.3" fill="#000"/>
<circle cx="664.5" cy="706.9" r="5.3" fill="#000"/>
<circle cx="678.6" cy="697.1" r="5.3" fill="#000"/>
<circle cx="692.8" cy="692.7" r="5.3" fill="#000"/>
<circle cx="707" cy="689.5" r="5.3" fill="#000"/>
<circle cx="721.1" cy="688.2" r="5.3" fill="#000"/>
<circle cx="735.3" cy="688.2" r="5.3" fill="#000"/>
<circle cx="643.5" cy="838" r="5.6" fill="#000"/>
<circle cx="643.5" cy="855.9" r="5.6" fill="#fff"/>
</g>
<text x="671.7" y="843.6" font-size="16.3" font-weight="normal" text-anchor="start" >Activation</text>
<text x="671.7" y="861.5" font-size="16.3" font-weight="normal" text-anchor="start" >Deactivation</text>
<text x="449.7" y="881.7" font-size="12.9" font-weight="normal" text-anchor="end" >0.0</text>
<text x="449.7" y="843.9" font-size="12.9" font-weight="normal" text-anchor="end" >0.2</text>
<text x="449.7" y="806" font-size="12.9" font-weight="normal" text-anchor="end" >0.4</text>
<text x="449.7" y="768.2" font-size="12.9" font-weight="normal" text-anchor="end" >0.6</text>
<text x="449.7" y="730.3" font-size="12.9" font-weight="normal" text-anchor="end" >0.8</text>
<text x="449.7" y="692.5" font-size="12.9" font-weight="normal" text-anchor="end" >1.0</text>
<text x="466" y="915.9" font-size="12.9" font-weight="normal" text-anchor="middle" >-120</text>
<text x="494.4" y="915.9" font-size="12.9" font-weight="normal" text-anchor="middle" >-100</text>
<text x="522.7" y="915.9" font-size="12.9" font-weight="normal" text-anchor="middle" >-80</text>
<text x="551" y="915.9" font-size="12.9" font-weight="normal" text-anchor="middle" >-60</text>
<text x="579.4" y="915.9" font-size="12.9" font-weight="normal" text-anchor="middle" >-40</text>
<text x="607.8" y="915.9" font-size="12.9" font-weight="normal" text-anchor="middle" >-20</text>
<text x="636.1" y="915.9" font-size="12.9" font-weight="normal" text-anchor="middle" >0</text>
<text x="664.5" y="915.9" font-size="12.9" font-weight="normal" text-anchor="middle" >20</text>
<text x="692.8" y="915.9" font-size="12.9" font-weight="normal" text-anchor="middle" >40</text>
<text x="721.1" y="915.9" font-size="12.9" font-weight="normal" text-anchor="middle" >60</text>
<text x="749.5" y="915.9" font-size="12.9" font-weight="normal" text-anchor="middle" >80</text>
<text x="605" y="942.5" font-size="16.6" font-weight="bold" text-anchor="middle" >Voltage (mV)</text>
<text transform="translate(418.8 785.4) rotate(-90)" font-size="16.3" font-weight="bold" text-anchor="middle">G/G<tspan dy="5.3">max</tspan></text>
</svg></body></html>
